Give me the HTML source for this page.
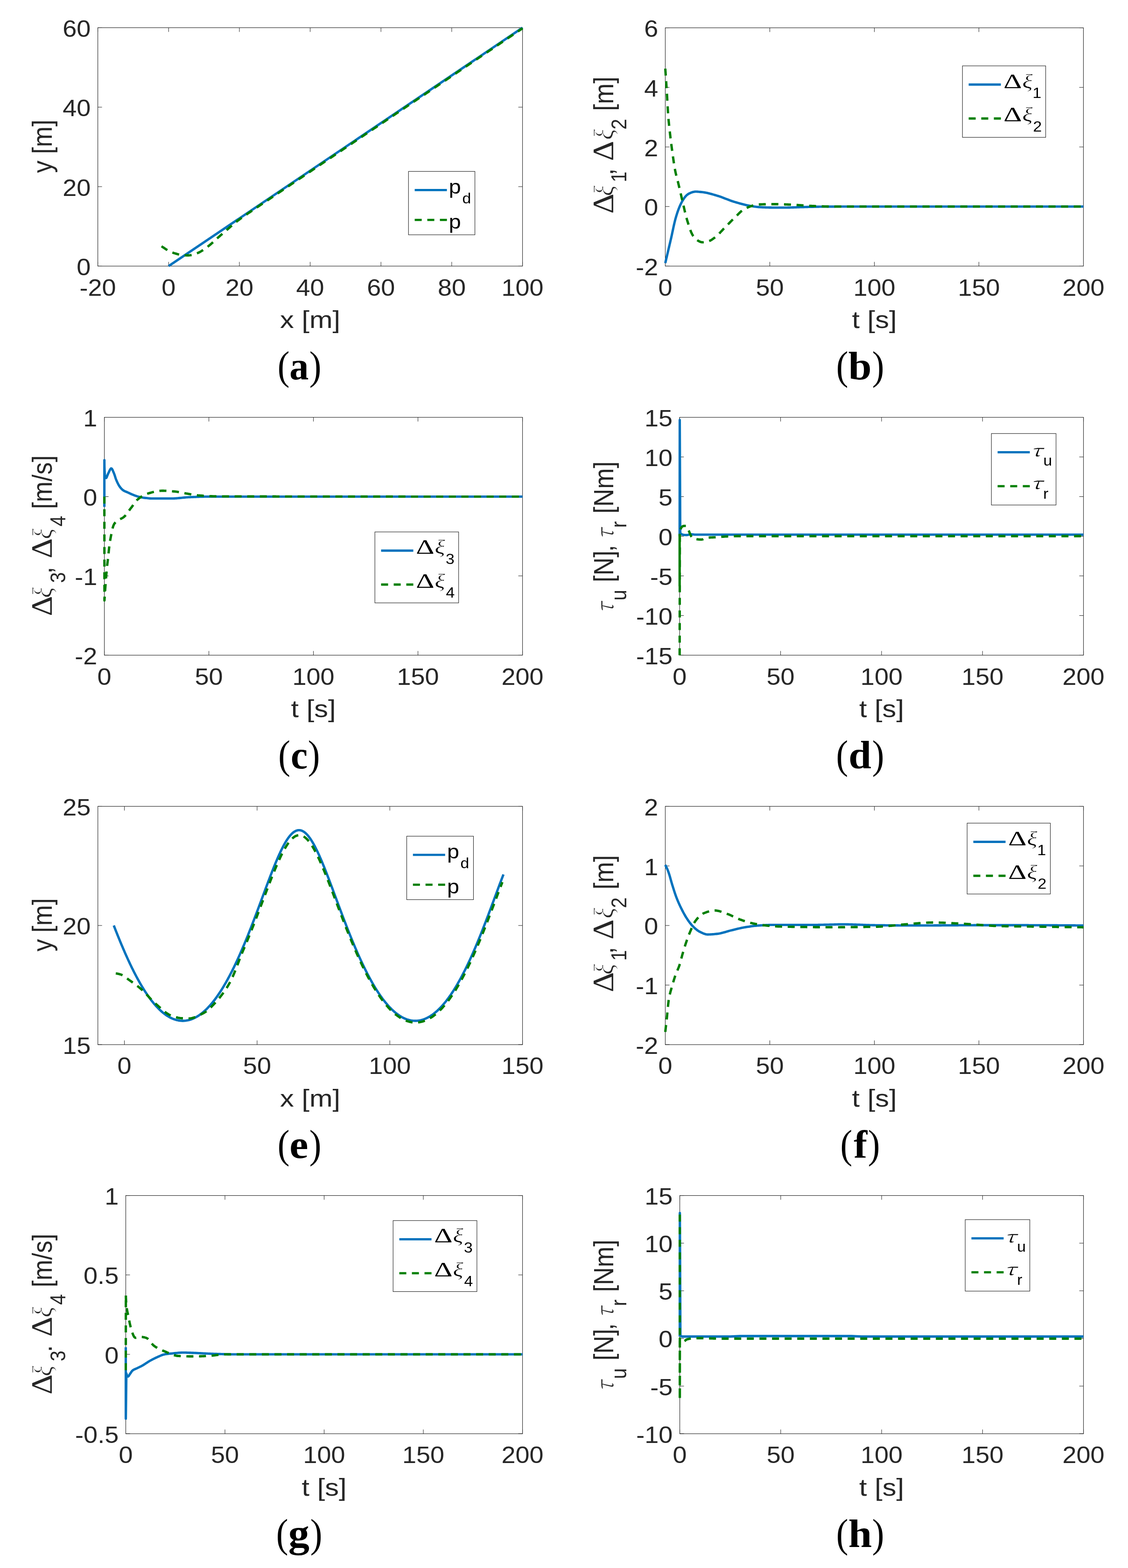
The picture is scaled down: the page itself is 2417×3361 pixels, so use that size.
<!DOCTYPE html>
<html><head><meta charset="utf-8"><title>Figure</title>
<style>html,body{margin:0;padding:0;background:#fff;} svg{display:block;} text{font-kerning:none;}</style></head>
<body><svg width="2417" height="3361" viewBox="0 0 2417 3361">
<rect width="2417" height="3361" fill="#fff"/>
<rect x="209.60" y="59.40" width="910.00" height="511.00" fill="none" stroke="#262626" stroke-width="1.1"/>
<line x1="209.60" y1="570.40" x2="209.60" y2="561.40" stroke="#262626" stroke-width="1.0"/>
<line x1="209.60" y1="59.40" x2="209.60" y2="68.40" stroke="#262626" stroke-width="1.0"/>
<text transform="translate(170.55,633.50) scale(1.0940,1)" style="font-family:'Liberation Sans', sans-serif;font-size:49.4px" fill="#262626">-20</text>
<line x1="361.27" y1="570.40" x2="361.27" y2="561.40" stroke="#262626" stroke-width="1.0"/>
<line x1="361.27" y1="59.40" x2="361.27" y2="68.40" stroke="#262626" stroke-width="1.0"/>
<text transform="translate(346.24,633.50) scale(1.0940,1)" style="font-family:'Liberation Sans', sans-serif;font-size:49.4px" fill="#262626">0</text>
<line x1="512.93" y1="570.40" x2="512.93" y2="561.40" stroke="#262626" stroke-width="1.0"/>
<line x1="512.93" y1="59.40" x2="512.93" y2="68.40" stroke="#262626" stroke-width="1.0"/>
<text transform="translate(482.88,633.50) scale(1.0940,1)" style="font-family:'Liberation Sans', sans-serif;font-size:49.4px" fill="#262626">20</text>
<line x1="664.60" y1="570.40" x2="664.60" y2="561.40" stroke="#262626" stroke-width="1.0"/>
<line x1="664.60" y1="59.40" x2="664.60" y2="68.40" stroke="#262626" stroke-width="1.0"/>
<text transform="translate(634.54,633.50) scale(1.0940,1)" style="font-family:'Liberation Sans', sans-serif;font-size:49.4px" fill="#262626">40</text>
<line x1="816.27" y1="570.40" x2="816.27" y2="561.40" stroke="#262626" stroke-width="1.0"/>
<line x1="816.27" y1="59.40" x2="816.27" y2="68.40" stroke="#262626" stroke-width="1.0"/>
<text transform="translate(786.21,633.50) scale(1.0940,1)" style="font-family:'Liberation Sans', sans-serif;font-size:49.4px" fill="#262626">60</text>
<line x1="967.93" y1="570.40" x2="967.93" y2="561.40" stroke="#262626" stroke-width="1.0"/>
<line x1="967.93" y1="59.40" x2="967.93" y2="68.40" stroke="#262626" stroke-width="1.0"/>
<text transform="translate(937.88,633.50) scale(1.0940,1)" style="font-family:'Liberation Sans', sans-serif;font-size:49.4px" fill="#262626">80</text>
<line x1="1119.60" y1="570.40" x2="1119.60" y2="561.40" stroke="#262626" stroke-width="1.0"/>
<line x1="1119.60" y1="59.40" x2="1119.60" y2="68.40" stroke="#262626" stroke-width="1.0"/>
<text transform="translate(1074.52,633.50) scale(1.0940,1)" style="font-family:'Liberation Sans', sans-serif;font-size:49.4px" fill="#262626">100</text>
<line x1="209.60" y1="570.40" x2="218.60" y2="570.40" stroke="#262626" stroke-width="1.0"/>
<line x1="1119.60" y1="570.40" x2="1110.60" y2="570.40" stroke="#262626" stroke-width="1.0"/>
<text transform="translate(164.24,589.90) scale(1.0940,1)" style="font-family:'Liberation Sans', sans-serif;font-size:49.4px" fill="#262626">0</text>
<line x1="209.60" y1="400.07" x2="218.60" y2="400.07" stroke="#262626" stroke-width="1.0"/>
<line x1="1119.60" y1="400.07" x2="1110.60" y2="400.07" stroke="#262626" stroke-width="1.0"/>
<text transform="translate(134.19,419.57) scale(1.0940,1)" style="font-family:'Liberation Sans', sans-serif;font-size:49.4px" fill="#262626">20</text>
<line x1="209.60" y1="229.73" x2="218.60" y2="229.73" stroke="#262626" stroke-width="1.0"/>
<line x1="1119.60" y1="229.73" x2="1110.60" y2="229.73" stroke="#262626" stroke-width="1.0"/>
<text transform="translate(134.19,249.23) scale(1.0940,1)" style="font-family:'Liberation Sans', sans-serif;font-size:49.4px" fill="#262626">40</text>
<line x1="209.60" y1="59.40" x2="218.60" y2="59.40" stroke="#262626" stroke-width="1.0"/>
<line x1="1119.60" y1="59.40" x2="1110.60" y2="59.40" stroke="#262626" stroke-width="1.0"/>
<text transform="translate(134.19,78.90) scale(1.0940,1)" style="font-family:'Liberation Sans', sans-serif;font-size:49.4px" fill="#262626">60</text>
<path d="M361.27,570.40 L1119.60,59.40" fill="none" stroke="#0072BD" stroke-width="5.1" stroke-linejoin="round"/>
<path d="M346.10,527.82 L347.75,528.97 L349.41,530.10 L351.07,531.22 L352.75,532.32 L354.43,533.42 L356.12,534.53 L357.81,535.63 L359.53,536.67 L361.28,537.62 L363.07,538.48 L364.90,539.32 L366.75,540.12 L368.62,540.89 L370.50,541.62 L372.40,542.30 L374.31,542.93 L376.22,543.51 L378.14,544.07 L380.08,544.63 L382.03,545.18 L383.99,545.70 L385.96,546.16 L387.93,546.54 L389.91,546.83 L391.90,547.00 L393.89,547.12 L395.90,547.22 L397.91,547.30 L399.93,547.37 L401.94,547.40 L403.94,547.39 L405.94,547.24 L407.94,546.98 L409.94,546.63 L411.92,546.23 L413.87,545.81 L415.80,545.35 L417.72,544.77 L419.62,544.09 L421.51,543.33 L423.36,542.52 L425.19,541.69 L426.98,540.83 L428.75,539.90 L430.49,538.89 L432.21,537.83 L433.91,536.74 L435.60,535.63 L437.27,534.52 L438.92,533.39 L440.56,532.23 L442.18,531.04 L443.78,529.82 L445.38,528.59 L446.95,527.34 L448.51,526.08 L450.05,524.81 L451.58,523.51 L453.09,522.19 L454.59,520.85 L456.08,519.51 L457.56,518.15 L459.03,516.78 L460.51,515.41 L461.98,514.04 L463.46,512.68 L464.94,511.32 L466.43,509.97 L467.93,508.64 L469.43,507.31 L470.94,505.98 L472.45,504.66 L473.96,503.33 L475.47,502.01 L476.98,500.68 L478.49,499.36 L480.00,498.05 L481.52,496.73 L483.04,495.41 L484.55,494.10 L486.07,492.78 L487.59,491.47 L489.11,490.15 L490.62,488.83 L492.14,487.51 L493.65,486.18 L495.16,484.86 L496.67,483.54 L498.19,482.22 L499.71,480.91 L501.24,479.61 L502.78,478.32 L504.33,477.04 L505.89,475.79 L507.46,474.55 L509.05,473.32 L510.65,472.11 L512.26,470.91 L513.87,469.72 L515.50,468.54 L517.13,467.37 L518.77,466.21 L520.41,465.05 L522.06,463.89 L523.71,462.74 L525.36,461.59 L527.01,460.45 L528.65,459.30 L530.30,458.16 L531.96,457.02 L533.62,455.89 L535.28,454.77 L536.95,453.64 L538.62,452.53 L540.28,451.41 L541.96,450.30 L543.63,449.18 L545.30,448.07 L546.97,446.96 L548.64,445.84 L550.31,444.72 L551.97,443.60 L553.64,442.48 L555.30,441.35 L556.97,440.23 L558.63,439.11 L560.30,437.99 L561.96,436.87 L563.63,435.74 L565.29,434.62 L566.96,433.50 L568.62,432.38 L570.29,431.26 L571.95,430.13 L573.62,429.01 L575.28,427.89 L576.95,426.77 L578.61,425.64 L580.28,424.52 L581.94,423.40 L583.61,422.28 L585.27,421.16 L586.94,420.03 L588.60,418.91 L590.27,417.79 L591.94,416.67 L593.60,415.55 L595.27,414.42 L596.93,413.30 L598.60,412.18 L600.26,411.06 L601.93,409.94 L603.59,408.81 L605.26,407.69 L606.92,406.57 L608.59,405.45 L610.25,404.33 L611.92,403.20 L613.58,402.08 L615.25,400.96 L616.91,399.84 L618.58,398.72 L620.24,397.59 L621.91,396.47 L623.58,395.35 L625.24,394.23 L626.91,393.11 L628.57,391.99 L630.24,390.86 L631.90,389.74 L633.57,388.62 L635.23,387.50 L636.90,386.38 L638.56,385.25 L640.23,384.13 L641.89,383.01 L643.56,381.89 L645.22,380.77 L646.89,379.64 L648.55,378.52 L650.22,377.40 L651.89,376.28 L653.55,375.16 L655.22,374.03 L656.88,372.91 L658.55,371.79 L660.21,370.67 L661.88,369.55 L663.54,368.43 L665.21,367.30 L666.87,366.18 L668.54,365.06 L670.20,363.94 L671.87,362.82 L673.53,361.69 L675.20,360.57 L676.86,359.45 L678.53,358.33 L680.19,357.21 L681.86,356.08 L683.53,354.96 L685.19,353.84 L686.86,352.72 L688.52,351.60 L690.19,350.47 L691.85,349.35 L693.52,348.23 L695.18,347.11 L696.85,345.98 L698.51,344.86 L700.18,343.74 L701.84,342.62 L703.51,341.50 L705.17,340.37 L706.84,339.25 L708.50,338.13 L710.17,337.01 L711.83,335.88 L713.50,334.76 L715.16,333.64 L716.83,332.52 L718.49,331.40 L720.16,330.27 L721.82,329.15 L723.49,328.03 L725.15,326.91 L726.82,325.78 L728.48,324.66 L730.15,323.54 L731.81,322.42 L733.48,321.29 L735.14,320.17 L736.81,319.05 L738.47,317.93 L740.14,316.80 L741.80,315.68 L743.47,314.56 L745.13,313.44 L746.80,312.31 L748.46,311.19 L750.13,310.07 L751.79,308.95 L753.45,307.82 L755.12,306.70 L756.78,305.58 L758.45,304.45 L760.11,303.33 L761.78,302.21 L763.44,301.09 L765.11,299.96 L766.77,298.84 L768.44,297.72 L770.10,296.60 L771.77,295.47 L773.43,294.35 L775.10,293.23 L776.76,292.10 L778.43,290.98 L780.09,289.86 L781.76,288.74 L783.42,287.61 L785.09,286.49 L786.75,285.37 L788.41,284.25 L790.08,283.12 L791.74,282.00 L793.41,280.88 L795.07,279.75 L796.74,278.63 L798.40,277.51 L800.07,276.39 L801.73,275.26 L803.40,274.14 L805.06,273.02 L806.73,271.89 L808.39,270.77 L810.06,269.65 L811.72,268.53 L813.38,267.40 L815.05,266.28 L816.71,265.16 L818.38,264.03 L820.04,262.91 L821.71,261.79 L823.37,260.67 L825.04,259.54 L826.70,258.42 L828.37,257.30 L830.03,256.17 L831.70,255.05 L833.36,253.93 L835.02,252.81 L836.69,251.68 L838.35,250.56 L840.02,249.44 L841.68,248.31 L843.35,247.19 L845.01,246.07 L846.68,244.94 L848.34,243.82 L850.01,242.70 L851.67,241.58 L853.34,240.45 L855.00,239.33 L856.66,238.21 L858.33,237.08 L859.99,235.96 L861.66,234.84 L863.32,233.71 L864.99,232.59 L866.65,231.47 L868.32,230.35 L869.98,229.22 L871.65,228.10 L873.31,226.98 L874.97,225.85 L876.64,224.73 L878.30,223.61 L879.97,222.48 L881.63,221.36 L883.30,220.24 L884.96,219.11 L886.63,217.99 L888.29,216.87 L889.95,215.75 L891.62,214.62 L893.28,213.50 L894.95,212.38 L896.61,211.25 L898.28,210.13 L899.94,209.01 L901.61,207.88 L903.27,206.76 L904.93,205.64 L906.60,204.51 L908.26,203.39 L909.93,202.27 L911.59,201.14 L913.26,200.02 L914.92,198.90 L916.59,197.77 L918.25,196.65 L919.91,195.53 L921.58,194.40 L923.24,193.28 L924.91,192.16 L926.57,191.03 L928.24,189.91 L929.90,188.79 L931.56,187.66 L933.23,186.54 L934.89,185.42 L936.56,184.29 L938.22,183.17 L939.89,182.05 L941.55,180.92 L943.21,179.80 L944.88,178.68 L946.54,177.55 L948.21,176.43 L949.87,175.31 L951.54,174.18 L953.20,173.06 L954.86,171.94 L956.53,170.81 L958.19,169.69 L959.86,168.57 L961.52,167.44 L963.19,166.32 L964.85,165.20 L966.51,164.07 L968.18,162.95 L969.84,161.83 L971.51,160.70 L973.17,159.58 L974.84,158.46 L976.50,157.33 L978.16,156.21 L979.83,155.08 L981.49,153.96 L983.16,152.84 L984.82,151.71 L986.48,150.59 L988.15,149.47 L989.81,148.34 L991.48,147.22 L993.14,146.10 L994.81,144.97 L996.47,143.85 L998.13,142.73 L999.80,141.60 L1001.46,140.48 L1003.13,139.35 L1004.79,138.23 L1006.45,137.11 L1008.12,135.98 L1009.78,134.86 L1011.45,133.74 L1013.11,132.61 L1014.77,131.49 L1016.44,130.37 L1018.10,129.24 L1019.77,128.12 L1021.43,126.99 L1023.10,125.87 L1024.76,124.75 L1026.42,123.62 L1028.09,122.50 L1029.75,121.38 L1031.42,120.25 L1033.08,119.13 L1034.74,118.00 L1036.41,116.88 L1038.07,115.76 L1039.74,114.63 L1041.40,113.51 L1043.06,112.38 L1044.73,111.26 L1046.39,110.14 L1048.06,109.01 L1049.72,107.89 L1051.38,106.77 L1053.05,105.64 L1054.71,104.52 L1056.38,103.39 L1058.04,102.27 L1059.70,101.15 L1061.37,100.02 L1063.03,98.90 L1064.69,97.77 L1066.36,96.65 L1068.02,95.53 L1069.69,94.40 L1071.35,93.28 L1073.01,92.15 L1074.68,91.03 L1076.34,89.91 L1078.01,88.78 L1079.67,87.66 L1081.33,86.53 L1083.00,85.41 L1084.66,84.29 L1086.32,83.16 L1087.99,82.04 L1089.65,80.91 L1091.32,79.79 L1092.98,78.66 L1094.64,77.54 L1096.31,76.42 L1097.97,75.29 L1099.64,74.17 L1101.30,73.04 L1102.96,71.92 L1104.63,70.80 L1106.29,69.67 L1107.95,68.55 L1109.62,67.42 L1111.28,66.30 L1112.95,65.17 L1114.61,64.05 L1116.27,62.93 L1117.94,61.80 L1119.60,60.68" fill="none" stroke="#007F00" stroke-width="5.1" stroke-linejoin="round" stroke-dasharray="15,12"/>
<text transform="translate(600.05,702.70) scale(1.1350,1)" style="font-family:'Liberation Sans', sans-serif;font-size:52.5px" fill="#262626">x [m]</text>
<text transform="translate(110.60,370.63) scale(1.1100,1) rotate(-90) scale(1.0000,1)" style="font-family:'Liberation Sans', sans-serif;font-size:53.0px" fill="#262626">y</text>
<text transform="translate(110.60,330.08) scale(1.1100,1) rotate(-90) scale(1.0000,1)" style="font-family:'Liberation Sans', sans-serif;font-size:53.0px" fill="#262626">[m]</text>
<text transform="translate(594.70,812.90) scale(0.9000,1)" style="font-family:'Liberation Serif', serif;font-size:86.0px" fill="#000">(</text>
<text transform="translate(662.73,812.90) scale(0.9000,1)" style="font-family:'Liberation Serif', serif;font-size:86.0px" fill="#000">)</text>
<text transform="translate(620.14,812.90) scale(0.9810,1)" style="font-family:'Liberation Serif', serif;font-size:84.0px;font-weight:bold" fill="#000">a</text>
<rect x="1425.50" y="59.60" width="896.00" height="510.80" fill="none" stroke="#262626" stroke-width="1.1"/>
<line x1="1425.50" y1="570.40" x2="1425.50" y2="561.40" stroke="#262626" stroke-width="1.0"/>
<line x1="1425.50" y1="59.60" x2="1425.50" y2="68.60" stroke="#262626" stroke-width="1.0"/>
<text transform="translate(1410.47,633.50) scale(1.0940,1)" style="font-family:'Liberation Sans', sans-serif;font-size:49.4px" fill="#262626">0</text>
<line x1="1649.50" y1="570.40" x2="1649.50" y2="561.40" stroke="#262626" stroke-width="1.0"/>
<line x1="1649.50" y1="59.60" x2="1649.50" y2="68.60" stroke="#262626" stroke-width="1.0"/>
<text transform="translate(1619.44,633.50) scale(1.0940,1)" style="font-family:'Liberation Sans', sans-serif;font-size:49.4px" fill="#262626">50</text>
<line x1="1873.50" y1="570.40" x2="1873.50" y2="561.40" stroke="#262626" stroke-width="1.0"/>
<line x1="1873.50" y1="59.60" x2="1873.50" y2="68.60" stroke="#262626" stroke-width="1.0"/>
<text transform="translate(1828.42,633.50) scale(1.0940,1)" style="font-family:'Liberation Sans', sans-serif;font-size:49.4px" fill="#262626">100</text>
<line x1="2097.50" y1="570.40" x2="2097.50" y2="561.40" stroke="#262626" stroke-width="1.0"/>
<line x1="2097.50" y1="59.60" x2="2097.50" y2="68.60" stroke="#262626" stroke-width="1.0"/>
<text transform="translate(2052.42,633.50) scale(1.0940,1)" style="font-family:'Liberation Sans', sans-serif;font-size:49.4px" fill="#262626">150</text>
<line x1="2321.50" y1="570.40" x2="2321.50" y2="561.40" stroke="#262626" stroke-width="1.0"/>
<line x1="2321.50" y1="59.60" x2="2321.50" y2="68.60" stroke="#262626" stroke-width="1.0"/>
<text transform="translate(2276.42,633.50) scale(1.0940,1)" style="font-family:'Liberation Sans', sans-serif;font-size:49.4px" fill="#262626">200</text>
<line x1="1425.50" y1="570.40" x2="1434.50" y2="570.40" stroke="#262626" stroke-width="1.0"/>
<line x1="2321.50" y1="570.40" x2="2312.50" y2="570.40" stroke="#262626" stroke-width="1.0"/>
<text transform="translate(1362.15,589.90) scale(1.0940,1)" style="font-family:'Liberation Sans', sans-serif;font-size:49.4px" fill="#262626">-2</text>
<line x1="1425.50" y1="442.70" x2="1434.50" y2="442.70" stroke="#262626" stroke-width="1.0"/>
<line x1="2321.50" y1="442.70" x2="2312.50" y2="442.70" stroke="#262626" stroke-width="1.0"/>
<text transform="translate(1380.14,462.20) scale(1.0940,1)" style="font-family:'Liberation Sans', sans-serif;font-size:49.4px" fill="#262626">0</text>
<line x1="1425.50" y1="315.00" x2="1434.50" y2="315.00" stroke="#262626" stroke-width="1.0"/>
<line x1="2321.50" y1="315.00" x2="2312.50" y2="315.00" stroke="#262626" stroke-width="1.0"/>
<text transform="translate(1380.14,334.50) scale(1.0940,1)" style="font-family:'Liberation Sans', sans-serif;font-size:49.4px" fill="#262626">2</text>
<line x1="1425.50" y1="187.30" x2="1434.50" y2="187.30" stroke="#262626" stroke-width="1.0"/>
<line x1="2321.50" y1="187.30" x2="2312.50" y2="187.30" stroke="#262626" stroke-width="1.0"/>
<text transform="translate(1380.14,206.80) scale(1.0940,1)" style="font-family:'Liberation Sans', sans-serif;font-size:49.4px" fill="#262626">4</text>
<line x1="1425.50" y1="59.60" x2="1434.50" y2="59.60" stroke="#262626" stroke-width="1.0"/>
<line x1="2321.50" y1="59.60" x2="2312.50" y2="59.60" stroke="#262626" stroke-width="1.0"/>
<text transform="translate(1380.14,79.10) scale(1.0940,1)" style="font-family:'Liberation Sans', sans-serif;font-size:49.4px" fill="#262626">6</text>
<path d="M1425.50,564.01 L1425.96,562.06 L1426.41,560.11 L1426.87,558.16 L1427.33,556.21 L1427.78,554.26 L1428.24,552.31 L1428.69,550.35 L1429.15,548.40 L1429.61,546.45 L1430.06,544.50 L1430.52,542.55 L1430.98,540.60 L1431.43,538.65 L1431.89,536.69 L1432.35,534.74 L1432.80,532.79 L1433.26,530.84 L1433.72,528.89 L1434.17,526.94 L1434.63,524.99 L1435.08,523.03 L1435.54,521.08 L1436.00,519.13 L1436.45,517.18 L1436.91,515.23 L1437.37,513.28 L1437.82,511.32 L1438.27,509.37 L1438.71,507.41 L1439.14,505.45 L1439.57,503.48 L1439.99,501.52 L1440.41,499.55 L1440.82,497.58 L1441.24,495.61 L1441.66,493.64 L1442.07,491.67 L1442.49,489.71 L1442.91,487.74 L1443.34,485.77 L1443.77,483.81 L1444.21,481.85 L1444.66,479.90 L1445.11,477.95 L1445.58,476.00 L1446.06,474.06 L1446.55,472.12 L1447.05,470.19 L1447.57,468.27 L1448.11,466.35 L1448.66,464.44 L1449.23,462.54 L1449.82,460.63 L1450.42,458.72 L1451.05,456.80 L1451.69,454.88 L1452.35,452.95 L1453.03,451.03 L1453.73,449.12 L1454.46,447.21 L1455.20,445.32 L1455.97,443.43 L1456.77,441.57 L1457.59,439.73 L1458.43,437.91 L1459.31,436.12 L1460.21,434.35 L1461.14,432.62 L1462.09,430.93 L1463.09,429.26 L1464.15,427.55 L1465.29,425.81 L1466.50,424.08 L1467.78,422.38 L1469.12,420.76 L1470.52,419.25 L1471.97,417.89 L1473.47,416.71 L1475.02,415.75 L1476.67,414.87 L1478.45,413.99 L1480.33,413.16 L1482.29,412.40 L1484.29,411.75 L1486.31,411.24 L1488.33,410.91 L1490.31,410.78 L1492.27,410.80 L1494.26,410.89 L1496.26,411.02 L1498.27,411.19 L1500.29,411.39 L1502.30,411.61 L1504.30,411.84 L1506.28,412.07 L1508.26,412.33 L1510.23,412.63 L1512.19,412.98 L1514.16,413.37 L1516.11,413.79 L1518.07,414.24 L1520.02,414.73 L1521.97,415.23 L1523.92,415.76 L1525.86,416.30 L1527.80,416.86 L1529.73,417.42 L1531.66,417.99 L1533.59,418.56 L1535.51,419.13 L1537.43,419.69 L1539.34,420.27 L1541.25,420.88 L1543.14,421.52 L1545.03,422.18 L1546.91,422.87 L1548.79,423.57 L1550.67,424.29 L1552.54,425.02 L1554.41,425.76 L1556.28,426.50 L1558.15,427.23 L1560.02,427.96 L1561.90,428.69 L1563.78,429.39 L1565.66,430.08 L1567.55,430.75 L1569.44,431.40 L1571.35,432.01 L1573.26,432.59 L1575.17,433.16 L1577.09,433.73 L1579.02,434.29 L1580.94,434.85 L1582.88,435.40 L1584.81,435.95 L1586.75,436.48 L1588.69,437.01 L1590.63,437.52 L1592.58,438.03 L1594.53,438.51 L1596.48,438.99 L1598.43,439.44 L1600.39,439.88 L1602.35,440.29 L1604.31,440.69 L1606.27,441.06 L1608.24,441.42 L1610.21,441.75 L1612.18,442.09 L1614.16,442.42 L1616.15,442.74 L1618.14,443.04 L1620.13,443.31 L1622.12,443.55 L1624.11,443.75 L1626.11,443.91 L1628.10,444.03 L1630.10,444.14 L1632.10,444.25 L1634.10,444.35 L1636.10,444.44 L1638.10,444.53 L1640.11,444.61 L1642.11,444.69 L1644.12,444.75 L1646.12,444.81 L1648.13,444.86 L1650.13,444.89 L1652.14,444.92 L1654.14,444.93 L1656.15,444.93 L1658.15,444.93 L1660.16,444.93 L1662.16,444.93 L1664.16,444.93 L1666.17,444.93 L1668.17,444.93 L1670.18,444.93 L1672.18,444.93 L1674.19,444.93 L1676.19,444.93 L1678.19,444.93 L1680.20,444.93 L1682.20,444.93 L1684.21,444.93 L1686.21,444.93 L1688.21,444.92 L1690.22,444.89 L1692.22,444.85 L1694.22,444.79 L1696.23,444.73 L1698.23,444.66 L1700.23,444.59 L1702.24,444.51 L1704.24,444.43 L1706.24,444.34 L1708.25,444.26 L1710.25,444.19 L1712.25,444.11 L1714.25,444.05 L1716.26,443.99 L1718.26,443.94 L1720.27,443.89 L1722.27,443.83 L1724.27,443.78 L1726.28,443.73 L1728.28,443.67 L1730.28,443.62 L1732.29,443.57 L1734.29,443.52 L1736.29,443.47 L1738.30,443.42 L1740.30,443.37 L1742.30,443.33 L1744.31,443.28 L1746.31,443.24 L1748.32,443.20 L1750.32,443.17 L1752.32,443.13 L1754.33,443.10 L1756.33,443.07 L1758.34,443.05 L1760.34,443.03 L1762.34,443.01 L1764.35,443.00 L1766.35,442.98 L1768.35,442.97 L1770.36,442.95 L1772.36,442.93 L1774.37,442.92 L1776.37,442.91 L1778.38,442.89 L1780.38,442.88 L1782.38,442.87 L1784.39,442.85 L1786.39,442.84 L1788.40,442.83 L1790.40,442.82 L1792.40,442.81 L1794.41,442.79 L1796.41,442.78 L1798.42,442.78 L1800.42,442.77 L1802.42,442.76 L1804.43,442.75 L1806.43,442.74 L1808.44,442.73 L1810.44,442.73 L1812.45,442.72 L1814.45,442.72 L1816.45,442.71 L1818.46,442.71 L1820.46,442.71 L1822.47,442.70 L1824.47,442.70 L1826.48,442.70 L1828.48,442.70 L1830.48,442.70 L1832.49,442.70 L1834.49,442.70 L1836.50,442.70 L1838.50,442.70 L1840.50,442.70 L1842.51,442.70 L1844.51,442.70 L1846.52,442.70 L1848.52,442.70 L1850.52,442.70 L1852.53,442.70 L1854.53,442.70 L1856.54,442.70 L1858.54,442.70 L1860.55,442.70 L1862.55,442.70 L1864.55,442.70 L1866.56,442.70 L1868.56,442.70 L1870.57,442.70 L1872.57,442.70 L1874.57,442.70 L1876.58,442.70 L1878.58,442.70 L1880.59,442.70 L1882.59,442.70 L1884.60,442.70 L1886.60,442.70 L1888.60,442.70 L1890.61,442.70 L1892.61,442.70 L1894.62,442.70 L1896.62,442.70 L1898.62,442.70 L1900.63,442.70 L1902.63,442.70 L1904.64,442.70 L1906.64,442.70 L1908.64,442.70 L1910.65,442.70 L1912.65,442.70 L1914.66,442.70 L1916.66,442.70 L1918.67,442.70 L1920.67,442.70 L1922.67,442.70 L1924.68,442.70 L1926.68,442.70 L1928.69,442.70 L1930.69,442.70 L1932.69,442.70 L1934.70,442.70 L1936.70,442.70 L1938.71,442.70 L1940.71,442.70 L1942.72,442.70 L1944.72,442.70 L1946.72,442.70 L1948.73,442.70 L1950.73,442.70 L1952.74,442.70 L1954.74,442.70 L1956.74,442.70 L1958.75,442.70 L1960.75,442.70 L1962.76,442.70 L1964.76,442.70 L1966.76,442.70 L1968.77,442.70 L1970.77,442.70 L1972.78,442.70 L1974.78,442.70 L1976.79,442.70 L1978.79,442.70 L1980.79,442.70 L1982.80,442.70 L1984.80,442.70 L1986.81,442.70 L1988.81,442.70 L1990.81,442.70 L1992.82,442.70 L1994.82,442.70 L1996.83,442.70 L1998.83,442.70 L2000.84,442.70 L2002.84,442.70 L2004.84,442.70 L2006.85,442.70 L2008.85,442.70 L2010.86,442.70 L2012.86,442.70 L2014.86,442.70 L2016.87,442.70 L2018.87,442.70 L2020.88,442.70 L2022.88,442.70 L2024.88,442.70 L2026.89,442.70 L2028.89,442.70 L2030.90,442.70 L2032.90,442.70 L2034.91,442.70 L2036.91,442.70 L2038.91,442.70 L2040.92,442.70 L2042.92,442.70 L2044.93,442.70 L2046.93,442.70 L2048.93,442.70 L2050.94,442.70 L2052.94,442.70 L2054.95,442.70 L2056.95,442.70 L2058.96,442.70 L2060.96,442.70 L2062.96,442.70 L2064.97,442.70 L2066.97,442.70 L2068.98,442.70 L2070.98,442.70 L2072.98,442.70 L2074.99,442.70 L2076.99,442.70 L2079.00,442.70 L2081.00,442.70 L2083.01,442.70 L2085.01,442.70 L2087.01,442.70 L2089.02,442.70 L2091.02,442.70 L2093.03,442.70 L2095.03,442.70 L2097.03,442.70 L2099.04,442.70 L2101.04,442.70 L2103.05,442.70 L2105.05,442.70 L2107.06,442.70 L2109.06,442.70 L2111.06,442.70 L2113.07,442.70 L2115.07,442.70 L2117.08,442.70 L2119.08,442.70 L2121.08,442.70 L2123.09,442.70 L2125.09,442.70 L2127.10,442.70 L2129.10,442.70 L2131.10,442.70 L2133.11,442.70 L2135.11,442.70 L2137.12,442.70 L2139.12,442.70 L2141.13,442.70 L2143.13,442.70 L2145.13,442.70 L2147.14,442.70 L2149.14,442.70 L2151.15,442.70 L2153.15,442.70 L2155.15,442.70 L2157.16,442.70 L2159.16,442.70 L2161.17,442.70 L2163.17,442.70 L2165.18,442.70 L2167.18,442.70 L2169.18,442.70 L2171.19,442.70 L2173.19,442.70 L2175.20,442.70 L2177.20,442.70 L2179.20,442.70 L2181.21,442.70 L2183.21,442.70 L2185.22,442.70 L2187.22,442.70 L2189.23,442.70 L2191.23,442.70 L2193.23,442.70 L2195.24,442.70 L2197.24,442.70 L2199.25,442.70 L2201.25,442.70 L2203.25,442.70 L2205.26,442.70 L2207.26,442.70 L2209.27,442.70 L2211.27,442.70 L2213.28,442.70 L2215.28,442.70 L2217.28,442.70 L2219.29,442.70 L2221.29,442.70 L2223.30,442.70 L2225.30,442.70 L2227.30,442.70 L2229.31,442.70 L2231.31,442.70 L2233.32,442.70 L2235.32,442.70 L2237.33,442.70 L2239.33,442.70 L2241.33,442.70 L2243.34,442.70 L2245.34,442.70 L2247.35,442.70 L2249.35,442.70 L2251.35,442.70 L2253.36,442.70 L2255.36,442.70 L2257.37,442.70 L2259.37,442.70 L2261.38,442.70 L2263.38,442.70 L2265.38,442.70 L2267.39,442.70 L2269.39,442.70 L2271.40,442.70 L2273.40,442.70 L2275.40,442.70 L2277.41,442.70 L2279.41,442.70 L2281.42,442.70 L2283.42,442.70 L2285.42,442.70 L2287.43,442.70 L2289.43,442.70 L2291.44,442.70 L2293.44,442.70 L2295.45,442.70 L2297.45,442.70 L2299.45,442.70 L2301.46,442.70 L2303.46,442.70 L2305.47,442.70 L2307.47,442.70 L2309.47,442.70 L2311.48,442.70 L2313.48,442.70 L2315.49,442.70 L2317.49,442.70 L2319.50,442.70 L2321.50,442.70" fill="none" stroke="#0072BD" stroke-width="5.1" stroke-linejoin="round"/>
<path d="M1425.50,147.07 L1425.64,149.07 L1425.78,151.07 L1425.92,153.07 L1426.06,155.07 L1426.20,157.07 L1426.34,159.07 L1426.47,161.07 L1426.61,163.07 L1426.74,165.07 L1426.88,167.07 L1427.01,169.07 L1427.15,171.07 L1427.28,173.07 L1427.41,175.07 L1427.55,177.07 L1427.68,179.07 L1427.81,181.06 L1427.94,183.06 L1428.07,185.06 L1428.19,187.06 L1428.32,189.06 L1428.45,191.06 L1428.58,193.06 L1428.70,195.06 L1428.83,197.06 L1428.95,199.06 L1429.07,201.07 L1429.18,203.07 L1429.30,205.07 L1429.41,207.07 L1429.52,209.07 L1429.63,211.07 L1429.74,213.07 L1429.84,215.08 L1429.95,217.08 L1430.05,219.08 L1430.16,221.08 L1430.27,223.08 L1430.38,225.08 L1430.49,227.08 L1430.60,229.09 L1430.71,231.09 L1430.83,233.09 L1430.95,235.09 L1431.07,237.09 L1431.20,239.09 L1431.33,241.09 L1431.47,243.08 L1431.61,245.08 L1431.75,247.08 L1431.91,249.08 L1432.07,251.07 L1432.23,253.07 L1432.40,255.07 L1432.58,257.06 L1432.77,259.06 L1432.96,261.05 L1433.15,263.05 L1433.35,265.04 L1433.56,267.03 L1433.76,269.03 L1433.98,271.02 L1434.19,273.02 L1434.41,275.01 L1434.63,277.00 L1434.85,278.99 L1435.07,280.99 L1435.30,282.98 L1435.52,284.97 L1435.75,286.96 L1435.98,288.95 L1436.20,290.94 L1436.43,292.93 L1436.66,294.92 L1436.90,296.91 L1437.13,298.90 L1437.38,300.89 L1437.62,302.88 L1437.87,304.87 L1438.12,306.86 L1438.37,308.85 L1438.63,310.84 L1438.89,312.82 L1439.15,314.81 L1439.41,316.80 L1439.68,318.78 L1439.95,320.77 L1440.22,322.76 L1440.49,324.74 L1440.76,326.73 L1441.04,328.71 L1441.31,330.70 L1441.58,332.68 L1441.86,334.67 L1442.13,336.66 L1442.41,338.65 L1442.68,340.63 L1442.97,342.62 L1443.25,344.61 L1443.54,346.59 L1443.84,348.57 L1444.14,350.56 L1444.44,352.54 L1444.76,354.52 L1445.08,356.49 L1445.42,358.47 L1445.76,360.44 L1446.11,362.41 L1446.47,364.37 L1446.86,366.33 L1447.26,368.29 L1447.69,370.25 L1448.14,372.20 L1448.61,374.15 L1449.09,376.09 L1449.58,378.03 L1450.08,379.98 L1450.59,381.92 L1451.10,383.86 L1451.61,385.80 L1452.11,387.74 L1452.61,389.69 L1453.10,391.63 L1453.58,393.58 L1454.05,395.53 L1454.51,397.48 L1454.97,399.43 L1455.43,401.38 L1455.88,403.33 L1456.34,405.28 L1456.79,407.24 L1457.24,409.19 L1457.69,411.14 L1458.14,413.09 L1458.59,415.05 L1459.04,417.00 L1459.50,418.95 L1459.95,420.90 L1460.40,422.86 L1460.86,424.81 L1461.32,426.76 L1461.78,428.71 L1462.25,430.66 L1462.71,432.61 L1463.18,434.56 L1463.64,436.51 L1464.09,438.47 L1464.54,440.43 L1464.98,442.39 L1465.43,444.35 L1465.87,446.31 L1466.32,448.27 L1466.76,450.23 L1467.21,452.19 L1467.67,454.15 L1468.13,456.10 L1468.61,458.06 L1469.09,460.00 L1469.58,461.94 L1470.08,463.88 L1470.60,465.81 L1471.13,467.74 L1471.68,469.65 L1472.24,471.56 L1472.82,473.46 L1473.42,475.37 L1474.03,477.32 L1474.63,479.30 L1475.25,481.32 L1475.88,483.35 L1476.53,485.39 L1477.19,487.43 L1477.88,489.46 L1478.58,491.47 L1479.31,493.46 L1480.07,495.41 L1480.86,497.32 L1481.68,499.18 L1482.54,500.98 L1483.43,502.70 L1484.37,504.35 L1485.35,505.91 L1486.38,507.37 L1487.45,508.73 L1488.62,510.03 L1489.98,511.38 L1491.50,512.76 L1493.17,514.11 L1494.95,515.40 L1496.81,516.58 L1498.73,517.60 L1500.67,518.42 L1502.61,519.00 L1504.52,519.29 L1506.40,519.29 L1508.37,519.14 L1510.39,518.87 L1512.43,518.51 L1514.44,518.09 L1516.40,517.64 L1518.27,517.14 L1520.10,516.47 L1521.91,515.63 L1523.69,514.65 L1525.43,513.56 L1527.15,512.40 L1528.82,511.20 L1530.45,510.00 L1532.04,508.83 L1533.59,507.63 L1535.10,506.36 L1536.58,505.04 L1538.03,503.67 L1539.46,502.27 L1540.87,500.83 L1542.26,499.37 L1543.64,497.88 L1545.01,496.39 L1546.38,494.90 L1547.76,493.40 L1549.14,491.92 L1550.53,490.46 L1551.93,489.02 L1553.35,487.60 L1554.76,486.18 L1556.17,484.75 L1557.58,483.32 L1558.98,481.89 L1560.38,480.46 L1561.78,479.02 L1563.19,477.59 L1564.60,476.16 L1566.01,474.74 L1567.43,473.32 L1568.85,471.92 L1570.28,470.52 L1571.73,469.13 L1573.18,467.75 L1574.63,466.36 L1576.08,464.93 L1577.52,463.47 L1578.97,461.98 L1580.41,460.49 L1581.86,459.00 L1583.31,457.52 L1584.78,456.07 L1586.26,454.66 L1587.77,453.30 L1589.29,452.00 L1590.84,450.77 L1592.42,449.63 L1594.03,448.59 L1595.68,447.65 L1597.36,446.82 L1599.10,446.02 L1600.88,445.21 L1602.71,444.41 L1604.57,443.63 L1606.47,442.88 L1608.40,442.15 L1610.35,441.47 L1612.32,440.83 L1614.30,440.24 L1616.29,439.71 L1618.29,439.25 L1620.29,438.87 L1622.28,438.56 L1624.26,438.35 L1626.23,438.23 L1628.19,438.16 L1630.17,438.10 L1632.15,438.04 L1634.14,437.98 L1636.14,437.92 L1638.14,437.87 L1640.15,437.83 L1642.16,437.79 L1644.17,437.75 L1646.19,437.71 L1648.21,437.68 L1650.22,437.66 L1652.24,437.64 L1654.26,437.62 L1656.27,437.61 L1658.29,437.60 L1660.29,437.59 L1662.30,437.59 L1664.30,437.61 L1666.30,437.63 L1668.31,437.66 L1670.31,437.71 L1672.31,437.76 L1674.32,437.82 L1676.32,437.89 L1678.32,437.96 L1680.33,438.04 L1682.33,438.12 L1684.33,438.21 L1686.34,438.30 L1688.34,438.39 L1690.34,438.48 L1692.34,438.57 L1694.35,438.67 L1696.35,438.76 L1698.35,438.85 L1700.35,438.94 L1702.35,439.04 L1704.35,439.16 L1706.35,439.28 L1708.35,439.41 L1710.35,439.54 L1712.35,439.69 L1714.35,439.83 L1716.35,439.98 L1718.35,440.12 L1720.35,440.27 L1722.35,440.42 L1724.35,440.56 L1726.35,440.70 L1728.35,440.84 L1730.35,440.97 L1732.35,441.09 L1734.35,441.20 L1736.35,441.30 L1738.35,441.39 L1740.35,441.47 L1742.35,441.55 L1744.35,441.63 L1746.36,441.71 L1748.36,441.79 L1750.36,441.87 L1752.36,441.95 L1754.37,442.03 L1756.37,442.10 L1758.37,442.18 L1760.38,442.25 L1762.38,442.31 L1764.38,442.37 L1766.39,442.43 L1768.39,442.49 L1770.40,442.53 L1772.40,442.58 L1774.40,442.61 L1776.41,442.65 L1778.41,442.67 L1780.41,442.69 L1782.42,442.70 L1784.42,442.70 L1786.43,442.70 L1788.43,442.70 L1790.43,442.70 L1792.44,442.70 L1794.44,442.70 L1796.44,442.70 L1798.45,442.70 L1800.45,442.70 L1802.45,442.70 L1804.46,442.70 L1806.46,442.70 L1808.46,442.70 L1810.47,442.70 L1812.47,442.70 L1814.47,442.70 L1816.48,442.70 L1818.48,442.70 L1820.49,442.70 L1822.49,442.70 L1824.49,442.70 L1826.50,442.70 L1828.50,442.70 L1830.50,442.70 L1832.51,442.70 L1834.51,442.70 L1836.51,442.70 L1838.52,442.70 L1840.52,442.70 L1842.52,442.70 L1844.53,442.70 L1846.53,442.70 L1848.54,442.70 L1850.54,442.70 L1852.54,442.70 L1854.55,442.70 L1856.55,442.70 L1858.55,442.70 L1860.56,442.70 L1862.56,442.70 L1864.56,442.70 L1866.57,442.70 L1868.57,442.70 L1870.57,442.70 L1872.58,442.70 L1874.58,442.70 L1876.59,442.70 L1878.59,442.70 L1880.59,442.70 L1882.60,442.70 L1884.60,442.70 L1886.60,442.70 L1888.61,442.70 L1890.61,442.70 L1892.61,442.70 L1894.62,442.70 L1896.62,442.70 L1898.63,442.70 L1900.63,442.70 L1902.63,442.70 L1904.64,442.70 L1906.64,442.70 L1908.64,442.70 L1910.65,442.70 L1912.65,442.70 L1914.65,442.70 L1916.66,442.70 L1918.66,442.70 L1920.67,442.70 L1922.67,442.70 L1924.67,442.70 L1926.68,442.70 L1928.68,442.70 L1930.68,442.70 L1932.69,442.70 L1934.69,442.70 L1936.70,442.70 L1938.70,442.70 L1940.70,442.70 L1942.71,442.70 L1944.71,442.70 L1946.71,442.70 L1948.72,442.70 L1950.72,442.70 L1952.73,442.70 L1954.73,442.70 L1956.73,442.70 L1958.74,442.70 L1960.74,442.70 L1962.74,442.70 L1964.75,442.70 L1966.75,442.70 L1968.76,442.70 L1970.76,442.70 L1972.76,442.70 L1974.77,442.70 L1976.77,442.70 L1978.77,442.70 L1980.78,442.70 L1982.78,442.70 L1984.79,442.70 L1986.79,442.70 L1988.79,442.70 L1990.80,442.70 L1992.80,442.70 L1994.81,442.70 L1996.81,442.70 L1998.81,442.70 L2000.82,442.70 L2002.82,442.70 L2004.82,442.70 L2006.83,442.70 L2008.83,442.70 L2010.84,442.70 L2012.84,442.70 L2014.84,442.70 L2016.85,442.70 L2018.85,442.70 L2020.86,442.70 L2022.86,442.70 L2024.86,442.70 L2026.87,442.70 L2028.87,442.70 L2030.88,442.70 L2032.88,442.70 L2034.88,442.70 L2036.89,442.70 L2038.89,442.70 L2040.89,442.70 L2042.90,442.70 L2044.90,442.70 L2046.91,442.70 L2048.91,442.70 L2050.91,442.70 L2052.92,442.70 L2054.92,442.70 L2056.93,442.70 L2058.93,442.70 L2060.93,442.70 L2062.94,442.70 L2064.94,442.70 L2066.95,442.70 L2068.95,442.70 L2070.95,442.70 L2072.96,442.70 L2074.96,442.70 L2076.97,442.70 L2078.97,442.70 L2080.97,442.70 L2082.98,442.70 L2084.98,442.70 L2086.99,442.70 L2088.99,442.70 L2090.99,442.70 L2093.00,442.70 L2095.00,442.70 L2097.01,442.70 L2099.01,442.70 L2101.01,442.70 L2103.02,442.70 L2105.02,442.70 L2107.03,442.70 L2109.03,442.70 L2111.04,442.70 L2113.04,442.70 L2115.04,442.70 L2117.05,442.70 L2119.05,442.70 L2121.06,442.70 L2123.06,442.70 L2125.06,442.70 L2127.07,442.70 L2129.07,442.70 L2131.08,442.70 L2133.08,442.70 L2135.09,442.70 L2137.09,442.70 L2139.09,442.70 L2141.10,442.70 L2143.10,442.70 L2145.11,442.70 L2147.11,442.70 L2149.11,442.70 L2151.12,442.70 L2153.12,442.70 L2155.13,442.70 L2157.13,442.70 L2159.14,442.70 L2161.14,442.70 L2163.14,442.70 L2165.15,442.70 L2167.15,442.70 L2169.16,442.70 L2171.16,442.70 L2173.17,442.70 L2175.17,442.70 L2177.17,442.70 L2179.18,442.70 L2181.18,442.70 L2183.19,442.70 L2185.19,442.70 L2187.20,442.70 L2189.20,442.70 L2191.20,442.70 L2193.21,442.70 L2195.21,442.70 L2197.22,442.70 L2199.22,442.70 L2201.23,442.70 L2203.23,442.70 L2205.23,442.70 L2207.24,442.70 L2209.24,442.70 L2211.25,442.70 L2213.25,442.70 L2215.26,442.70 L2217.26,442.70 L2219.27,442.70 L2221.27,442.70 L2223.27,442.70 L2225.28,442.70 L2227.28,442.70 L2229.29,442.70 L2231.29,442.70 L2233.30,442.70 L2235.30,442.70 L2237.31,442.70 L2239.31,442.70 L2241.31,442.70 L2243.32,442.70 L2245.32,442.70 L2247.33,442.70 L2249.33,442.70 L2251.34,442.70 L2253.34,442.70 L2255.35,442.70 L2257.35,442.70 L2259.36,442.70 L2261.36,442.70 L2263.36,442.70 L2265.37,442.70 L2267.37,442.70 L2269.38,442.70 L2271.38,442.70 L2273.39,442.70 L2275.39,442.70 L2277.40,442.70 L2279.40,442.70 L2281.41,442.70 L2283.41,442.70 L2285.42,442.70 L2287.42,442.70 L2289.42,442.70 L2291.43,442.70 L2293.43,442.70 L2295.44,442.70 L2297.44,442.70 L2299.45,442.70 L2301.45,442.70 L2303.46,442.70 L2305.46,442.70 L2307.47,442.70 L2309.47,442.70 L2311.48,442.70 L2313.48,442.70 L2315.49,442.70 L2317.49,442.70 L2319.50,442.70 L2321.50,442.70" fill="none" stroke="#007F00" stroke-width="5.1" stroke-linejoin="round" stroke-dasharray="15,12"/>
<text transform="translate(1825.49,702.70) scale(1.1350,1)" style="font-family:'Liberation Sans', sans-serif;font-size:52.5px" fill="#262626">t [s]</text>
<text transform="translate(1313.50,458.05) scale(1.1100,1) rotate(-90) scale(1.1600,1)" style="font-family:'Liberation Serif', serif;font-size:57.7px" fill="#262626">Δ</text>
<text transform="translate(1313.50,420.45) scale(1.1100,1) rotate(-90) scale(1.0000,1)" style="font-family:'Liberation Serif', serif;font-size:54px;font-style:italic" fill="#262626" stroke="#fff" stroke-width="1.10">ξ</text>
<text transform="translate(1342.36,390.76) scale(1.1100,1) rotate(-90) scale(1.0000,1)" style="font-family:'Liberation Sans', sans-serif;font-size:41.5px" fill="#262626">1</text>
<text transform="translate(1313.50,375.76) scale(1.1100,1) rotate(-90) scale(1.0000,1)" style="font-family:'Liberation Sans', sans-serif;font-size:53.0px" fill="#262626">,</text>
<text transform="translate(1313.50,344.95) scale(1.1100,1) rotate(-90) scale(1.1600,1)" style="font-family:'Liberation Serif', serif;font-size:57.7px" fill="#262626">Δ</text>
<text transform="translate(1313.50,299.85) scale(1.1100,1) rotate(-90) scale(1.0000,1)" style="font-family:'Liberation Serif', serif;font-size:54px;font-style:italic" fill="#262626" stroke="#fff" stroke-width="1.10">ξ</text>
<text transform="translate(1342.36,277.79) scale(1.1100,1) rotate(-90) scale(1.0000,1)" style="font-family:'Liberation Sans', sans-serif;font-size:41.5px" fill="#262626">2</text>
<text transform="translate(1313.50,237.78) scale(1.1100,1) rotate(-90) scale(1.0000,1)" style="font-family:'Liberation Sans', sans-serif;font-size:53.0px" fill="#262626">[m]</text>
<text transform="translate(1791.70,812.90) scale(0.9000,1)" style="font-family:'Liberation Serif', serif;font-size:86.0px" fill="#000">(</text>
<text transform="translate(1868.63,812.90) scale(0.9000,1)" style="font-family:'Liberation Serif', serif;font-size:86.0px" fill="#000">)</text>
<text transform="translate(1817.76,812.90) scale(1.0676,1)" style="font-family:'Liberation Serif', serif;font-size:84.0px;font-weight:bold" fill="#000">b</text>
<rect x="223.60" y="894.50" width="896.00" height="509.90" fill="none" stroke="#262626" stroke-width="1.1"/>
<line x1="223.60" y1="1404.40" x2="223.60" y2="1395.40" stroke="#262626" stroke-width="1.0"/>
<line x1="223.60" y1="894.50" x2="223.60" y2="903.50" stroke="#262626" stroke-width="1.0"/>
<text transform="translate(208.57,1467.50) scale(1.0940,1)" style="font-family:'Liberation Sans', sans-serif;font-size:49.4px" fill="#262626">0</text>
<line x1="447.60" y1="1404.40" x2="447.60" y2="1395.40" stroke="#262626" stroke-width="1.0"/>
<line x1="447.60" y1="894.50" x2="447.60" y2="903.50" stroke="#262626" stroke-width="1.0"/>
<text transform="translate(417.54,1467.50) scale(1.0940,1)" style="font-family:'Liberation Sans', sans-serif;font-size:49.4px" fill="#262626">50</text>
<line x1="671.60" y1="1404.40" x2="671.60" y2="1395.40" stroke="#262626" stroke-width="1.0"/>
<line x1="671.60" y1="894.50" x2="671.60" y2="903.50" stroke="#262626" stroke-width="1.0"/>
<text transform="translate(626.52,1467.50) scale(1.0940,1)" style="font-family:'Liberation Sans', sans-serif;font-size:49.4px" fill="#262626">100</text>
<line x1="895.60" y1="1404.40" x2="895.60" y2="1395.40" stroke="#262626" stroke-width="1.0"/>
<line x1="895.60" y1="894.50" x2="895.60" y2="903.50" stroke="#262626" stroke-width="1.0"/>
<text transform="translate(850.52,1467.50) scale(1.0940,1)" style="font-family:'Liberation Sans', sans-serif;font-size:49.4px" fill="#262626">150</text>
<line x1="1119.60" y1="1404.40" x2="1119.60" y2="1395.40" stroke="#262626" stroke-width="1.0"/>
<line x1="1119.60" y1="894.50" x2="1119.60" y2="903.50" stroke="#262626" stroke-width="1.0"/>
<text transform="translate(1074.52,1467.50) scale(1.0940,1)" style="font-family:'Liberation Sans', sans-serif;font-size:49.4px" fill="#262626">200</text>
<line x1="223.60" y1="1404.40" x2="232.60" y2="1404.40" stroke="#262626" stroke-width="1.0"/>
<line x1="1119.60" y1="1404.40" x2="1110.60" y2="1404.40" stroke="#262626" stroke-width="1.0"/>
<text transform="translate(160.25,1423.90) scale(1.0940,1)" style="font-family:'Liberation Sans', sans-serif;font-size:49.4px" fill="#262626">-2</text>
<line x1="223.60" y1="1234.43" x2="232.60" y2="1234.43" stroke="#262626" stroke-width="1.0"/>
<line x1="1119.60" y1="1234.43" x2="1110.60" y2="1234.43" stroke="#262626" stroke-width="1.0"/>
<text transform="translate(160.25,1253.93) scale(1.0940,1)" style="font-family:'Liberation Sans', sans-serif;font-size:49.4px" fill="#262626">-1</text>
<line x1="223.60" y1="1064.47" x2="232.60" y2="1064.47" stroke="#262626" stroke-width="1.0"/>
<line x1="1119.60" y1="1064.47" x2="1110.60" y2="1064.47" stroke="#262626" stroke-width="1.0"/>
<text transform="translate(178.24,1083.97) scale(1.0940,1)" style="font-family:'Liberation Sans', sans-serif;font-size:49.4px" fill="#262626">0</text>
<line x1="223.60" y1="894.50" x2="232.60" y2="894.50" stroke="#262626" stroke-width="1.0"/>
<line x1="1119.60" y1="894.50" x2="1110.60" y2="894.50" stroke="#262626" stroke-width="1.0"/>
<text transform="translate(178.24,914.00) scale(1.0940,1)" style="font-family:'Liberation Sans', sans-serif;font-size:49.4px" fill="#262626">1</text>
<path d="M223.60,1086.56 L223.69,986.28 L223.70,990.99 L223.74,995.31 L223.80,999.27 L223.89,1002.87 L224.00,1006.13 L224.13,1009.07 L224.29,1011.69 L224.46,1014.03 L224.66,1016.08 L224.87,1017.87 L225.11,1019.41 L225.36,1020.71 L225.63,1021.80 L225.92,1022.67 L226.22,1023.36 L226.53,1023.88 L226.87,1024.23 L227.21,1024.44 L227.57,1024.52 L228.02,1024.13 L228.69,1022.78 L229.51,1020.76 L230.44,1018.39 L231.41,1015.98 L232.37,1013.85 L233.32,1011.91 L234.35,1009.68 L235.42,1007.46 L236.51,1005.55 L237.59,1004.29 L238.62,1003.99 L239.66,1004.81 L240.71,1006.46 L241.73,1008.62 L242.70,1010.93 L243.58,1013.07 L244.36,1014.91 L245.06,1016.78 L245.71,1018.68 L246.32,1020.60 L246.92,1022.53 L247.54,1024.45 L248.19,1026.35 L248.90,1028.21 L249.68,1030.05 L250.49,1031.90 L251.33,1033.75 L252.21,1035.59 L253.13,1037.40 L254.09,1039.18 L255.10,1040.91 L256.16,1042.58 L257.28,1044.18 L258.51,1045.75 L259.86,1047.29 L261.31,1048.75 L262.83,1050.07 L264.41,1051.19 L266.10,1052.17 L267.89,1053.05 L269.75,1053.87 L271.64,1054.66 L273.52,1055.45 L275.35,1056.28 L277.17,1057.14 L278.98,1057.99 L280.81,1058.82 L282.64,1059.63 L284.50,1060.38 L286.36,1061.12 L288.24,1061.85 L290.12,1062.55 L292.02,1063.22 L293.93,1063.83 L295.85,1064.38 L297.78,1064.88 L299.73,1065.35 L301.70,1065.80 L303.67,1066.21 L305.64,1066.57 L307.63,1066.87 L309.61,1067.12 L311.59,1067.36 L313.59,1067.59 L315.58,1067.81 L317.58,1068.01 L319.59,1068.19 L321.59,1068.34 L323.60,1068.45 L325.60,1068.52 L327.60,1068.55 L329.61,1068.55 L331.61,1068.55 L333.61,1068.55 L335.62,1068.55 L337.62,1068.55 L339.63,1068.55 L341.64,1068.55 L343.64,1068.55 L345.65,1068.55 L347.66,1068.55 L349.66,1068.55 L351.67,1068.55 L353.68,1068.55 L355.68,1068.55 L357.69,1068.55 L359.69,1068.55 L361.70,1068.55 L363.70,1068.55 L365.71,1068.55 L367.71,1068.54 L369.71,1068.51 L371.71,1068.45 L373.71,1068.36 L375.71,1068.24 L377.71,1068.11 L379.71,1067.95 L381.71,1067.78 L383.71,1067.59 L385.71,1067.40 L387.71,1067.20 L389.71,1067.00 L391.71,1066.80 L393.71,1066.60 L395.71,1066.41 L397.71,1066.23 L399.71,1066.07 L401.71,1065.92 L403.71,1065.79 L405.71,1065.69 L407.71,1065.60 L409.71,1065.52 L411.72,1065.43 L413.72,1065.35 L415.72,1065.27 L417.73,1065.19 L419.73,1065.11 L421.74,1065.03 L423.74,1064.96 L425.75,1064.89 L427.75,1064.82 L429.76,1064.76 L431.76,1064.70 L433.77,1064.65 L435.77,1064.60 L437.78,1064.56 L439.78,1064.53 L441.79,1064.50 L443.79,1064.48 L445.80,1064.47 L447.80,1064.47 L449.81,1064.47 L451.81,1064.47 L453.82,1064.47 L455.82,1064.47 L457.83,1064.47 L459.83,1064.47 L461.84,1064.47 L463.84,1064.47 L465.85,1064.47 L467.85,1064.47 L469.86,1064.47 L471.86,1064.47 L473.87,1064.47 L475.87,1064.47 L477.88,1064.47 L479.88,1064.47 L481.89,1064.47 L483.89,1064.47 L485.89,1064.47 L487.90,1064.47 L489.90,1064.47 L491.91,1064.47 L493.91,1064.47 L495.92,1064.47 L497.92,1064.47 L499.93,1064.47 L501.93,1064.47 L503.94,1064.47 L505.94,1064.47 L507.95,1064.47 L509.95,1064.47 L511.96,1064.47 L513.96,1064.47 L515.97,1064.47 L517.97,1064.47 L519.98,1064.47 L521.98,1064.47 L523.99,1064.47 L525.99,1064.47 L528.00,1064.47 L530.00,1064.47 L532.01,1064.47 L534.01,1064.47 L536.02,1064.47 L538.02,1064.47 L540.03,1064.47 L542.03,1064.47 L544.04,1064.47 L546.04,1064.47 L548.05,1064.47 L550.05,1064.47 L552.06,1064.47 L554.06,1064.47 L556.07,1064.47 L558.07,1064.47 L560.08,1064.47 L562.08,1064.47 L564.09,1064.47 L566.09,1064.47 L568.10,1064.47 L570.10,1064.47 L572.11,1064.47 L574.11,1064.47 L576.12,1064.47 L578.12,1064.47 L580.13,1064.47 L582.13,1064.47 L584.14,1064.47 L586.14,1064.47 L588.15,1064.47 L590.15,1064.47 L592.16,1064.47 L594.16,1064.47 L596.17,1064.47 L598.17,1064.47 L600.18,1064.47 L602.18,1064.47 L604.19,1064.47 L606.19,1064.47 L608.20,1064.47 L610.20,1064.47 L612.21,1064.47 L614.21,1064.47 L616.22,1064.47 L618.22,1064.47 L620.23,1064.47 L622.23,1064.47 L624.24,1064.47 L626.24,1064.47 L628.25,1064.47 L630.25,1064.47 L632.26,1064.47 L634.26,1064.47 L636.27,1064.47 L638.27,1064.47 L640.28,1064.47 L642.28,1064.47 L644.29,1064.47 L646.29,1064.47 L648.30,1064.47 L650.30,1064.47 L652.31,1064.47 L654.31,1064.47 L656.32,1064.47 L658.32,1064.47 L660.33,1064.47 L662.33,1064.47 L664.34,1064.47 L666.34,1064.47 L668.35,1064.47 L670.35,1064.47 L672.36,1064.47 L674.36,1064.47 L676.37,1064.47 L678.37,1064.47 L680.38,1064.47 L682.38,1064.47 L684.39,1064.47 L686.39,1064.47 L688.40,1064.47 L690.40,1064.47 L692.41,1064.47 L694.41,1064.47 L696.42,1064.47 L698.42,1064.47 L700.43,1064.47 L702.43,1064.47 L704.44,1064.47 L706.44,1064.47 L708.45,1064.47 L710.45,1064.47 L712.46,1064.47 L714.47,1064.47 L716.47,1064.47 L718.48,1064.47 L720.48,1064.47 L722.49,1064.47 L724.49,1064.47 L726.50,1064.47 L728.50,1064.47 L730.51,1064.47 L732.51,1064.47 L734.52,1064.47 L736.52,1064.47 L738.53,1064.47 L740.53,1064.47 L742.54,1064.47 L744.54,1064.47 L746.55,1064.47 L748.55,1064.47 L750.56,1064.47 L752.56,1064.47 L754.57,1064.47 L756.57,1064.47 L758.58,1064.47 L760.59,1064.47 L762.59,1064.47 L764.60,1064.47 L766.60,1064.47 L768.61,1064.47 L770.61,1064.47 L772.62,1064.47 L774.62,1064.47 L776.63,1064.47 L778.63,1064.47 L780.64,1064.47 L782.64,1064.47 L784.65,1064.47 L786.65,1064.47 L788.66,1064.47 L790.66,1064.47 L792.67,1064.47 L794.68,1064.47 L796.68,1064.47 L798.69,1064.47 L800.69,1064.47 L802.70,1064.47 L804.70,1064.47 L806.71,1064.47 L808.71,1064.47 L810.72,1064.47 L812.72,1064.47 L814.73,1064.47 L816.73,1064.47 L818.74,1064.47 L820.74,1064.47 L822.75,1064.47 L824.76,1064.47 L826.76,1064.47 L828.77,1064.47 L830.77,1064.47 L832.78,1064.47 L834.78,1064.47 L836.79,1064.47 L838.79,1064.47 L840.80,1064.47 L842.80,1064.47 L844.81,1064.47 L846.81,1064.47 L848.82,1064.47 L850.83,1064.47 L852.83,1064.47 L854.84,1064.47 L856.84,1064.47 L858.85,1064.47 L860.85,1064.47 L862.86,1064.47 L864.86,1064.47 L866.87,1064.47 L868.87,1064.47 L870.88,1064.47 L872.89,1064.47 L874.89,1064.47 L876.90,1064.47 L878.90,1064.47 L880.91,1064.47 L882.91,1064.47 L884.92,1064.47 L886.92,1064.47 L888.93,1064.47 L890.94,1064.47 L892.94,1064.47 L894.95,1064.47 L896.95,1064.47 L898.96,1064.47 L900.96,1064.47 L902.97,1064.47 L904.97,1064.47 L906.98,1064.47 L908.99,1064.47 L910.99,1064.47 L913.00,1064.47 L915.00,1064.47 L917.01,1064.47 L919.01,1064.47 L921.02,1064.47 L923.02,1064.47 L925.03,1064.47 L927.04,1064.47 L929.04,1064.47 L931.05,1064.47 L933.05,1064.47 L935.06,1064.47 L937.06,1064.47 L939.07,1064.47 L941.08,1064.47 L943.08,1064.47 L945.09,1064.47 L947.09,1064.47 L949.10,1064.47 L951.10,1064.47 L953.11,1064.47 L955.12,1064.47 L957.12,1064.47 L959.13,1064.47 L961.13,1064.47 L963.14,1064.47 L965.14,1064.47 L967.15,1064.47 L969.16,1064.47 L971.16,1064.47 L973.17,1064.47 L975.17,1064.47 L977.18,1064.47 L979.18,1064.47 L981.19,1064.47 L983.20,1064.47 L985.20,1064.47 L987.21,1064.47 L989.21,1064.47 L991.22,1064.47 L993.22,1064.47 L995.23,1064.47 L997.24,1064.47 L999.24,1064.47 L1001.25,1064.47 L1003.25,1064.47 L1005.26,1064.47 L1007.26,1064.47 L1009.27,1064.47 L1011.28,1064.47 L1013.28,1064.47 L1015.29,1064.47 L1017.29,1064.47 L1019.30,1064.47 L1021.31,1064.47 L1023.31,1064.47 L1025.32,1064.47 L1027.32,1064.47 L1029.33,1064.47 L1031.34,1064.47 L1033.34,1064.47 L1035.35,1064.47 L1037.35,1064.47 L1039.36,1064.47 L1041.36,1064.47 L1043.37,1064.47 L1045.38,1064.47 L1047.38,1064.47 L1049.39,1064.47 L1051.39,1064.47 L1053.40,1064.47 L1055.41,1064.47 L1057.41,1064.47 L1059.42,1064.47 L1061.42,1064.47 L1063.43,1064.47 L1065.44,1064.47 L1067.44,1064.47 L1069.45,1064.47 L1071.45,1064.47 L1073.46,1064.47 L1075.47,1064.47 L1077.47,1064.47 L1079.48,1064.47 L1081.48,1064.47 L1083.49,1064.47 L1085.50,1064.47 L1087.50,1064.47 L1089.51,1064.47 L1091.51,1064.47 L1093.52,1064.47 L1095.53,1064.47 L1097.53,1064.47 L1099.54,1064.47 L1101.54,1064.47 L1103.55,1064.47 L1105.56,1064.47 L1107.56,1064.47 L1109.57,1064.47 L1111.58,1064.47 L1113.58,1064.47 L1115.59,1064.47 L1117.59,1064.47 L1119.60,1064.47" fill="none" stroke="#0072BD" stroke-width="5.1" stroke-linejoin="round"/>
<path d="M223.60,1064.47 L223.82,1287.12 L223.95,1285.12 L224.07,1283.12 L224.20,1281.12 L224.33,1279.12 L224.46,1277.12 L224.60,1275.12 L224.73,1273.12 L224.87,1271.12 L225.01,1269.12 L225.14,1267.12 L225.29,1265.12 L225.43,1263.12 L225.57,1261.12 L225.72,1259.12 L225.86,1257.12 L226.01,1255.12 L226.16,1253.12 L226.31,1251.12 L226.46,1249.12 L226.61,1247.12 L226.77,1245.12 L226.92,1243.12 L227.07,1241.12 L227.23,1239.12 L227.39,1237.13 L227.55,1235.13 L227.71,1233.13 L227.87,1231.13 L228.04,1229.13 L228.21,1227.13 L228.38,1225.14 L228.56,1223.14 L228.74,1221.14 L228.93,1219.15 L229.12,1217.15 L229.31,1215.16 L229.51,1213.16 L229.73,1211.17 L229.96,1209.18 L230.20,1207.19 L230.45,1205.20 L230.70,1203.21 L230.96,1201.22 L231.20,1199.23 L231.44,1197.24 L231.67,1195.25 L231.89,1193.26 L232.10,1191.26 L232.30,1189.26 L232.50,1187.27 L232.69,1185.27 L232.89,1183.27 L233.08,1181.28 L233.28,1179.28 L233.49,1177.29 L233.70,1175.30 L233.93,1173.30 L234.16,1171.32 L234.42,1169.33 L234.69,1167.34 L234.97,1165.36 L235.27,1163.38 L235.57,1161.39 L235.90,1159.41 L236.23,1157.43 L236.57,1155.45 L236.93,1153.48 L237.30,1151.51 L237.68,1149.54 L238.07,1147.57 L238.47,1145.61 L238.87,1143.63 L239.27,1141.60 L239.67,1139.56 L240.09,1137.51 L240.53,1135.47 L241.00,1133.46 L241.50,1131.48 L242.06,1129.56 L242.66,1127.70 L243.33,1125.92 L244.07,1124.24 L244.98,1122.64 L246.19,1121.10 L247.62,1119.62 L249.19,1118.22 L250.83,1116.89 L252.45,1115.66 L254.07,1114.55 L255.82,1113.55 L257.65,1112.64 L259.51,1111.75 L261.34,1110.84 L263.08,1109.86 L264.67,1108.77 L266.13,1107.54 L267.52,1106.20 L268.85,1104.77 L270.14,1103.26 L271.38,1101.68 L272.60,1100.05 L273.80,1098.39 L274.98,1096.71 L276.16,1095.01 L277.34,1093.33 L278.54,1091.67 L279.76,1090.05 L281.00,1088.47 L282.23,1086.86 L283.44,1085.21 L284.63,1083.54 L285.81,1081.85 L287.00,1080.17 L288.20,1078.51 L289.41,1076.87 L290.65,1075.29 L291.93,1073.76 L293.25,1072.31 L294.62,1070.94 L296.04,1069.68 L297.54,1068.48 L299.10,1067.30 L300.73,1066.14 L302.42,1065.01 L304.16,1063.92 L305.94,1062.87 L307.75,1061.86 L309.58,1060.92 L311.44,1060.04 L313.30,1059.23 L315.17,1058.51 L317.03,1057.87 L318.89,1057.30 L320.77,1056.74 L322.68,1056.19 L324.61,1055.64 L326.55,1055.11 L328.52,1054.60 L330.50,1054.12 L332.48,1053.67 L334.48,1053.26 L336.49,1052.89 L338.49,1052.57 L340.50,1052.30 L342.50,1052.10 L344.51,1051.96 L346.50,1051.89 L348.49,1051.89 L350.48,1051.92 L352.47,1051.98 L354.48,1052.05 L356.48,1052.15 L358.49,1052.26 L360.50,1052.39 L362.51,1052.53 L364.51,1052.68 L366.52,1052.84 L368.52,1053.01 L370.52,1053.18 L372.52,1053.36 L374.50,1053.54 L376.49,1053.77 L378.47,1054.04 L380.45,1054.35 L382.42,1054.69 L384.40,1055.04 L386.37,1055.42 L388.35,1055.80 L390.32,1056.19 L392.29,1056.58 L394.27,1056.95 L396.24,1057.31 L398.22,1057.65 L400.20,1057.98 L402.17,1058.33 L404.15,1058.69 L406.13,1059.06 L408.10,1059.43 L410.08,1059.79 L412.06,1060.15 L414.04,1060.49 L416.02,1060.81 L418.00,1061.11 L419.98,1061.38 L421.97,1061.62 L423.96,1061.82 L425.95,1061.97 L427.94,1062.12 L429.93,1062.26 L431.93,1062.40 L433.93,1062.54 L435.93,1062.67 L437.93,1062.80 L439.93,1062.92 L441.93,1063.04 L443.94,1063.15 L445.94,1063.26 L447.95,1063.36 L449.95,1063.45 L451.96,1063.54 L453.97,1063.62 L455.97,1063.69 L457.98,1063.76 L459.99,1063.81 L461.99,1063.86 L464.00,1063.90 L466.00,1063.93 L468.01,1063.95 L470.01,1063.96 L472.02,1063.96 L474.02,1063.97 L476.02,1063.97 L478.03,1063.97 L480.03,1063.98 L482.03,1063.98 L484.04,1063.99 L486.04,1063.99 L488.05,1063.99 L490.05,1064.00 L492.05,1064.00 L494.06,1064.01 L496.06,1064.01 L498.06,1064.01 L500.07,1064.02 L502.07,1064.02 L504.07,1064.03 L506.08,1064.03 L508.08,1064.03 L510.08,1064.04 L512.09,1064.04 L514.09,1064.05 L516.10,1064.05 L518.10,1064.05 L520.10,1064.06 L522.11,1064.06 L524.11,1064.06 L526.11,1064.07 L528.12,1064.07 L530.12,1064.08 L532.13,1064.08 L534.13,1064.08 L536.13,1064.09 L538.14,1064.09 L540.14,1064.09 L542.14,1064.10 L544.15,1064.10 L546.15,1064.10 L548.16,1064.11 L550.16,1064.11 L552.16,1064.11 L554.17,1064.12 L556.17,1064.12 L558.17,1064.12 L560.18,1064.13 L562.18,1064.13 L564.19,1064.13 L566.19,1064.14 L568.19,1064.14 L570.20,1064.14 L572.20,1064.15 L574.20,1064.15 L576.21,1064.15 L578.21,1064.16 L580.22,1064.16 L582.22,1064.16 L584.22,1064.17 L586.23,1064.17 L588.23,1064.17 L590.24,1064.17 L592.24,1064.18 L594.24,1064.18 L596.25,1064.18 L598.25,1064.19 L600.26,1064.19 L602.26,1064.19 L604.26,1064.19 L606.27,1064.20 L608.27,1064.20 L610.28,1064.20 L612.28,1064.21 L614.28,1064.21 L616.29,1064.21 L618.29,1064.21 L620.30,1064.22 L622.30,1064.22 L624.30,1064.22 L626.31,1064.22 L628.31,1064.23 L630.32,1064.23 L632.32,1064.23 L634.32,1064.23 L636.33,1064.24 L638.33,1064.24 L640.34,1064.24 L642.34,1064.25 L644.34,1064.25 L646.35,1064.25 L648.35,1064.25 L650.36,1064.25 L652.36,1064.26 L654.36,1064.26 L656.37,1064.26 L658.37,1064.26 L660.38,1064.27 L662.38,1064.27 L664.38,1064.27 L666.39,1064.27 L668.39,1064.28 L670.40,1064.28 L672.40,1064.28 L674.41,1064.28 L676.41,1064.28 L678.41,1064.29 L680.42,1064.29 L682.42,1064.29 L684.43,1064.29 L686.43,1064.30 L688.44,1064.30 L690.44,1064.30 L692.44,1064.30 L694.45,1064.30 L696.45,1064.31 L698.46,1064.31 L700.46,1064.31 L702.47,1064.31 L704.47,1064.31 L706.47,1064.32 L708.48,1064.32 L710.48,1064.32 L712.49,1064.32 L714.49,1064.32 L716.50,1064.32 L718.50,1064.33 L720.50,1064.33 L722.51,1064.33 L724.51,1064.33 L726.52,1064.33 L728.52,1064.34 L730.53,1064.34 L732.53,1064.34 L734.54,1064.34 L736.54,1064.34 L738.54,1064.34 L740.55,1064.35 L742.55,1064.35 L744.56,1064.35 L746.56,1064.35 L748.57,1064.35 L750.57,1064.35 L752.58,1064.36 L754.58,1064.36 L756.59,1064.36 L758.59,1064.36 L760.59,1064.36 L762.60,1064.36 L764.60,1064.37 L766.61,1064.37 L768.61,1064.37 L770.62,1064.37 L772.62,1064.37 L774.63,1064.37 L776.63,1064.37 L778.64,1064.38 L780.64,1064.38 L782.65,1064.38 L784.65,1064.38 L786.65,1064.38 L788.66,1064.38 L790.66,1064.38 L792.67,1064.38 L794.67,1064.39 L796.68,1064.39 L798.68,1064.39 L800.69,1064.39 L802.69,1064.39 L804.70,1064.39 L806.70,1064.39 L808.71,1064.39 L810.71,1064.40 L812.72,1064.40 L814.72,1064.40 L816.73,1064.40 L818.73,1064.40 L820.74,1064.40 L822.74,1064.40 L824.75,1064.40 L826.75,1064.40 L828.76,1064.41 L830.76,1064.41 L832.77,1064.41 L834.77,1064.41 L836.78,1064.41 L838.78,1064.41 L840.79,1064.41 L842.79,1064.41 L844.80,1064.41 L846.80,1064.42 L848.81,1064.42 L850.81,1064.42 L852.82,1064.42 L854.82,1064.42 L856.83,1064.42 L858.83,1064.42 L860.84,1064.42 L862.84,1064.42 L864.85,1064.42 L866.85,1064.42 L868.86,1064.42 L870.86,1064.43 L872.87,1064.43 L874.87,1064.43 L876.88,1064.43 L878.88,1064.43 L880.89,1064.43 L882.89,1064.43 L884.90,1064.43 L886.90,1064.43 L888.91,1064.43 L890.91,1064.43 L892.92,1064.43 L894.92,1064.43 L896.93,1064.44 L898.94,1064.44 L900.94,1064.44 L902.95,1064.44 L904.95,1064.44 L906.96,1064.44 L908.96,1064.44 L910.97,1064.44 L912.97,1064.44 L914.98,1064.44 L916.98,1064.44 L918.99,1064.44 L920.99,1064.44 L923.00,1064.44 L925.01,1064.44 L927.01,1064.44 L929.02,1064.45 L931.02,1064.45 L933.03,1064.45 L935.03,1064.45 L937.04,1064.45 L939.04,1064.45 L941.05,1064.45 L943.06,1064.45 L945.06,1064.45 L947.07,1064.45 L949.07,1064.45 L951.08,1064.45 L953.08,1064.45 L955.09,1064.45 L957.09,1064.45 L959.10,1064.45 L961.11,1064.45 L963.11,1064.45 L965.12,1064.45 L967.12,1064.45 L969.13,1064.45 L971.13,1064.46 L973.14,1064.46 L975.15,1064.46 L977.15,1064.46 L979.16,1064.46 L981.16,1064.46 L983.17,1064.46 L985.18,1064.46 L987.18,1064.46 L989.19,1064.46 L991.19,1064.46 L993.20,1064.46 L995.20,1064.46 L997.21,1064.46 L999.22,1064.46 L1001.22,1064.46 L1003.23,1064.46 L1005.23,1064.46 L1007.24,1064.46 L1009.25,1064.46 L1011.25,1064.46 L1013.26,1064.46 L1015.26,1064.46 L1017.27,1064.46 L1019.28,1064.46 L1021.28,1064.46 L1023.29,1064.46 L1025.30,1064.46 L1027.30,1064.46 L1029.31,1064.46 L1031.31,1064.46 L1033.32,1064.46 L1035.33,1064.46 L1037.33,1064.46 L1039.34,1064.46 L1041.34,1064.46 L1043.35,1064.46 L1045.36,1064.46 L1047.36,1064.46 L1049.37,1064.46 L1051.38,1064.46 L1053.38,1064.46 L1055.39,1064.46 L1057.40,1064.47 L1059.40,1064.47 L1061.41,1064.47 L1063.41,1064.47 L1065.42,1064.47 L1067.43,1064.47 L1069.43,1064.47 L1071.44,1064.47 L1073.45,1064.47 L1075.45,1064.47 L1077.46,1064.47 L1079.47,1064.47 L1081.47,1064.47 L1083.48,1064.47 L1085.49,1064.47 L1087.49,1064.47 L1089.50,1064.47 L1091.51,1064.47 L1093.51,1064.47 L1095.52,1064.47 L1097.53,1064.47 L1099.53,1064.47 L1101.54,1064.47 L1103.55,1064.47 L1105.55,1064.47 L1107.56,1064.47 L1109.57,1064.47 L1111.57,1064.47 L1113.58,1064.47 L1115.59,1064.47 L1117.59,1064.47 L1119.60,1064.47" fill="none" stroke="#007F00" stroke-width="5.1" stroke-linejoin="round" stroke-dasharray="15,12"/>
<text transform="translate(623.59,1536.70) scale(1.1350,1)" style="font-family:'Liberation Sans', sans-serif;font-size:52.5px" fill="#262626">t [s]</text>
<text transform="translate(110.70,1320.55) scale(1.1100,1) rotate(-90) scale(1.1600,1)" style="font-family:'Liberation Serif', serif;font-size:57.7px" fill="#262626">Δ</text>
<text transform="translate(110.70,1281.85) scale(1.1100,1) rotate(-90) scale(1.0000,1)" style="font-family:'Liberation Serif', serif;font-size:54px;font-style:italic" fill="#262626" stroke="#fff" stroke-width="1.10">ξ</text>
<text transform="translate(139.56,1249.58) scale(1.1100,1) rotate(-90) scale(1.0000,1)" style="font-family:'Liberation Sans', sans-serif;font-size:41.5px" fill="#262626">3</text>
<text transform="translate(110.70,1229.76) scale(1.1100,1) rotate(-90) scale(1.0000,1)" style="font-family:'Liberation Sans', sans-serif;font-size:53.0px" fill="#262626">,</text>
<text transform="translate(110.70,1196.85) scale(1.1100,1) rotate(-90) scale(1.1600,1)" style="font-family:'Liberation Serif', serif;font-size:57.7px" fill="#262626">Δ</text>
<text transform="translate(110.70,1155.65) scale(1.1100,1) rotate(-90) scale(1.0000,1)" style="font-family:'Liberation Serif', serif;font-size:54px;font-style:italic" fill="#262626" stroke="#fff" stroke-width="1.10">ξ</text>
<text transform="translate(139.56,1128.55) scale(1.1100,1) rotate(-90) scale(1.0000,1)" style="font-family:'Liberation Sans', sans-serif;font-size:41.5px" fill="#262626">4</text>
<text transform="translate(110.70,1090.88) scale(1.1100,1) rotate(-90) scale(1.0000,1)" style="font-family:'Liberation Sans', sans-serif;font-size:53.0px" fill="#262626">[m/s]</text>
<text transform="translate(596.30,1646.90) scale(0.9000,1)" style="font-family:'Liberation Serif', serif;font-size:86.0px" fill="#000">(</text>
<text transform="translate(659.83,1646.90) scale(0.9000,1)" style="font-family:'Liberation Serif', serif;font-size:86.0px" fill="#000">)</text>
<text transform="translate(623.01,1646.90) scale(0.9715,1)" style="font-family:'Liberation Serif', serif;font-size:84.0px;font-weight:bold" fill="#000">c</text>
<rect x="1456.30" y="894.50" width="865.30" height="509.90" fill="none" stroke="#262626" stroke-width="1.1"/>
<line x1="1456.30" y1="1404.40" x2="1456.30" y2="1395.40" stroke="#262626" stroke-width="1.0"/>
<line x1="1456.30" y1="894.50" x2="1456.30" y2="903.50" stroke="#262626" stroke-width="1.0"/>
<text transform="translate(1441.27,1467.50) scale(1.0940,1)" style="font-family:'Liberation Sans', sans-serif;font-size:49.4px" fill="#262626">0</text>
<line x1="1672.62" y1="1404.40" x2="1672.62" y2="1395.40" stroke="#262626" stroke-width="1.0"/>
<line x1="1672.62" y1="894.50" x2="1672.62" y2="903.50" stroke="#262626" stroke-width="1.0"/>
<text transform="translate(1642.57,1467.50) scale(1.0940,1)" style="font-family:'Liberation Sans', sans-serif;font-size:49.4px" fill="#262626">50</text>
<line x1="1888.95" y1="1404.40" x2="1888.95" y2="1395.40" stroke="#262626" stroke-width="1.0"/>
<line x1="1888.95" y1="894.50" x2="1888.95" y2="903.50" stroke="#262626" stroke-width="1.0"/>
<text transform="translate(1843.87,1467.50) scale(1.0940,1)" style="font-family:'Liberation Sans', sans-serif;font-size:49.4px" fill="#262626">100</text>
<line x1="2105.27" y1="1404.40" x2="2105.27" y2="1395.40" stroke="#262626" stroke-width="1.0"/>
<line x1="2105.27" y1="894.50" x2="2105.27" y2="903.50" stroke="#262626" stroke-width="1.0"/>
<text transform="translate(2060.19,1467.50) scale(1.0940,1)" style="font-family:'Liberation Sans', sans-serif;font-size:49.4px" fill="#262626">150</text>
<line x1="2321.60" y1="1404.40" x2="2321.60" y2="1395.40" stroke="#262626" stroke-width="1.0"/>
<line x1="2321.60" y1="894.50" x2="2321.60" y2="903.50" stroke="#262626" stroke-width="1.0"/>
<text transform="translate(2276.52,1467.50) scale(1.0940,1)" style="font-family:'Liberation Sans', sans-serif;font-size:49.4px" fill="#262626">200</text>
<line x1="1456.30" y1="1404.40" x2="1465.30" y2="1404.40" stroke="#262626" stroke-width="1.0"/>
<line x1="2321.60" y1="1404.40" x2="2312.60" y2="1404.40" stroke="#262626" stroke-width="1.0"/>
<text transform="translate(1362.89,1423.90) scale(1.0940,1)" style="font-family:'Liberation Sans', sans-serif;font-size:49.4px" fill="#262626">-15</text>
<line x1="1456.30" y1="1319.42" x2="1465.30" y2="1319.42" stroke="#262626" stroke-width="1.0"/>
<line x1="2321.60" y1="1319.42" x2="2312.60" y2="1319.42" stroke="#262626" stroke-width="1.0"/>
<text transform="translate(1362.89,1338.92) scale(1.0940,1)" style="font-family:'Liberation Sans', sans-serif;font-size:49.4px" fill="#262626">-10</text>
<line x1="1456.30" y1="1234.43" x2="1465.30" y2="1234.43" stroke="#262626" stroke-width="1.0"/>
<line x1="2321.60" y1="1234.43" x2="2312.60" y2="1234.43" stroke="#262626" stroke-width="1.0"/>
<text transform="translate(1392.95,1253.93) scale(1.0940,1)" style="font-family:'Liberation Sans', sans-serif;font-size:49.4px" fill="#262626">-5</text>
<line x1="1456.30" y1="1149.45" x2="1465.30" y2="1149.45" stroke="#262626" stroke-width="1.0"/>
<line x1="2321.60" y1="1149.45" x2="2312.60" y2="1149.45" stroke="#262626" stroke-width="1.0"/>
<text transform="translate(1410.94,1168.95) scale(1.0940,1)" style="font-family:'Liberation Sans', sans-serif;font-size:49.4px" fill="#262626">0</text>
<line x1="1456.30" y1="1064.47" x2="1465.30" y2="1064.47" stroke="#262626" stroke-width="1.0"/>
<line x1="2321.60" y1="1064.47" x2="2312.60" y2="1064.47" stroke="#262626" stroke-width="1.0"/>
<text transform="translate(1410.94,1083.97) scale(1.0940,1)" style="font-family:'Liberation Sans', sans-serif;font-size:49.4px" fill="#262626">5</text>
<line x1="1456.30" y1="979.48" x2="1465.30" y2="979.48" stroke="#262626" stroke-width="1.0"/>
<line x1="2321.60" y1="979.48" x2="2312.60" y2="979.48" stroke="#262626" stroke-width="1.0"/>
<text transform="translate(1380.89,998.98) scale(1.0940,1)" style="font-family:'Liberation Sans', sans-serif;font-size:49.4px" fill="#262626">10</text>
<line x1="1456.30" y1="894.50" x2="1465.30" y2="894.50" stroke="#262626" stroke-width="1.0"/>
<line x1="2321.60" y1="894.50" x2="2312.60" y2="894.50" stroke="#262626" stroke-width="1.0"/>
<text transform="translate(1380.89,914.00) scale(1.0940,1)" style="font-family:'Liberation Sans', sans-serif;font-size:49.4px" fill="#262626">15</text>
<path d="M1456.30,1149.45 L1456.52,900.28 L1457.60,1142.65 L1459.19,1144.09 L1460.86,1145.29 L1462.62,1146.02 L1464.50,1146.34 L1466.50,1146.61 L1468.55,1146.79 L1470.60,1146.89 L1472.59,1146.82 L1474.55,1146.40 L1476.52,1145.83 L1478.48,1145.35 L1480.46,1145.20 L1482.46,1145.31 L1484.46,1145.51 L1486.46,1145.74 L1488.47,1145.94 L1490.47,1146.05 L1492.48,1146.05 L1494.48,1146.05 L1496.48,1146.05 L1498.49,1146.05 L1500.49,1146.05 L1502.49,1146.05 L1504.50,1146.05 L1506.50,1146.05 L1508.50,1146.05 L1510.51,1146.05 L1512.51,1146.05 L1514.52,1146.05 L1516.52,1146.05 L1518.52,1146.05 L1520.53,1146.05 L1522.53,1146.05 L1524.53,1146.05 L1526.54,1146.05 L1528.54,1146.05 L1530.54,1146.05 L1532.55,1146.05 L1534.55,1146.05 L1536.56,1146.05 L1538.56,1146.05 L1540.56,1146.05 L1542.57,1146.05 L1544.57,1146.05 L1546.57,1146.05 L1548.58,1146.05 L1550.58,1146.05 L1552.59,1146.05 L1554.59,1146.05 L1556.59,1146.05 L1558.60,1146.05 L1560.60,1146.05 L1562.60,1146.05 L1564.61,1146.05 L1566.61,1146.05 L1568.62,1146.05 L1570.62,1146.05 L1572.62,1146.05 L1574.63,1146.05 L1576.63,1146.05 L1578.64,1146.05 L1580.64,1146.05 L1582.64,1146.05 L1584.65,1146.05 L1586.65,1146.05 L1588.66,1146.05 L1590.66,1146.05 L1592.66,1146.05 L1594.67,1146.05 L1596.67,1146.05 L1598.68,1146.05 L1600.68,1146.05 L1602.68,1146.05 L1604.69,1146.05 L1606.69,1146.05 L1608.70,1146.05 L1610.70,1146.05 L1612.71,1146.05 L1614.71,1146.05 L1616.71,1146.05 L1618.72,1146.05 L1620.72,1146.05 L1622.73,1146.05 L1624.73,1146.05 L1626.74,1146.05 L1628.74,1146.05 L1630.74,1146.05 L1632.75,1146.05 L1634.75,1146.05 L1636.76,1146.05 L1638.76,1146.05 L1640.77,1146.05 L1642.77,1146.05 L1644.78,1146.05 L1646.78,1146.05 L1648.78,1146.05 L1650.79,1146.05 L1652.79,1146.05 L1654.80,1146.05 L1656.80,1146.05 L1658.81,1146.05 L1660.81,1146.05 L1662.82,1146.05 L1664.82,1146.05 L1666.82,1146.05 L1668.83,1146.05 L1670.83,1146.05 L1672.84,1146.05 L1674.84,1146.05 L1676.85,1146.05 L1678.85,1146.05 L1680.86,1146.05 L1682.86,1146.05 L1684.87,1146.05 L1686.87,1146.05 L1688.88,1146.05 L1690.88,1146.05 L1692.89,1146.05 L1694.89,1146.05 L1696.90,1146.05 L1698.90,1146.05 L1700.91,1146.05 L1702.91,1146.05 L1704.92,1146.05 L1706.92,1146.05 L1708.93,1146.05 L1710.93,1146.05 L1712.94,1146.05 L1714.94,1146.05 L1716.95,1146.05 L1718.95,1146.05 L1720.96,1146.05 L1722.96,1146.05 L1724.97,1146.05 L1726.97,1146.05 L1728.98,1146.05 L1730.98,1146.05 L1732.99,1146.05 L1734.99,1146.05 L1737.00,1146.05 L1739.00,1146.05 L1741.01,1146.05 L1743.01,1146.05 L1745.02,1146.05 L1747.02,1146.05 L1749.03,1146.05 L1751.03,1146.05 L1753.04,1146.05 L1755.04,1146.05 L1757.05,1146.05 L1759.06,1146.05 L1761.06,1146.05 L1763.07,1146.05 L1765.07,1146.05 L1767.08,1146.05 L1769.08,1146.05 L1771.09,1146.05 L1773.09,1146.05 L1775.10,1146.05 L1777.11,1146.05 L1779.11,1146.05 L1781.12,1146.05 L1783.12,1146.05 L1785.13,1146.05 L1787.13,1146.05 L1789.14,1146.05 L1791.15,1146.05 L1793.15,1146.05 L1795.16,1146.05 L1797.16,1146.05 L1799.17,1146.05 L1801.17,1146.05 L1803.18,1146.05 L1805.19,1146.05 L1807.19,1146.05 L1809.20,1146.05 L1811.20,1146.05 L1813.21,1146.05 L1815.22,1146.05 L1817.22,1146.05 L1819.23,1146.05 L1821.23,1146.05 L1823.24,1146.05 L1825.25,1146.05 L1827.25,1146.05 L1829.26,1146.05 L1831.27,1146.05 L1833.27,1146.05 L1835.28,1146.05 L1837.28,1146.05 L1839.29,1146.05 L1841.30,1146.05 L1843.30,1146.05 L1845.31,1146.05 L1847.32,1146.05 L1849.32,1146.05 L1851.33,1146.05 L1853.33,1146.05 L1855.34,1146.05 L1857.35,1146.05 L1859.35,1146.05 L1861.36,1146.05 L1863.37,1146.05 L1865.37,1146.05 L1867.38,1146.05 L1869.39,1146.05 L1871.39,1146.05 L1873.40,1146.05 L1875.41,1146.05 L1877.41,1146.05 L1879.42,1146.05 L1881.43,1146.05 L1883.43,1146.05 L1885.44,1146.05 L1887.45,1146.05 L1889.45,1146.05 L1891.46,1146.05 L1893.47,1146.05 L1895.47,1146.05 L1897.48,1146.05 L1899.49,1146.05 L1901.50,1146.05 L1903.50,1146.05 L1905.51,1146.05 L1907.52,1146.05 L1909.52,1146.05 L1911.53,1146.05 L1913.54,1146.05 L1915.55,1146.05 L1917.55,1146.05 L1919.56,1146.05 L1921.57,1146.05 L1923.57,1146.05 L1925.58,1146.05 L1927.59,1146.05 L1929.60,1146.05 L1931.60,1146.05 L1933.61,1146.05 L1935.62,1146.05 L1937.63,1146.05 L1939.63,1146.05 L1941.64,1146.05 L1943.65,1146.05 L1945.66,1146.05 L1947.66,1146.05 L1949.67,1146.05 L1951.68,1146.05 L1953.69,1146.05 L1955.69,1146.05 L1957.70,1146.05 L1959.71,1146.05 L1961.72,1146.05 L1963.72,1146.05 L1965.73,1146.05 L1967.74,1146.05 L1969.75,1146.05 L1971.76,1146.05 L1973.76,1146.05 L1975.77,1146.05 L1977.78,1146.05 L1979.79,1146.05 L1981.80,1146.05 L1983.80,1146.05 L1985.81,1146.05 L1987.82,1146.05 L1989.83,1146.05 L1991.84,1146.05 L1993.84,1146.05 L1995.85,1146.05 L1997.86,1146.05 L1999.87,1146.05 L2001.88,1146.05 L2003.89,1146.05 L2005.89,1146.05 L2007.90,1146.05 L2009.91,1146.05 L2011.92,1146.05 L2013.93,1146.05 L2015.94,1146.05 L2017.95,1146.05 L2019.95,1146.05 L2021.96,1146.05 L2023.97,1146.05 L2025.98,1146.05 L2027.99,1146.05 L2030.00,1146.05 L2032.01,1146.05 L2034.01,1146.05 L2036.02,1146.05 L2038.03,1146.05 L2040.04,1146.05 L2042.05,1146.05 L2044.06,1146.05 L2046.07,1146.05 L2048.08,1146.05 L2050.09,1146.05 L2052.09,1146.05 L2054.10,1146.05 L2056.11,1146.05 L2058.12,1146.05 L2060.13,1146.05 L2062.14,1146.05 L2064.15,1146.05 L2066.16,1146.05 L2068.17,1146.05 L2070.18,1146.05 L2072.19,1146.05 L2074.20,1146.05 L2076.21,1146.05 L2078.21,1146.05 L2080.22,1146.05 L2082.23,1146.05 L2084.24,1146.05 L2086.25,1146.05 L2088.26,1146.05 L2090.27,1146.05 L2092.28,1146.05 L2094.29,1146.05 L2096.30,1146.05 L2098.31,1146.05 L2100.32,1146.05 L2102.33,1146.05 L2104.34,1146.05 L2106.35,1146.05 L2108.36,1146.05 L2110.37,1146.05 L2112.38,1146.05 L2114.39,1146.05 L2116.40,1146.05 L2118.41,1146.05 L2120.42,1146.05 L2122.43,1146.05 L2124.44,1146.05 L2126.45,1146.05 L2128.46,1146.05 L2130.47,1146.05 L2132.48,1146.05 L2134.49,1146.05 L2136.50,1146.05 L2138.51,1146.05 L2140.52,1146.05 L2142.53,1146.05 L2144.54,1146.05 L2146.55,1146.05 L2148.56,1146.05 L2150.57,1146.05 L2152.58,1146.05 L2154.60,1146.05 L2156.61,1146.05 L2158.62,1146.05 L2160.63,1146.05 L2162.64,1146.05 L2164.65,1146.05 L2166.66,1146.05 L2168.67,1146.05 L2170.68,1146.05 L2172.69,1146.05 L2174.70,1146.05 L2176.71,1146.05 L2178.73,1146.05 L2180.74,1146.05 L2182.75,1146.05 L2184.76,1146.05 L2186.77,1146.05 L2188.78,1146.05 L2190.79,1146.05 L2192.80,1146.05 L2194.82,1146.05 L2196.83,1146.05 L2198.84,1146.05 L2200.85,1146.05 L2202.86,1146.05 L2204.87,1146.05 L2206.88,1146.05 L2208.90,1146.05 L2210.91,1146.05 L2212.92,1146.05 L2214.93,1146.05 L2216.94,1146.05 L2218.95,1146.05 L2220.97,1146.05 L2222.98,1146.05 L2224.99,1146.05 L2227.00,1146.05 L2229.01,1146.05 L2231.02,1146.05 L2233.04,1146.05 L2235.05,1146.05 L2237.06,1146.05 L2239.07,1146.05 L2241.08,1146.05 L2243.10,1146.05 L2245.11,1146.05 L2247.12,1146.05 L2249.13,1146.05 L2251.15,1146.05 L2253.16,1146.05 L2255.17,1146.05 L2257.18,1146.05 L2259.20,1146.05 L2261.21,1146.05 L2263.22,1146.05 L2265.23,1146.05 L2267.25,1146.05 L2269.26,1146.05 L2271.27,1146.05 L2273.28,1146.05 L2275.30,1146.05 L2277.31,1146.05 L2279.32,1146.05 L2281.33,1146.05 L2283.35,1146.05 L2285.36,1146.05 L2287.37,1146.05 L2289.39,1146.05 L2291.40,1146.05 L2293.41,1146.05 L2295.43,1146.05 L2297.44,1146.05 L2299.45,1146.05 L2301.47,1146.05 L2303.48,1146.05 L2305.49,1146.05 L2307.51,1146.05 L2309.52,1146.05 L2311.53,1146.05 L2313.55,1146.05 L2315.56,1146.05 L2317.57,1146.05 L2319.59,1146.05 L2321.60,1146.05" fill="none" stroke="#0072BD" stroke-width="5.1" stroke-linejoin="round"/>
<path d="M1456.30,1404.40 L1456.73,1149.45 L1456.77,1146.91 L1456.88,1144.51 L1457.07,1142.25 L1457.32,1140.12 L1457.64,1138.13 L1458.03,1136.27 L1458.48,1134.53 L1458.98,1132.92 L1459.54,1131.43 L1460.37,1130.00 L1462.00,1128.56 L1463.99,1127.55 L1465.93,1127.30 L1468.12,1127.21 L1469.88,1127.19 L1471.11,1127.94 L1472.15,1129.59 L1473.07,1131.75 L1473.96,1134.03 L1474.91,1136.03 L1475.89,1137.88 L1476.82,1139.89 L1477.71,1142.01 L1478.60,1144.16 L1479.50,1146.28 L1480.43,1148.29 L1481.40,1150.12 L1482.44,1151.70 L1483.57,1152.96 L1484.80,1153.83 L1486.19,1154.34 L1487.84,1154.79 L1489.70,1155.20 L1491.72,1155.58 L1493.85,1155.90 L1496.04,1156.17 L1498.23,1156.38 L1500.38,1156.52 L1502.43,1156.58 L1504.35,1156.44 L1506.24,1155.83 L1508.10,1154.93 L1509.97,1153.98 L1511.85,1153.20 L1513.78,1152.81 L1515.73,1152.60 L1517.70,1152.43 L1519.69,1152.29 L1521.69,1152.17 L1523.70,1152.06 L1525.72,1151.97 L1527.74,1151.87 L1529.76,1151.78 L1531.78,1151.68 L1533.79,1151.57 L1535.80,1151.44 L1537.80,1151.29 L1539.80,1151.14 L1541.79,1150.98 L1543.79,1150.82 L1545.79,1150.65 L1547.79,1150.49 L1549.79,1150.34 L1551.79,1150.19 L1553.79,1150.06 L1555.79,1149.94 L1557.79,1149.84 L1559.79,1149.75 L1561.80,1149.67 L1563.80,1149.59 L1565.80,1149.51 L1567.81,1149.44 L1569.81,1149.37 L1571.81,1149.30 L1573.82,1149.24 L1575.82,1149.19 L1577.83,1149.16 L1579.83,1149.13 L1581.84,1149.11 L1583.84,1149.11 L1585.85,1149.11 L1587.85,1149.11 L1589.86,1149.11 L1591.86,1149.11 L1593.86,1149.11 L1595.87,1149.11 L1597.87,1149.11 L1599.88,1149.11 L1601.88,1149.11 L1603.89,1149.11 L1605.89,1149.11 L1607.90,1149.11 L1609.90,1149.11 L1611.91,1149.11 L1613.91,1149.11 L1615.92,1149.11 L1617.92,1149.11 L1619.93,1149.11 L1621.93,1149.11 L1623.94,1149.11 L1625.94,1149.11 L1627.95,1149.11 L1629.95,1149.11 L1631.96,1149.11 L1633.96,1149.11 L1635.97,1149.11 L1637.97,1149.11 L1639.98,1149.11 L1641.98,1149.11 L1643.99,1149.11 L1645.99,1149.11 L1647.99,1149.11 L1650.00,1149.11 L1652.00,1149.11 L1654.01,1149.11 L1656.01,1149.11 L1658.02,1149.11 L1660.02,1149.11 L1662.03,1149.11 L1664.03,1149.11 L1666.04,1149.11 L1668.04,1149.11 L1670.05,1149.11 L1672.05,1149.11 L1674.06,1149.11 L1676.06,1149.11 L1678.07,1149.11 L1680.07,1149.11 L1682.08,1149.11 L1684.08,1149.11 L1686.09,1149.11 L1688.09,1149.11 L1690.10,1149.11 L1692.10,1149.11 L1694.10,1149.11 L1696.11,1149.11 L1698.11,1149.11 L1700.12,1149.11 L1702.12,1149.11 L1704.13,1149.11 L1706.13,1149.11 L1708.14,1149.11 L1710.14,1149.11 L1712.15,1149.11 L1714.15,1149.11 L1716.16,1149.11 L1718.16,1149.11 L1720.17,1149.11 L1722.17,1149.11 L1724.18,1149.11 L1726.18,1149.11 L1728.19,1149.11 L1730.19,1149.11 L1732.20,1149.11 L1734.20,1149.11 L1736.21,1149.11 L1738.21,1149.11 L1740.21,1149.11 L1742.22,1149.11 L1744.22,1149.11 L1746.23,1149.11 L1748.23,1149.11 L1750.24,1149.11 L1752.24,1149.11 L1754.25,1149.11 L1756.25,1149.11 L1758.26,1149.11 L1760.26,1149.11 L1762.27,1149.11 L1764.27,1149.11 L1766.28,1149.11 L1768.28,1149.11 L1770.29,1149.11 L1772.29,1149.11 L1774.30,1149.11 L1776.30,1149.11 L1778.31,1149.11 L1780.31,1149.11 L1782.32,1149.11 L1784.32,1149.11 L1786.32,1149.11 L1788.33,1149.11 L1790.33,1149.11 L1792.34,1149.11 L1794.34,1149.11 L1796.35,1149.11 L1798.35,1149.11 L1800.36,1149.11 L1802.36,1149.11 L1804.37,1149.11 L1806.37,1149.11 L1808.38,1149.11 L1810.38,1149.11 L1812.39,1149.11 L1814.39,1149.11 L1816.40,1149.11 L1818.40,1149.11 L1820.41,1149.11 L1822.41,1149.11 L1824.42,1149.11 L1826.42,1149.11 L1828.42,1149.11 L1830.43,1149.11 L1832.43,1149.11 L1834.44,1149.11 L1836.44,1149.11 L1838.45,1149.11 L1840.45,1149.11 L1842.46,1149.11 L1844.46,1149.11 L1846.47,1149.11 L1848.47,1149.11 L1850.48,1149.11 L1852.48,1149.11 L1854.49,1149.11 L1856.49,1149.11 L1858.50,1149.11 L1860.50,1149.11 L1862.51,1149.11 L1864.51,1149.11 L1866.52,1149.11 L1868.52,1149.11 L1870.53,1149.11 L1872.53,1149.11 L1874.53,1149.11 L1876.54,1149.11 L1878.54,1149.11 L1880.55,1149.11 L1882.55,1149.11 L1884.56,1149.11 L1886.56,1149.11 L1888.57,1149.11 L1890.57,1149.11 L1892.58,1149.11 L1894.58,1149.11 L1896.59,1149.11 L1898.59,1149.11 L1900.60,1149.11 L1902.60,1149.11 L1904.61,1149.11 L1906.61,1149.11 L1908.62,1149.11 L1910.62,1149.11 L1912.63,1149.11 L1914.63,1149.11 L1916.64,1149.11 L1918.64,1149.11 L1920.64,1149.11 L1922.65,1149.11 L1924.65,1149.11 L1926.66,1149.11 L1928.66,1149.11 L1930.67,1149.11 L1932.67,1149.11 L1934.68,1149.11 L1936.68,1149.11 L1938.69,1149.11 L1940.69,1149.11 L1942.70,1149.11 L1944.70,1149.11 L1946.71,1149.11 L1948.71,1149.11 L1950.72,1149.11 L1952.72,1149.11 L1954.73,1149.11 L1956.73,1149.11 L1958.74,1149.11 L1960.74,1149.11 L1962.74,1149.11 L1964.75,1149.11 L1966.75,1149.11 L1968.76,1149.11 L1970.76,1149.11 L1972.77,1149.11 L1974.77,1149.11 L1976.78,1149.11 L1978.78,1149.11 L1980.79,1149.11 L1982.79,1149.11 L1984.80,1149.11 L1986.80,1149.11 L1988.81,1149.11 L1990.81,1149.11 L1992.82,1149.11 L1994.82,1149.11 L1996.83,1149.11 L1998.83,1149.11 L2000.84,1149.11 L2002.84,1149.11 L2004.85,1149.11 L2006.85,1149.11 L2008.85,1149.11 L2010.86,1149.11 L2012.86,1149.11 L2014.87,1149.11 L2016.87,1149.11 L2018.88,1149.11 L2020.88,1149.11 L2022.89,1149.11 L2024.89,1149.11 L2026.90,1149.11 L2028.90,1149.11 L2030.91,1149.11 L2032.91,1149.11 L2034.92,1149.11 L2036.92,1149.11 L2038.93,1149.11 L2040.93,1149.11 L2042.94,1149.11 L2044.94,1149.11 L2046.95,1149.11 L2048.95,1149.11 L2050.96,1149.11 L2052.96,1149.11 L2054.96,1149.11 L2056.97,1149.11 L2058.97,1149.11 L2060.98,1149.11 L2062.98,1149.11 L2064.99,1149.11 L2066.99,1149.11 L2069.00,1149.11 L2071.00,1149.11 L2073.01,1149.11 L2075.01,1149.11 L2077.02,1149.11 L2079.02,1149.11 L2081.03,1149.11 L2083.03,1149.11 L2085.04,1149.11 L2087.04,1149.11 L2089.05,1149.11 L2091.05,1149.11 L2093.06,1149.11 L2095.06,1149.11 L2097.06,1149.11 L2099.07,1149.11 L2101.07,1149.11 L2103.08,1149.11 L2105.08,1149.11 L2107.09,1149.11 L2109.09,1149.11 L2111.10,1149.11 L2113.10,1149.11 L2115.11,1149.11 L2117.11,1149.11 L2119.12,1149.11 L2121.12,1149.11 L2123.13,1149.11 L2125.13,1149.11 L2127.14,1149.11 L2129.14,1149.11 L2131.15,1149.11 L2133.15,1149.11 L2135.16,1149.11 L2137.16,1149.11 L2139.17,1149.11 L2141.17,1149.11 L2143.17,1149.11 L2145.18,1149.11 L2147.18,1149.11 L2149.19,1149.11 L2151.19,1149.11 L2153.20,1149.11 L2155.20,1149.11 L2157.21,1149.11 L2159.21,1149.11 L2161.22,1149.11 L2163.22,1149.11 L2165.23,1149.11 L2167.23,1149.11 L2169.24,1149.11 L2171.24,1149.11 L2173.25,1149.11 L2175.25,1149.11 L2177.26,1149.11 L2179.26,1149.11 L2181.27,1149.11 L2183.27,1149.11 L2185.28,1149.11 L2187.28,1149.11 L2189.28,1149.11 L2191.29,1149.11 L2193.29,1149.11 L2195.30,1149.11 L2197.30,1149.11 L2199.31,1149.11 L2201.31,1149.11 L2203.32,1149.11 L2205.32,1149.11 L2207.33,1149.11 L2209.33,1149.11 L2211.34,1149.11 L2213.34,1149.11 L2215.35,1149.11 L2217.35,1149.11 L2219.36,1149.11 L2221.36,1149.11 L2223.37,1149.11 L2225.37,1149.11 L2227.38,1149.11 L2229.38,1149.11 L2231.39,1149.11 L2233.39,1149.11 L2235.39,1149.11 L2237.40,1149.11 L2239.40,1149.11 L2241.41,1149.11 L2243.41,1149.11 L2245.42,1149.11 L2247.42,1149.11 L2249.43,1149.11 L2251.43,1149.11 L2253.44,1149.11 L2255.44,1149.11 L2257.45,1149.11 L2259.45,1149.11 L2261.46,1149.11 L2263.46,1149.11 L2265.47,1149.11 L2267.47,1149.11 L2269.48,1149.11 L2271.48,1149.11 L2273.49,1149.11 L2275.49,1149.11 L2277.49,1149.11 L2279.50,1149.11 L2281.50,1149.11 L2283.51,1149.11 L2285.51,1149.11 L2287.52,1149.11 L2289.52,1149.11 L2291.53,1149.11 L2293.53,1149.11 L2295.54,1149.11 L2297.54,1149.11 L2299.55,1149.11 L2301.55,1149.11 L2303.56,1149.11 L2305.56,1149.11 L2307.57,1149.11 L2309.57,1149.11 L2311.58,1149.11 L2313.58,1149.11 L2315.59,1149.11 L2317.59,1149.11 L2319.60,1149.11 L2321.60,1149.11" fill="none" stroke="#007F00" stroke-width="5.1" stroke-linejoin="round" stroke-dasharray="15,12"/>
<path d="M1456.30,1144.35 L1456.30,1256.53" fill="none" stroke="#007F00" stroke-width="5.1" stroke-linejoin="round"/>
<text transform="translate(1840.94,1536.70) scale(1.1350,1)" style="font-family:'Liberation Sans', sans-serif;font-size:52.5px" fill="#262626">t [s]</text>
<text transform="translate(1313.60,1314.05) scale(1.1100,1) rotate(-90) scale(0.9700,1)" style="font-family:'Noto Serif CJK SC', serif;font-size:45.4px;font-style:italic;font-weight:200" fill="#262626">τ</text>
<text transform="translate(1342.46,1287.30) scale(1.1100,1) rotate(-90) scale(1.0000,1)" style="font-family:'Liberation Sans', sans-serif;font-size:41.5px" fill="#262626">u</text>
<text transform="translate(1313.60,1247.88) scale(1.1100,1) rotate(-90) scale(1.0000,1)" style="font-family:'Liberation Sans', sans-serif;font-size:53.0px" fill="#262626">[N]</text>
<text transform="translate(1313.60,1182.86) scale(1.1100,1) rotate(-90) scale(1.0000,1)" style="font-family:'Liberation Sans', sans-serif;font-size:53.0px" fill="#262626">,</text>
<text transform="translate(1313.60,1155.85) scale(1.1100,1) rotate(-90) scale(0.9700,1)" style="font-family:'Noto Serif CJK SC', serif;font-size:45.4px;font-style:italic;font-weight:200" fill="#262626">τ</text>
<text transform="translate(1342.46,1131.16) scale(1.1100,1) rotate(-90) scale(1.0000,1)" style="font-family:'Liberation Sans', sans-serif;font-size:41.5px" fill="#262626">r</text>
<text transform="translate(1313.60,1100.78) scale(1.1100,1) rotate(-90) scale(1.0000,1)" style="font-family:'Liberation Sans', sans-serif;font-size:53.0px" fill="#262626">[Nm]</text>
<text transform="translate(1791.40,1646.90) scale(0.9000,1)" style="font-family:'Liberation Serif', serif;font-size:86.0px" fill="#000">(</text>
<text transform="translate(1868.63,1646.90) scale(0.9000,1)" style="font-family:'Liberation Serif', serif;font-size:86.0px" fill="#000">)</text>
<text transform="translate(1818.25,1646.90) scale(1.0432,1)" style="font-family:'Liberation Serif', serif;font-size:84.0px;font-weight:bold" fill="#000">d</text>
<rect x="209.70" y="1728.40" width="909.90" height="510.80" fill="none" stroke="#262626" stroke-width="1.1"/>
<line x1="266.57" y1="2239.20" x2="266.57" y2="2230.20" stroke="#262626" stroke-width="1.0"/>
<line x1="266.57" y1="1728.40" x2="266.57" y2="1737.40" stroke="#262626" stroke-width="1.0"/>
<text transform="translate(251.54,2302.30) scale(1.0940,1)" style="font-family:'Liberation Sans', sans-serif;font-size:49.4px" fill="#262626">0</text>
<line x1="550.91" y1="2239.20" x2="550.91" y2="2230.20" stroke="#262626" stroke-width="1.0"/>
<line x1="550.91" y1="1728.40" x2="550.91" y2="1737.40" stroke="#262626" stroke-width="1.0"/>
<text transform="translate(520.86,2302.30) scale(1.0940,1)" style="font-family:'Liberation Sans', sans-serif;font-size:49.4px" fill="#262626">50</text>
<line x1="835.26" y1="2239.20" x2="835.26" y2="2230.20" stroke="#262626" stroke-width="1.0"/>
<line x1="835.26" y1="1728.40" x2="835.26" y2="1737.40" stroke="#262626" stroke-width="1.0"/>
<text transform="translate(790.17,2302.30) scale(1.0940,1)" style="font-family:'Liberation Sans', sans-serif;font-size:49.4px" fill="#262626">100</text>
<line x1="1119.60" y1="2239.20" x2="1119.60" y2="2230.20" stroke="#262626" stroke-width="1.0"/>
<line x1="1119.60" y1="1728.40" x2="1119.60" y2="1737.40" stroke="#262626" stroke-width="1.0"/>
<text transform="translate(1074.52,2302.30) scale(1.0940,1)" style="font-family:'Liberation Sans', sans-serif;font-size:49.4px" fill="#262626">150</text>
<line x1="209.70" y1="2239.20" x2="218.70" y2="2239.20" stroke="#262626" stroke-width="1.0"/>
<line x1="1119.60" y1="2239.20" x2="1110.60" y2="2239.20" stroke="#262626" stroke-width="1.0"/>
<text transform="translate(134.29,2258.70) scale(1.0940,1)" style="font-family:'Liberation Sans', sans-serif;font-size:49.4px" fill="#262626">15</text>
<line x1="209.70" y1="1983.80" x2="218.70" y2="1983.80" stroke="#262626" stroke-width="1.0"/>
<line x1="1119.60" y1="1983.80" x2="1110.60" y2="1983.80" stroke="#262626" stroke-width="1.0"/>
<text transform="translate(134.29,2003.30) scale(1.0940,1)" style="font-family:'Liberation Sans', sans-serif;font-size:49.4px" fill="#262626">20</text>
<line x1="209.70" y1="1728.40" x2="218.70" y2="1728.40" stroke="#262626" stroke-width="1.0"/>
<line x1="1119.60" y1="1728.40" x2="1110.60" y2="1728.40" stroke="#262626" stroke-width="1.0"/>
<text transform="translate(134.29,1747.90) scale(1.0940,1)" style="font-family:'Liberation Sans', sans-serif;font-size:49.4px" fill="#262626">25</text>
<path d="M243.82,1983.80 L244.96,1986.72 L246.10,1989.64 L247.24,1992.56 L248.39,1995.47 L249.55,1998.39 L250.70,2001.30 L251.87,2004.21 L253.04,2007.11 L254.21,2010.01 L255.39,2012.90 L256.57,2015.79 L257.76,2018.67 L258.95,2021.54 L260.15,2024.41 L261.35,2027.27 L262.56,2030.12 L263.77,2032.95 L264.98,2035.78 L266.20,2038.60 L267.43,2041.41 L268.66,2044.21 L269.89,2046.99 L271.13,2049.76 L272.37,2052.52 L273.62,2055.26 L274.87,2057.99 L276.13,2060.70 L277.39,2063.40 L278.65,2066.08 L279.92,2068.74 L281.20,2071.39 L282.47,2074.02 L283.76,2076.63 L285.04,2079.22 L286.33,2081.79 L287.63,2084.35 L288.93,2086.88 L290.23,2089.39 L291.54,2091.88 L292.85,2094.35 L294.16,2096.79 L295.48,2099.21 L296.81,2101.61 L298.13,2103.98 L299.46,2106.33 L300.80,2108.66 L302.14,2110.95 L303.48,2113.23 L304.83,2115.47 L306.17,2117.69 L307.53,2119.88 L308.88,2122.05 L310.24,2124.18 L311.61,2126.29 L312.98,2128.37 L314.35,2130.42 L315.72,2132.44 L317.10,2134.43 L318.48,2136.38 L319.86,2138.31 L321.25,2140.20 L322.64,2142.07 L324.03,2143.90 L325.42,2145.70 L326.82,2147.46 L328.22,2149.19 L329.63,2150.89 L331.04,2152.55 L332.44,2154.18 L333.86,2155.78 L335.27,2157.34 L336.69,2158.86 L338.11,2160.35 L339.53,2161.80 L340.96,2163.21 L342.38,2164.59 L343.81,2165.94 L345.24,2167.24 L346.68,2168.51 L348.11,2169.74 L349.55,2170.93 L350.99,2172.08 L352.43,2173.20 L353.87,2174.27 L355.32,2175.31 L356.76,2176.31 L358.21,2177.27 L359.66,2178.19 L361.11,2179.07 L362.56,2179.91 L364.01,2180.70 L365.47,2181.46 L366.93,2182.18 L368.38,2182.86 L369.84,2183.50 L371.30,2184.10 L372.76,2184.65 L374.22,2185.17 L375.68,2185.64 L377.15,2186.07 L378.61,2186.47 L380.07,2186.82 L381.54,2187.12 L383.00,2187.39 L384.47,2187.62 L385.93,2187.80 L387.40,2187.94 L388.86,2188.04 L390.33,2188.10 L391.80,2188.12 L393.26,2188.10 L394.73,2188.03 L396.19,2187.92 L397.66,2187.77 L399.13,2187.58 L400.59,2187.35 L402.06,2187.07 L403.52,2186.76 L404.98,2186.40 L406.45,2186.00 L407.91,2185.56 L409.37,2185.08 L410.83,2184.55 L412.29,2183.99 L413.75,2183.39 L415.21,2182.74 L416.67,2182.05 L418.12,2181.33 L419.58,2180.56 L421.03,2179.75 L422.48,2178.91 L423.93,2178.02 L425.38,2177.09 L426.83,2176.13 L428.27,2175.12 L429.72,2174.08 L431.16,2173.00 L432.60,2171.87 L434.04,2170.71 L435.48,2169.51 L436.91,2168.28 L438.34,2167.00 L439.78,2165.69 L441.20,2164.34 L442.63,2162.96 L444.05,2161.54 L445.48,2160.08 L446.89,2158.58 L448.31,2157.05 L449.73,2155.49 L451.14,2153.89 L452.55,2152.25 L453.95,2150.58 L455.36,2148.88 L456.76,2147.14 L458.16,2145.37 L459.55,2143.57 L460.94,2141.73 L462.33,2139.86 L463.72,2137.96 L465.10,2136.03 L466.48,2134.06 L467.86,2132.07 L469.23,2130.05 L470.60,2127.99 L471.97,2125.91 L473.33,2123.80 L474.69,2121.66 L476.04,2119.49 L477.40,2117.29 L478.75,2115.06 L480.09,2112.81 L481.43,2110.54 L482.77,2108.23 L484.10,2105.90 L485.43,2103.55 L486.76,2101.17 L488.08,2098.77 L489.40,2096.34 L490.72,2093.90 L492.03,2091.42 L493.33,2088.93 L494.64,2086.42 L495.93,2083.88 L497.23,2081.33 L498.52,2078.75 L499.80,2076.15 L501.09,2073.54 L502.36,2070.91 L503.64,2068.26 L504.90,2065.59 L506.17,2062.91 L507.43,2060.21 L508.68,2057.49 L509.93,2054.76 L511.18,2052.01 L512.42,2049.25 L513.66,2046.48 L514.89,2043.70 L516.12,2040.90 L517.35,2038.09 L518.57,2035.27 L519.78,2032.44 L520.99,2029.60 L522.20,2026.75 L523.40,2023.89 L524.59,2021.02 L525.78,2018.14 L526.97,2015.26 L528.15,2012.37 L529.33,2009.48 L530.50,2006.58 L531.67,2003.68 L532.83,2000.77 L533.99,1997.86 L535.14,1994.94 L536.29,1992.02 L537.44,1989.11 L538.58,1986.19 L539.71,1983.27 L540.84,1980.35 L541.97,1977.43 L543.09,1974.51 L544.20,1971.59 L545.31,1968.68 L546.42,1965.77 L547.52,1962.86 L548.62,1959.96 L549.71,1957.06 L550.79,1954.17 L551.88,1951.28 L552.95,1948.40 L554.03,1945.53 L555.10,1942.67 L556.16,1939.81 L557.22,1936.96 L558.27,1934.13 L559.32,1931.30 L560.37,1928.48 L561.41,1925.68 L562.44,1922.88 L563.47,1920.10 L564.50,1917.34 L565.52,1914.58 L566.54,1911.84 L567.55,1909.12 L568.56,1906.40 L569.57,1903.71 L570.57,1901.03 L571.56,1898.37 L572.56,1895.73 L573.54,1893.10 L574.53,1890.49 L575.50,1887.91 L576.48,1885.34 L577.45,1882.79 L578.42,1880.26 L579.38,1877.75 L580.34,1875.27 L581.29,1872.81 L582.24,1870.37 L583.19,1867.95 L584.13,1865.56 L585.07,1863.19 L586.00,1860.84 L586.93,1858.52 L587.86,1856.23 L588.78,1853.96 L589.70,1851.72 L590.62,1849.50 L591.53,1847.32 L592.44,1845.16 L593.34,1843.03 L594.24,1840.93 L595.14,1838.85 L596.04,1836.81 L596.93,1834.80 L597.82,1832.81 L598.70,1830.86 L599.58,1828.94 L600.46,1827.05 L601.34,1825.20 L602.21,1823.37 L603.08,1821.58 L603.95,1819.82 L604.81,1818.09 L605.67,1816.40 L606.53,1814.75 L607.39,1813.12 L608.24,1811.54 L609.09,1809.98 L609.94,1808.47 L610.79,1806.98 L611.63,1805.54 L612.47,1804.13 L613.31,1802.76 L614.15,1801.42 L614.98,1800.13 L615.81,1798.87 L616.64,1797.64 L617.47,1796.46 L618.30,1795.31 L619.12,1794.20 L619.95,1793.14 L620.77,1792.10 L621.59,1791.11 L622.40,1790.16 L623.22,1789.25 L624.04,1788.38 L624.85,1787.55 L625.66,1786.75 L626.47,1786.00 L627.28,1785.29 L628.09,1784.62 L628.90,1783.99 L629.71,1783.40 L630.51,1782.85 L631.32,1782.34 L632.12,1781.88 L632.92,1781.45 L633.73,1781.07 L634.53,1780.72 L635.33,1780.42 L636.13,1780.16 L636.93,1779.95 L637.73,1779.77 L638.53,1779.64 L639.33,1779.54 L640.13,1779.49 L640.93,1779.48 L641.73,1779.51 L642.53,1779.59 L643.33,1779.70 L644.13,1779.86 L644.93,1780.06 L645.73,1780.30 L646.53,1780.58 L647.34,1780.91 L648.14,1781.27 L648.94,1781.68 L649.75,1782.13 L650.55,1782.62 L651.35,1783.15 L652.16,1783.72 L652.97,1784.33 L653.78,1784.98 L654.59,1785.68 L655.40,1786.41 L656.21,1787.18 L657.02,1788.00 L657.84,1788.85 L658.65,1789.75 L659.47,1790.68 L660.29,1791.65 L661.11,1792.67 L661.93,1793.72 L662.75,1794.81 L663.58,1795.94 L664.41,1797.10 L665.24,1798.31 L666.07,1799.55 L666.90,1800.83 L667.74,1802.15 L668.57,1803.51 L669.41,1804.90 L670.26,1806.33 L671.10,1807.79 L671.95,1809.29 L672.80,1810.83 L673.65,1812.40 L674.51,1814.01 L675.36,1815.65 L676.22,1817.33 L677.09,1819.04 L677.95,1820.78 L678.82,1822.56 L679.69,1824.37 L680.57,1826.21 L681.44,1828.08 L682.32,1829.99 L683.21,1831.93 L684.09,1833.90 L684.98,1835.90 L685.88,1837.93 L686.78,1839.99 L687.68,1842.08 L688.58,1844.19 L689.49,1846.34 L690.40,1848.51 L691.31,1850.72 L692.23,1852.94 L693.15,1855.20 L694.07,1857.48 L695.00,1859.79 L695.94,1862.12 L696.87,1864.48 L697.81,1866.87 L698.76,1869.27 L699.71,1871.70 L700.66,1874.15 L701.61,1876.63 L702.57,1879.13 L703.54,1881.64 L704.51,1884.18 L705.48,1886.74 L706.46,1889.32 L707.44,1891.92 L708.42,1894.54 L709.41,1897.18 L710.41,1899.83 L711.40,1902.50 L712.41,1905.19 L713.41,1907.89 L714.43,1910.61 L715.44,1913.34 L716.46,1916.09 L717.49,1918.85 L718.52,1921.63 L719.55,1924.42 L720.59,1927.22 L721.63,1930.03 L722.68,1932.85 L723.73,1935.68 L724.79,1938.53 L725.85,1941.38 L726.91,1944.24 L727.99,1947.11 L729.06,1949.98 L730.14,1952.87 L731.23,1955.76 L732.32,1958.65 L733.41,1961.55 L734.51,1964.46 L735.61,1967.37 L736.72,1970.28 L737.83,1973.19 L738.95,1976.11 L740.08,1979.03 L741.20,1981.95 L742.34,1984.87 L743.47,1987.79 L744.61,1990.71 L745.76,1993.62 L746.91,1996.54 L748.07,1999.45 L749.23,2002.36 L750.40,2005.27 L751.57,2008.17 L752.74,2011.07 L753.92,2013.96 L755.11,2016.84 L756.29,2019.72 L757.49,2022.59 L758.69,2025.46 L759.89,2028.31 L761.10,2031.16 L762.31,2033.99 L763.53,2036.82 L764.75,2039.63 L765.98,2042.43 L767.21,2045.23 L768.44,2048.00 L769.68,2050.77 L770.93,2053.52 L772.18,2056.26 L773.43,2058.98 L774.69,2061.69 L775.95,2064.38 L777.22,2067.06 L778.49,2069.71 L779.76,2072.35 L781.04,2074.98 L782.33,2077.58 L783.61,2080.17 L784.91,2082.73 L786.20,2085.28 L787.50,2087.80 L788.81,2090.30 L790.12,2092.78 L791.43,2095.24 L792.75,2097.68 L794.07,2100.09 L795.39,2102.48 L796.72,2104.84 L798.05,2107.18 L799.39,2109.50 L800.73,2111.79 L802.07,2114.05 L803.42,2116.29 L804.77,2118.50 L806.12,2120.68 L807.48,2122.83 L808.84,2124.96 L810.21,2127.06 L811.58,2129.12 L812.95,2131.16 L814.32,2133.17 L815.70,2135.15 L817.08,2137.09 L818.47,2139.01 L819.85,2140.89 L821.25,2142.74 L822.64,2144.56 L824.04,2146.35 L825.44,2148.10 L826.84,2149.82 L828.24,2151.50 L829.65,2153.15 L831.06,2154.77 L832.47,2156.35 L833.89,2157.90 L835.31,2159.41 L836.73,2160.88 L838.15,2162.32 L839.58,2163.72 L841.00,2165.09 L842.43,2166.42 L843.87,2167.71 L845.30,2168.96 L846.74,2170.18 L848.17,2171.35 L849.61,2172.49 L851.06,2173.59 L852.50,2174.66 L853.94,2175.68 L855.39,2176.66 L856.84,2177.61 L858.29,2178.51 L859.74,2179.38 L861.19,2180.20 L862.65,2180.99 L864.10,2181.73 L865.56,2182.44 L867.02,2183.10 L868.47,2183.72 L869.93,2184.30 L871.39,2184.85 L872.86,2185.35 L874.32,2185.80 L875.78,2186.22 L877.24,2186.60 L878.71,2186.93 L880.17,2187.23 L881.64,2187.48 L883.10,2187.69 L884.57,2187.86 L886.03,2187.99 L887.50,2188.07 L888.97,2188.11 L890.43,2188.12 L891.90,2188.08 L893.36,2187.99 L894.83,2187.87 L896.30,2187.71 L897.76,2187.50 L899.23,2187.25 L900.69,2186.96 L902.16,2186.63 L903.62,2186.26 L905.08,2185.84 L906.54,2185.39 L908.01,2184.89 L909.47,2184.35 L910.93,2183.77 L912.38,2183.15 L913.84,2182.49 L915.30,2181.79 L916.75,2181.05 L918.21,2180.27 L919.66,2179.45 L921.11,2178.59 L922.56,2177.69 L924.01,2176.75 L925.46,2175.77 L926.90,2174.75 L928.35,2173.69 L929.79,2172.59 L931.23,2171.45 L932.67,2170.28 L934.10,2169.07 L935.54,2167.82 L936.97,2166.53 L938.40,2165.20 L939.83,2163.84 L941.25,2162.44 L942.67,2161.01 L944.09,2159.54 L945.51,2158.03 L946.93,2156.48 L948.34,2154.91 L949.75,2153.29 L951.16,2151.65 L952.57,2149.96 L953.97,2148.25 L955.37,2146.50 L956.77,2144.71 L958.16,2142.90 L959.55,2141.05 L960.94,2139.17 L962.32,2137.26 L963.71,2135.31 L965.08,2133.34 L966.46,2131.33 L967.83,2129.30 L969.20,2127.23 L970.56,2125.14 L971.93,2123.02 L973.28,2120.87 L974.64,2118.69 L975.99,2116.48 L977.34,2114.24 L978.68,2111.98 L980.02,2109.70 L981.36,2107.38 L982.69,2105.05 L984.02,2102.68 L985.35,2100.30 L986.67,2097.89 L987.98,2095.45 L989.30,2092.99 L990.61,2090.52 L991.91,2088.01 L993.21,2085.49 L994.51,2082.95 L995.80,2080.39 L997.09,2077.80 L998.37,2075.20 L999.65,2072.58 L1000.93,2069.94 L1002.20,2067.28 L1003.47,2064.61 L1004.73,2061.92 L1005.99,2059.21 L1007.24,2056.49 L1008.49,2053.76 L1009.74,2051.01 L1010.98,2048.24 L1012.21,2045.46 L1013.44,2042.67 L1014.67,2039.87 L1015.89,2037.06 L1017.11,2034.23 L1018.32,2031.40 L1019.53,2028.55 L1020.73,2025.70 L1021.93,2022.84 L1023.13,2019.97 L1024.32,2017.09 L1025.50,2014.21 L1026.68,2011.32 L1027.86,2008.42 L1029.03,2005.52 L1030.19,2002.61 L1031.36,1999.70 L1032.51,1996.79 L1033.66,1993.87 L1034.81,1990.96 L1035.95,1988.04 L1037.09,1985.12 L1038.22,1982.20 L1039.35,1979.28 L1040.48,1976.36 L1041.59,1973.44 L1042.71,1970.53 L1043.82,1967.61 L1044.92,1964.71 L1046.02,1961.80 L1047.11,1958.90 L1048.20,1956.00 L1049.29,1953.11 L1050.37,1950.23 L1051.45,1947.35 L1052.52,1944.48 L1053.58,1941.62 L1054.65,1938.77 L1055.70,1935.93 L1056.76,1933.09 L1057.80,1930.27 L1058.85,1927.46 L1059.89,1924.65 L1060.92,1921.87 L1061.95,1919.09 L1062.98,1916.33 L1064.00,1913.58 L1065.01,1910.84 L1066.02,1908.12 L1067.03,1905.42 L1068.03,1902.73 L1069.03,1900.06 L1070.03,1897.40 L1071.02,1894.76 L1072.00,1892.15 L1072.98,1889.55 L1073.96,1886.96 L1074.93,1884.40 L1075.90,1881.86 L1076.87,1879.34 L1077.83,1876.84 L1078.78,1874.37" fill="none" stroke="#0072BD" stroke-width="5.1" stroke-linejoin="round"/>
<path d="M248.10,2086.60 L249.82,2086.80 L251.53,2087.06 L253.21,2087.38 L254.87,2087.75 L256.48,2088.17 L258.05,2088.61 L259.58,2089.14 L261.08,2089.78 L262.56,2090.52 L264.02,2091.34 L265.45,2092.23 L266.87,2093.19 L268.28,2094.19 L269.67,2095.23 L271.06,2096.29 L272.43,2097.36 L273.81,2098.43 L275.19,2099.48 L276.57,2100.50 L277.95,2101.48 L279.34,2102.44 L280.73,2103.41 L282.12,2104.39 L283.50,2105.37 L284.88,2106.35 L286.26,2107.35 L287.63,2108.35 L289.00,2109.35 L290.36,2110.37 L291.72,2111.39 L293.06,2112.42 L294.40,2113.46 L295.72,2114.51 L297.04,2115.57 L298.34,2116.64 L299.63,2117.72 L300.91,2118.81 L302.17,2119.92 L303.42,2121.05 L304.65,2122.20 L305.87,2123.37 L307.08,2124.55 L308.28,2125.75 L309.47,2126.95 L310.65,2128.17 L311.83,2129.39 L313.00,2130.62 L314.16,2131.86 L315.33,2133.10 L316.49,2134.35 L317.65,2135.59 L318.81,2136.84 L319.97,2138.08 L321.14,2139.32 L322.30,2140.56 L323.48,2141.78 L324.66,2143.00 L325.84,2144.22 L327.04,2145.41 L328.24,2146.60 L329.46,2147.78 L330.68,2148.93 L331.92,2150.07 L333.18,2151.19 L334.44,2152.30 L335.72,2153.41 L336.99,2154.55 L338.27,2155.70 L339.55,2156.87 L340.84,2158.04 L342.13,2159.22 L343.42,2160.40 L344.72,2161.58 L346.03,2162.76 L347.34,2163.92 L348.66,2165.07 L349.99,2166.20 L351.33,2167.31 L352.68,2168.40 L354.04,2169.45 L355.41,2170.47 L356.79,2171.46 L358.18,2172.40 L359.59,2173.30 L361.01,2174.16 L362.44,2174.95 L363.89,2175.70 L365.36,2176.38 L366.84,2177.00 L368.34,2177.56 L369.87,2178.09 L371.43,2178.62 L373.03,2179.14 L374.65,2179.65 L376.30,2180.13 L377.96,2180.59 L379.64,2181.01 L381.33,2181.40 L383.03,2181.74 L384.73,2182.04 L386.42,2182.28 L388.11,2182.47 L389.79,2182.59 L391.47,2182.67 L393.16,2182.74 L394.86,2182.80 L396.57,2182.86 L398.28,2182.91 L399.98,2182.95 L401.67,2182.98 L403.35,2183.00 L405.00,2183.00 L406.65,2182.93 L408.31,2182.76 L409.97,2182.51 L411.63,2182.18 L413.29,2181.78 L414.95,2181.31 L416.60,2180.78 L418.24,2180.20 L419.88,2179.57 L421.50,2178.90 L423.11,2178.19 L424.71,2177.45 L426.28,2176.69 L427.84,2175.91 L429.38,2175.12 L430.89,2174.32 L432.38,2173.53 L433.84,2172.75 L435.27,2171.98 L436.68,2171.20 L438.07,2170.37 L439.45,2169.49 L440.81,2168.57 L442.16,2167.59 L443.50,2166.58 L444.82,2165.52 L446.13,2164.43 L447.43,2163.31 L448.71,2162.16 L449.98,2160.98 L451.24,2159.78 L452.48,2158.56 L453.71,2157.32 L454.93,2156.07 L456.13,2154.81 L457.32,2153.54 L458.49,2152.27 L459.66,2151.00 L460.81,2149.73 L461.95,2148.47 L463.07,2147.22 L464.18,2145.97 L465.29,2144.72 L466.39,2143.46 L467.48,2142.18 L468.57,2140.90 L469.65,2139.60 L470.73,2138.29 L471.80,2136.96 L472.86,2135.63 L473.91,2134.29 L474.96,2132.93 L475.99,2131.57 L477.02,2130.20 L478.03,2128.82 L479.04,2127.43 L480.03,2126.03 L481.01,2124.63 L481.98,2123.22 L482.94,2121.80 L483.89,2120.38 L484.82,2118.95 L485.74,2117.52 L486.64,2116.08 L487.53,2114.64 L488.40,2113.20 L489.26,2111.75 L490.10,2110.30 L490.93,2108.84 L491.74,2107.38 L492.53,2105.92 L493.30,2104.46 L494.07,2102.98 L494.82,2101.49 L495.56,2099.99 L496.29,2098.49 L497.01,2096.98 L497.72,2095.46 L498.41,2093.93 L499.10,2092.40 L499.78,2090.86 L500.45,2089.31 L501.12,2087.76 L501.77,2086.20 L502.42,2084.64 L503.06,2083.07 L503.70,2081.50 L504.33,2079.92 L504.95,2078.34 L505.57,2076.76 L506.19,2075.17 L506.80,2073.58 L507.41,2071.99 L508.02,2070.40 L508.62,2068.80 L509.23,2067.21 L509.83,2065.61 L510.43,2064.01 L511.03,2062.41 L511.64,2060.82 L512.24,2059.22 L512.84,2057.62 L513.45,2056.03 L514.06,2054.43 L514.67,2052.84 L515.28,2051.25 L515.90,2049.67 L516.52,2048.08 L517.15,2046.50 L517.78,2044.92 L518.42,2043.35 L519.06,2041.78 L519.72,2040.22 L520.37,2038.66 L521.03,2037.10 L521.70,2035.55 L522.37,2033.99 L523.03,2032.43 L523.70,2030.88 L524.37,2029.32 L525.04,2027.77 L525.70,2026.21 L526.36,2024.65 L527.02,2023.10 L527.68,2021.53 L528.33,2019.97 L528.98,2018.41 L529.62,2016.85 L530.27,2015.28 L530.91,2013.72 L531.55,2012.15 L532.19,2010.58 L532.83,2009.02 L533.47,2007.45 L534.11,2005.88 L534.74,2004.31 L535.37,2002.74 L536.01,2001.17 L536.63,1999.60 L537.26,1998.03 L537.89,1996.46 L538.51,1994.88 L539.14,1993.31 L539.76,1991.74 L540.38,1990.16 L541.00,1988.59 L541.62,1987.01 L542.24,1985.44 L542.86,1983.86 L543.47,1982.28 L544.09,1980.71 L544.70,1979.13 L545.31,1977.55 L545.93,1975.97 L546.54,1974.40 L547.15,1972.82 L547.76,1971.24 L548.37,1969.66 L548.97,1968.08 L549.58,1966.50 L550.18,1964.92 L550.79,1963.34 L551.39,1961.76 L552.00,1960.18 L552.60,1958.60 L553.20,1957.01 L553.80,1955.43 L554.41,1953.85 L555.01,1952.27 L555.61,1950.69 L556.21,1949.10 L556.81,1947.52 L557.41,1945.94 L558.01,1944.35 L558.60,1942.77 L559.20,1941.19 L559.80,1939.61 L560.40,1938.02 L561.00,1936.44 L561.60,1934.86 L562.19,1933.27 L562.79,1931.69 L563.39,1930.11 L563.99,1928.52 L564.58,1926.94 L565.18,1925.35 L565.78,1923.77 L566.38,1922.19 L566.98,1920.61 L567.58,1919.02 L568.17,1917.44 L568.77,1915.86 L569.37,1914.27 L569.97,1912.69 L570.57,1911.11 L571.18,1909.53 L571.78,1907.95 L572.38,1906.37 L572.99,1904.78 L573.59,1903.20 L574.20,1901.62 L574.80,1900.04 L575.41,1898.46 L576.02,1896.88 L576.62,1895.30 L577.23,1893.73 L577.85,1892.15 L578.46,1890.57 L579.07,1888.99 L579.69,1887.42 L580.31,1885.84 L580.93,1884.27 L581.55,1882.69 L582.17,1881.12 L582.79,1879.54 L583.42,1877.97 L584.04,1876.40 L584.68,1874.83 L585.31,1873.26 L585.94,1871.69 L586.58,1870.12 L587.22,1868.55 L587.86,1866.99 L588.50,1865.42 L589.15,1863.86 L589.80,1862.30 L590.46,1860.74 L591.11,1859.18 L591.77,1857.62 L592.44,1856.06 L593.10,1854.51 L593.78,1852.95 L594.45,1851.40 L595.13,1849.85 L595.82,1848.30 L596.51,1846.76 L597.20,1845.21 L597.90,1843.67 L598.60,1842.13 L599.31,1840.60 L600.03,1839.06 L600.75,1837.53 L601.48,1836.01 L602.22,1834.48 L602.96,1832.96 L603.71,1831.44 L604.47,1829.93 L605.24,1828.42 L606.02,1826.92 L606.80,1825.42 L607.60,1823.93 L608.40,1822.44 L609.22,1820.96 L610.05,1819.48 L610.90,1818.01 L611.75,1816.56 L612.63,1815.10 L613.51,1813.66 L614.42,1812.23 L615.34,1810.81 L616.28,1809.40 L617.24,1808.01 L618.23,1806.63 L619.23,1805.27 L620.27,1803.93 L621.33,1802.62 L622.43,1801.33 L623.56,1800.06 L624.72,1798.82 L625.92,1797.64 L627.17,1796.50 L628.47,1795.40 L629.82,1794.36 L631.22,1793.43 L632.68,1792.56 L634.21,1791.77 L635.78,1791.17 L637.40,1790.73 L639.07,1790.37 L640.76,1790.22 L642.45,1790.31 L644.14,1790.54 L645.79,1790.84 L647.39,1791.35 L648.95,1792.08 L650.45,1792.88 L651.88,1793.76 L653.26,1794.76 L654.60,1795.82 L655.87,1796.92 L657.10,1798.08 L658.29,1799.30 L659.44,1800.55 L660.56,1801.81 L661.64,1803.11 L662.69,1804.44 L663.72,1805.79 L664.72,1807.16 L665.69,1808.54 L666.65,1809.94 L667.58,1811.35 L668.49,1812.78 L669.39,1814.22 L670.27,1815.66 L671.14,1817.11 L671.99,1818.57 L672.83,1820.05 L673.65,1821.53 L674.47,1823.01 L675.27,1824.50 L676.06,1825.99 L676.85,1827.49 L677.62,1829.00 L678.38,1830.51 L679.14,1832.03 L679.89,1833.54 L680.63,1835.07 L681.36,1836.59 L682.09,1838.12 L682.81,1839.65 L683.52,1841.19 L684.23,1842.72 L684.93,1844.26 L685.63,1845.81 L686.32,1847.35 L687.01,1848.90 L687.69,1850.44 L688.37,1852.00 L689.04,1853.55 L689.71,1855.10 L690.38,1856.66 L691.04,1858.22 L691.70,1859.77 L692.36,1861.33 L693.01,1862.90 L693.66,1864.46 L694.31,1866.02 L694.95,1867.59 L695.59,1869.16 L696.23,1870.72 L696.86,1872.29 L697.50,1873.86 L698.13,1875.43 L698.76,1877.00 L699.38,1878.57 L700.01,1880.15 L700.63,1881.72 L701.25,1883.30 L701.87,1884.87 L702.49,1886.45 L703.11,1888.02 L703.72,1889.60 L704.34,1891.18 L704.95,1892.75 L705.56,1894.33 L706.17,1895.91 L706.78,1897.49 L707.39,1899.07 L707.99,1900.65 L708.60,1902.23 L709.21,1903.81 L709.81,1905.39 L710.41,1906.97 L711.01,1908.55 L711.62,1910.14 L712.22,1911.72 L712.82,1913.30 L713.42,1914.88 L714.02,1916.46 L714.62,1918.05 L715.22,1919.63 L715.82,1921.21 L716.41,1922.80 L717.01,1924.38 L717.61,1925.96 L718.21,1927.55 L718.81,1929.13 L719.40,1930.71 L720.00,1932.30 L720.60,1933.88 L721.20,1935.46 L721.80,1937.05 L722.39,1938.63 L722.99,1940.21 L723.59,1941.80 L724.19,1943.38 L724.79,1944.96 L725.38,1946.55 L725.98,1948.13 L726.58,1949.71 L727.18,1951.29 L727.79,1952.87 L728.39,1954.46 L728.99,1956.04 L729.59,1957.62 L730.19,1959.20 L730.80,1960.78 L731.40,1962.36 L732.00,1963.95 L732.61,1965.53 L733.22,1967.11 L733.82,1968.69 L734.43,1970.27 L735.04,1971.84 L735.65,1973.42 L736.26,1975.00 L736.87,1976.58 L737.48,1978.16 L738.09,1979.74 L738.71,1981.31 L739.32,1982.89 L739.94,1984.47 L740.56,1986.04 L741.18,1987.62 L741.80,1989.19 L742.42,1990.77 L743.04,1992.34 L743.66,1993.91 L744.29,1995.49 L744.91,1997.06 L745.54,1998.63 L746.17,2000.20 L746.80,2001.77 L747.43,2003.34 L748.06,2004.91 L748.70,2006.48 L749.34,2008.05 L749.97,2009.62 L750.61,2011.18 L751.25,2012.75 L751.90,2014.32 L752.54,2015.88 L753.19,2017.45 L753.84,2019.01 L754.49,2020.57 L755.14,2022.13 L755.79,2023.69 L756.45,2025.26 L757.10,2026.81 L757.76,2028.37 L758.42,2029.93 L759.09,2031.49 L759.75,2033.04 L760.42,2034.60 L761.09,2036.15 L761.77,2037.71 L762.44,2039.26 L763.12,2040.81 L763.80,2042.36 L764.48,2043.91 L765.16,2045.46 L765.85,2047.00 L766.54,2048.55 L767.23,2050.09 L767.93,2051.64 L768.62,2053.18 L769.32,2054.72 L770.03,2056.26 L770.73,2057.80 L771.44,2059.33 L772.15,2060.87 L772.87,2062.40 L773.58,2063.94 L774.30,2065.47 L775.03,2067.00 L775.76,2068.53 L776.49,2070.05 L777.22,2071.58 L777.96,2073.10 L778.70,2074.63 L779.44,2076.15 L780.19,2077.66 L780.94,2079.18 L781.69,2080.70 L782.45,2082.21 L783.21,2083.72 L783.98,2085.23 L784.75,2086.74 L785.52,2088.24 L786.30,2089.75 L787.08,2091.25 L787.87,2092.75 L788.66,2094.24 L789.45,2095.74 L790.25,2097.23 L791.06,2098.72 L791.87,2100.20 L792.68,2101.69 L793.50,2103.17 L794.32,2104.65 L795.15,2106.12 L795.98,2107.60 L796.82,2109.07 L797.67,2110.54 L798.52,2112.00 L799.37,2113.46 L800.23,2114.91 L801.10,2116.37 L801.97,2117.82 L802.85,2119.27 L803.73,2120.71 L804.62,2122.15 L805.52,2123.59 L806.42,2125.02 L807.34,2126.44 L808.25,2127.86 L809.18,2129.28 L810.11,2130.70 L811.05,2132.10 L811.99,2133.51 L812.95,2134.91 L813.91,2136.30 L814.88,2137.69 L815.86,2139.07 L816.84,2140.44 L817.84,2141.81 L818.84,2143.18 L819.85,2144.53 L820.87,2145.89 L821.90,2147.23 L822.94,2148.56 L823.99,2149.89 L825.05,2151.21 L826.12,2152.52 L827.20,2153.82 L828.30,2155.12 L829.40,2156.40 L830.51,2157.68 L831.64,2158.94 L832.78,2160.19 L833.93,2161.43 L835.09,2162.66 L836.26,2163.89 L837.45,2165.09 L838.65,2166.29 L839.87,2167.47 L841.10,2168.62 L842.34,2169.77 L843.60,2170.90 L844.87,2172.02 L846.16,2173.13 L847.47,2174.21 L848.79,2175.26 L850.12,2176.29 L851.48,2177.31 L852.85,2178.31 L854.24,2179.29 L855.64,2180.24 L857.06,2181.16 L858.50,2182.04 L859.96,2182.90 L861.43,2183.74 L862.93,2184.55 L864.44,2185.32 L865.96,2186.05 L867.51,2186.72 L869.07,2187.38 L870.65,2188.01 L872.24,2188.60 L873.85,2189.13 L875.47,2189.60 L877.11,2190.02 L878.76,2190.43 L880.42,2190.81 L882.09,2191.12 L883.77,2191.33 L885.45,2191.42 L887.13,2191.48 L888.83,2191.54 L890.53,2191.58 L892.22,2191.60 L893.91,2191.60 L895.59,2191.49 L897.28,2191.28 L898.96,2190.99 L900.63,2190.67 L902.28,2190.34 L903.92,2189.96 L905.56,2189.51 L907.18,2189.00 L908.79,2188.44 L910.38,2187.86 L911.95,2187.25 L913.51,2186.59 L915.05,2185.88 L916.57,2185.13 L918.08,2184.35 L919.57,2183.55 L921.04,2182.72 L922.49,2181.85 L923.93,2180.95 L925.34,2180.01 L926.75,2179.06 L928.13,2178.08 L929.49,2177.09 L930.84,2176.07 L932.18,2175.02 L933.49,2173.96 L934.79,2172.87 L936.08,2171.76 L937.35,2170.65 L938.60,2169.52 L939.84,2168.37 L941.07,2167.20 L942.28,2166.01 L943.48,2164.81 L944.67,2163.60 L945.84,2162.39 L947.00,2161.16 L948.15,2159.91 L949.28,2158.65 L950.40,2157.39 L951.52,2156.11 L952.62,2154.82 L953.70,2153.52 L954.78,2152.22 L955.85,2150.91 L956.91,2149.59 L957.96,2148.26 L958.99,2146.92 L960.02,2145.57 L961.04,2144.22 L962.05,2142.87 L963.05,2141.50 L964.05,2140.13 L965.03,2138.76 L966.01,2137.37 L966.97,2135.98 L967.93,2134.59 L968.89,2133.19 L969.83,2131.78 L970.77,2130.37 L971.70,2128.96 L972.62,2127.54 L973.54,2126.12 L974.44,2124.69 L975.35,2123.26 L976.24,2121.82 L977.13,2120.38 L978.01,2118.94 L978.89,2117.49 L979.76,2116.04 L980.63,2114.58 L981.49,2113.13 L982.34,2111.66 L983.19,2110.20 L984.03,2108.73 L984.87,2107.26 L985.70,2105.79 L986.53,2104.31 L987.35,2102.83 L988.17,2101.35 L988.98,2099.87 L989.79,2098.38 L990.59,2096.89 L991.39,2095.39 L992.18,2093.90 L992.97,2092.40 L993.76,2090.90 L994.54,2089.40 L995.32,2087.90 L996.09,2086.39 L996.86,2084.89 L997.62,2083.38 L998.39,2081.86 L999.14,2080.35 L999.90,2078.83 L1000.65,2077.32 L1001.39,2075.80 L1002.14,2074.28 L1002.88,2072.76 L1003.61,2071.23 L1004.34,2069.71 L1005.07,2068.18 L1005.80,2066.65 L1006.52,2065.12 L1007.24,2063.59 L1007.96,2062.05 L1008.67,2060.52 L1009.38,2058.98 L1010.09,2057.45 L1010.80,2055.91 L1011.50,2054.37 L1012.20,2052.83 L1012.89,2051.28 L1013.59,2049.74 L1014.28,2048.20 L1014.97,2046.65 L1015.65,2045.10 L1016.34,2043.55 L1017.02,2042.01 L1017.70,2040.46 L1018.38,2038.90 L1019.05,2037.35 L1019.72,2035.80 L1020.39,2034.24 L1021.06,2032.69 L1021.72,2031.13 L1022.39,2029.58 L1023.05,2028.02 L1023.71,2026.46 L1024.36,2024.90 L1025.02,2023.34 L1025.67,2021.78 L1026.33,2020.22 L1026.98,2018.65 L1027.62,2017.09 L1028.27,2015.52 L1028.91,2013.96 L1029.55,2012.39 L1030.19,2010.83 L1030.83,2009.26 L1031.47,2007.69 L1032.11,2006.12 L1032.74,2004.55 L1033.38,2002.99 L1034.01,2001.41 L1034.64,1999.84 L1035.26,1998.27 L1035.89,1996.70 L1036.52,1995.13 L1037.14,1993.55 L1037.76,1991.98 L1038.39,1990.41 L1039.01,1988.83 L1039.63,1987.26 L1040.25,1985.68 L1040.86,1984.11 L1041.48,1982.53 L1042.09,1980.95 L1042.71,1979.38 L1043.32,1977.80 L1043.93,1976.22 L1044.54,1974.64 L1045.15,1973.06 L1045.76,1971.48 L1046.37,1969.91 L1046.98,1968.33 L1047.58,1966.75 L1048.19,1965.17 L1048.80,1963.58 L1049.40,1962.00 L1050.00,1960.42 L1050.61,1958.84 L1051.21,1957.26 L1051.81,1955.68 L1052.41,1954.10 L1053.01,1952.51 L1053.62,1950.93 L1054.21,1949.35 L1054.81,1947.77 L1055.41,1946.18 L1056.01,1944.60 L1056.61,1943.02 L1057.21,1941.43 L1057.81,1939.85 L1058.41,1938.27 L1059.00,1936.69 L1059.60,1935.10 L1060.20,1933.52 L1060.80,1931.93 L1061.39,1930.35 L1061.99,1928.77 L1062.59,1927.18 L1063.19,1925.60 L1063.79,1924.02 L1064.38,1922.43 L1064.98,1920.85 L1065.58,1919.27 L1066.18,1917.69 L1066.78,1916.10 L1067.38,1914.52 L1067.98,1912.94 L1068.58,1911.36 L1069.18,1909.77 L1069.78,1908.19 L1070.39,1906.61 L1070.99,1905.03 L1071.60,1903.45 L1072.20,1901.87 L1072.81,1900.29 L1073.42,1898.71 L1074.02,1897.13 L1074.63,1895.55 L1075.24,1893.97 L1075.85,1892.39 L1076.46,1890.82" fill="none" stroke="#007F00" stroke-width="5.1" stroke-linejoin="round" stroke-dasharray="15,12"/>
<text transform="translate(600.10,2371.50) scale(1.1350,1)" style="font-family:'Liberation Sans', sans-serif;font-size:52.5px" fill="#262626">x [m]</text>
<text transform="translate(110.60,2039.53) scale(1.1100,1) rotate(-90) scale(1.0000,1)" style="font-family:'Liberation Sans', sans-serif;font-size:53.0px" fill="#262626">y</text>
<text transform="translate(110.60,1998.98) scale(1.1100,1) rotate(-90) scale(1.0000,1)" style="font-family:'Liberation Sans', sans-serif;font-size:53.0px" fill="#262626">[m]</text>
<text transform="translate(594.70,2481.70) scale(0.9000,1)" style="font-family:'Liberation Serif', serif;font-size:86.0px" fill="#000">(</text>
<text transform="translate(662.73,2481.70) scale(0.9000,1)" style="font-family:'Liberation Serif', serif;font-size:86.0px" fill="#000">)</text>
<text transform="translate(620.20,2481.70) scale(1.0795,1)" style="font-family:'Liberation Serif', serif;font-size:84.0px;font-weight:bold" fill="#000">e</text>
<rect x="1425.50" y="1728.40" width="896.10" height="510.80" fill="none" stroke="#262626" stroke-width="1.1"/>
<line x1="1425.50" y1="2239.20" x2="1425.50" y2="2230.20" stroke="#262626" stroke-width="1.0"/>
<line x1="1425.50" y1="1728.40" x2="1425.50" y2="1737.40" stroke="#262626" stroke-width="1.0"/>
<text transform="translate(1410.47,2302.30) scale(1.0940,1)" style="font-family:'Liberation Sans', sans-serif;font-size:49.4px" fill="#262626">0</text>
<line x1="1649.53" y1="2239.20" x2="1649.53" y2="2230.20" stroke="#262626" stroke-width="1.0"/>
<line x1="1649.53" y1="1728.40" x2="1649.53" y2="1737.40" stroke="#262626" stroke-width="1.0"/>
<text transform="translate(1619.47,2302.30) scale(1.0940,1)" style="font-family:'Liberation Sans', sans-serif;font-size:49.4px" fill="#262626">50</text>
<line x1="1873.55" y1="2239.20" x2="1873.55" y2="2230.20" stroke="#262626" stroke-width="1.0"/>
<line x1="1873.55" y1="1728.40" x2="1873.55" y2="1737.40" stroke="#262626" stroke-width="1.0"/>
<text transform="translate(1828.47,2302.30) scale(1.0940,1)" style="font-family:'Liberation Sans', sans-serif;font-size:49.4px" fill="#262626">100</text>
<line x1="2097.57" y1="2239.20" x2="2097.57" y2="2230.20" stroke="#262626" stroke-width="1.0"/>
<line x1="2097.57" y1="1728.40" x2="2097.57" y2="1737.40" stroke="#262626" stroke-width="1.0"/>
<text transform="translate(2052.49,2302.30) scale(1.0940,1)" style="font-family:'Liberation Sans', sans-serif;font-size:49.4px" fill="#262626">150</text>
<line x1="2321.60" y1="2239.20" x2="2321.60" y2="2230.20" stroke="#262626" stroke-width="1.0"/>
<line x1="2321.60" y1="1728.40" x2="2321.60" y2="1737.40" stroke="#262626" stroke-width="1.0"/>
<text transform="translate(2276.52,2302.30) scale(1.0940,1)" style="font-family:'Liberation Sans', sans-serif;font-size:49.4px" fill="#262626">200</text>
<line x1="1425.50" y1="2239.20" x2="1434.50" y2="2239.20" stroke="#262626" stroke-width="1.0"/>
<line x1="2321.60" y1="2239.20" x2="2312.60" y2="2239.20" stroke="#262626" stroke-width="1.0"/>
<text transform="translate(1362.15,2258.70) scale(1.0940,1)" style="font-family:'Liberation Sans', sans-serif;font-size:49.4px" fill="#262626">-2</text>
<line x1="1425.50" y1="2111.50" x2="1434.50" y2="2111.50" stroke="#262626" stroke-width="1.0"/>
<line x1="2321.60" y1="2111.50" x2="2312.60" y2="2111.50" stroke="#262626" stroke-width="1.0"/>
<text transform="translate(1362.15,2131.00) scale(1.0940,1)" style="font-family:'Liberation Sans', sans-serif;font-size:49.4px" fill="#262626">-1</text>
<line x1="1425.50" y1="1983.80" x2="1434.50" y2="1983.80" stroke="#262626" stroke-width="1.0"/>
<line x1="2321.60" y1="1983.80" x2="2312.60" y2="1983.80" stroke="#262626" stroke-width="1.0"/>
<text transform="translate(1380.14,2003.30) scale(1.0940,1)" style="font-family:'Liberation Sans', sans-serif;font-size:49.4px" fill="#262626">0</text>
<line x1="1425.50" y1="1856.10" x2="1434.50" y2="1856.10" stroke="#262626" stroke-width="1.0"/>
<line x1="2321.60" y1="1856.10" x2="2312.60" y2="1856.10" stroke="#262626" stroke-width="1.0"/>
<text transform="translate(1380.14,1875.60) scale(1.0940,1)" style="font-family:'Liberation Sans', sans-serif;font-size:49.4px" fill="#262626">1</text>
<line x1="1425.50" y1="1728.40" x2="1434.50" y2="1728.40" stroke="#262626" stroke-width="1.0"/>
<line x1="2321.60" y1="1728.40" x2="2312.60" y2="1728.40" stroke="#262626" stroke-width="1.0"/>
<text transform="translate(1380.14,1747.90) scale(1.0940,1)" style="font-family:'Liberation Sans', sans-serif;font-size:49.4px" fill="#262626">2</text>
<path d="M1425.50,1853.93 L1426.41,1855.73 L1427.30,1857.53 L1428.18,1859.35 L1429.03,1861.17 L1429.85,1863.00 L1430.64,1864.84 L1431.38,1866.70 L1432.08,1868.56 L1432.75,1870.44 L1433.38,1872.34 L1433.99,1874.24 L1434.58,1876.16 L1435.15,1878.08 L1435.71,1880.01 L1436.26,1881.95 L1436.80,1883.89 L1437.34,1885.83 L1437.87,1887.77 L1438.42,1889.70 L1438.97,1891.64 L1439.53,1893.57 L1440.10,1895.50 L1440.70,1897.41 L1441.30,1899.33 L1441.90,1901.24 L1442.50,1903.16 L1443.10,1905.08 L1443.70,1907.00 L1444.31,1908.91 L1444.92,1910.83 L1445.54,1912.74 L1446.18,1914.64 L1446.82,1916.54 L1447.48,1918.44 L1448.15,1920.33 L1448.84,1922.21 L1449.54,1924.08 L1450.27,1925.94 L1451.01,1927.80 L1451.77,1929.66 L1452.54,1931.51 L1453.34,1933.36 L1454.14,1935.20 L1454.96,1937.04 L1455.79,1938.87 L1456.64,1940.70 L1457.49,1942.52 L1458.36,1944.33 L1459.24,1946.13 L1460.13,1947.93 L1461.02,1949.72 L1461.93,1951.51 L1462.85,1953.29 L1463.79,1955.07 L1464.74,1956.84 L1465.70,1958.61 L1466.69,1960.37 L1467.69,1962.12 L1468.71,1963.85 L1469.74,1965.57 L1470.80,1967.28 L1471.88,1968.96 L1472.98,1970.62 L1474.10,1972.28 L1475.25,1973.93 L1476.42,1975.58 L1477.62,1977.21 L1478.86,1978.82 L1480.12,1980.40 L1481.41,1981.95 L1482.73,1983.44 L1484.08,1984.89 L1485.48,1986.29 L1486.91,1987.70 L1488.39,1989.11 L1489.91,1990.49 L1491.47,1991.84 L1493.06,1993.12 L1494.69,1994.34 L1496.35,1995.46 L1498.03,1996.47 L1499.75,1997.37 L1501.51,1998.24 L1503.34,1999.12 L1505.21,1999.99 L1507.12,2000.80 L1509.05,2001.54 L1511.01,2002.17 L1512.98,2002.66 L1514.94,2002.97 L1516.90,2003.08 L1518.86,2003.06 L1520.84,2003.00 L1522.84,2002.91 L1524.85,2002.78 L1526.87,2002.63 L1528.89,2002.45 L1530.91,2002.26 L1532.92,2002.05 L1534.93,2001.84 L1536.92,2001.62 L1538.89,2001.38 L1540.86,2001.08 L1542.82,2000.71 L1544.77,2000.29 L1546.72,1999.83 L1548.66,1999.33 L1550.60,1998.80 L1552.54,1998.25 L1554.48,1997.68 L1556.42,1997.10 L1558.35,1996.53 L1560.29,1995.96 L1562.23,1995.41 L1564.18,1994.88 L1566.12,1994.38 L1568.08,1993.91 L1570.03,1993.44 L1571.98,1992.96 L1573.93,1992.48 L1575.88,1992.00 L1577.84,1991.52 L1579.79,1991.04 L1581.74,1990.57 L1583.70,1990.11 L1585.66,1989.66 L1587.62,1989.23 L1589.58,1988.81 L1591.54,1988.42 L1593.51,1988.05 L1595.48,1987.70 L1597.46,1987.37 L1599.43,1987.06 L1601.41,1986.75 L1603.40,1986.44 L1605.38,1986.15 L1607.37,1985.86 L1609.36,1985.58 L1611.36,1985.31 L1613.35,1985.05 L1615.35,1984.81 L1617.34,1984.58 L1619.34,1984.37 L1621.34,1984.18 L1623.34,1984.01 L1625.34,1983.86 L1627.33,1983.73 L1629.33,1983.60 L1631.34,1983.47 L1633.34,1983.34 L1635.34,1983.22 L1637.35,1983.11 L1639.35,1983.00 L1641.36,1982.90 L1643.37,1982.81 L1645.37,1982.72 L1647.38,1982.65 L1649.39,1982.60 L1651.39,1982.56 L1653.40,1982.53 L1655.41,1982.52 L1657.41,1982.52 L1659.42,1982.52 L1661.42,1982.52 L1663.43,1982.52 L1665.44,1982.52 L1667.44,1982.52 L1669.45,1982.52 L1671.45,1982.52 L1673.46,1982.52 L1675.47,1982.52 L1677.47,1982.52 L1679.48,1982.52 L1681.49,1982.52 L1683.49,1982.52 L1685.50,1982.52 L1687.51,1982.52 L1689.51,1982.52 L1691.52,1982.52 L1693.53,1982.52 L1695.54,1982.52 L1697.54,1982.52 L1699.55,1982.52 L1701.56,1982.52 L1703.56,1982.52 L1705.57,1982.52 L1707.58,1982.52 L1709.58,1982.52 L1711.59,1982.52 L1713.60,1982.52 L1715.61,1982.52 L1717.61,1982.52 L1719.62,1982.52 L1721.63,1982.52 L1723.63,1982.52 L1725.64,1982.52 L1727.65,1982.52 L1729.66,1982.52 L1731.66,1982.52 L1733.67,1982.52 L1735.68,1982.52 L1737.68,1982.52 L1739.69,1982.52 L1741.70,1982.52 L1743.70,1982.51 L1745.71,1982.49 L1747.72,1982.48 L1749.72,1982.45 L1751.73,1982.43 L1753.74,1982.40 L1755.74,1982.36 L1757.75,1982.33 L1759.75,1982.29 L1761.76,1982.25 L1763.77,1982.21 L1765.77,1982.17 L1767.78,1982.13 L1769.79,1982.08 L1771.79,1982.04 L1773.80,1982.00 L1775.81,1981.96 L1777.81,1981.92 L1779.82,1981.88 L1781.83,1981.83 L1783.83,1981.78 L1785.84,1981.72 L1787.84,1981.66 L1789.85,1981.60 L1791.86,1981.53 L1793.86,1981.47 L1795.87,1981.41 L1797.87,1981.36 L1799.88,1981.32 L1801.89,1981.28 L1803.89,1981.26 L1805.90,1981.25 L1807.91,1981.25 L1809.91,1981.27 L1811.92,1981.29 L1813.92,1981.33 L1815.93,1981.37 L1817.94,1981.42 L1819.94,1981.48 L1821.95,1981.54 L1823.96,1981.60 L1825.96,1981.67 L1827.97,1981.73 L1829.97,1981.79 L1831.98,1981.85 L1833.99,1981.91 L1835.99,1981.96 L1838.00,1982.03 L1840.00,1982.09 L1842.01,1982.17 L1844.01,1982.24 L1846.02,1982.31 L1848.03,1982.39 L1850.03,1982.47 L1852.04,1982.54 L1854.04,1982.62 L1856.05,1982.69 L1858.05,1982.77 L1860.06,1982.83 L1862.06,1982.90 L1864.07,1982.96 L1866.08,1983.01 L1868.08,1983.06 L1870.09,1983.11 L1872.09,1983.14 L1874.10,1983.17 L1876.11,1983.19 L1878.11,1983.22 L1880.12,1983.24 L1882.13,1983.27 L1884.13,1983.29 L1886.14,1983.31 L1888.14,1983.34 L1890.15,1983.36 L1892.16,1983.38 L1894.16,1983.40 L1896.17,1983.42 L1898.18,1983.44 L1900.18,1983.46 L1902.19,1983.48 L1904.20,1983.50 L1906.20,1983.52 L1908.21,1983.54 L1910.22,1983.56 L1912.22,1983.57 L1914.23,1983.59 L1916.24,1983.61 L1918.24,1983.62 L1920.25,1983.64 L1922.26,1983.65 L1924.27,1983.66 L1926.27,1983.68 L1928.28,1983.69 L1930.29,1983.70 L1932.29,1983.71 L1934.30,1983.72 L1936.31,1983.73 L1938.31,1983.74 L1940.32,1983.75 L1942.33,1983.76 L1944.33,1983.77 L1946.34,1983.77 L1948.35,1983.78 L1950.35,1983.78 L1952.36,1983.79 L1954.37,1983.79 L1956.38,1983.80 L1958.38,1983.80 L1960.39,1983.80 L1962.40,1983.80 L1964.40,1983.80 L1966.41,1983.80 L1968.42,1983.80 L1970.42,1983.79 L1972.43,1983.79 L1974.44,1983.79 L1976.44,1983.78 L1978.45,1983.78 L1980.46,1983.77 L1982.46,1983.76 L1984.47,1983.76 L1986.48,1983.75 L1988.48,1983.74 L1990.49,1983.73 L1992.50,1983.72 L1994.50,1983.71 L1996.51,1983.70 L1998.52,1983.69 L2000.52,1983.68 L2002.53,1983.67 L2004.54,1983.66 L2006.54,1983.64 L2008.55,1983.63 L2010.56,1983.62 L2012.56,1983.60 L2014.57,1983.59 L2016.58,1983.58 L2018.58,1983.56 L2020.59,1983.55 L2022.60,1983.54 L2024.60,1983.52 L2026.61,1983.51 L2028.62,1983.49 L2030.62,1983.48 L2032.63,1983.46 L2034.64,1983.45 L2036.64,1983.44 L2038.65,1983.42 L2040.66,1983.41 L2042.66,1983.39 L2044.67,1983.38 L2046.68,1983.37 L2048.68,1983.35 L2050.69,1983.34 L2052.70,1983.33 L2054.70,1983.31 L2056.71,1983.30 L2058.72,1983.29 L2060.72,1983.28 L2062.73,1983.27 L2064.74,1983.26 L2066.74,1983.25 L2068.75,1983.24 L2070.76,1983.23 L2072.77,1983.22 L2074.77,1983.21 L2076.78,1983.20 L2078.79,1983.20 L2080.79,1983.19 L2082.80,1983.18 L2084.81,1983.18 L2086.81,1983.17 L2088.82,1983.17 L2090.83,1983.17 L2092.83,1983.16 L2094.84,1983.16 L2096.85,1983.16 L2098.85,1983.16 L2100.86,1983.16 L2102.87,1983.16 L2104.87,1983.16 L2106.88,1983.16 L2108.89,1983.16 L2110.89,1983.16 L2112.90,1983.16 L2114.91,1983.16 L2116.91,1983.16 L2118.92,1983.16 L2120.93,1983.16 L2122.93,1983.16 L2124.94,1983.16 L2126.95,1983.16 L2128.95,1983.16 L2130.96,1983.16 L2132.97,1983.16 L2134.97,1983.16 L2136.98,1983.16 L2138.99,1983.16 L2140.99,1983.16 L2143.00,1983.16 L2145.01,1983.16 L2147.01,1983.16 L2149.02,1983.16 L2151.03,1983.16 L2153.03,1983.16 L2155.04,1983.16 L2157.05,1983.16 L2159.06,1983.16 L2161.06,1983.16 L2163.07,1983.16 L2165.08,1983.16 L2167.08,1983.16 L2169.09,1983.16 L2171.10,1983.16 L2173.10,1983.16 L2175.11,1983.16 L2177.12,1983.16 L2179.12,1983.16 L2181.13,1983.16 L2183.14,1983.16 L2185.14,1983.16 L2187.15,1983.16 L2189.16,1983.16 L2191.16,1983.16 L2193.17,1983.16 L2195.18,1983.16 L2197.18,1983.17 L2199.19,1983.17 L2201.20,1983.17 L2203.20,1983.17 L2205.21,1983.18 L2207.22,1983.18 L2209.22,1983.18 L2211.23,1983.19 L2213.24,1983.19 L2215.24,1983.20 L2217.25,1983.20 L2219.26,1983.21 L2221.26,1983.21 L2223.27,1983.22 L2225.28,1983.23 L2227.28,1983.23 L2229.29,1983.24 L2231.30,1983.25 L2233.30,1983.26 L2235.31,1983.26 L2237.32,1983.27 L2239.32,1983.28 L2241.33,1983.29 L2243.34,1983.30 L2245.34,1983.31 L2247.35,1983.32 L2249.36,1983.33 L2251.36,1983.34 L2253.37,1983.35 L2255.38,1983.36 L2257.39,1983.37 L2259.39,1983.38 L2261.40,1983.39 L2263.41,1983.40 L2265.41,1983.41 L2267.42,1983.43 L2269.43,1983.44 L2271.43,1983.45 L2273.44,1983.46 L2275.45,1983.47 L2277.45,1983.49 L2279.46,1983.50 L2281.47,1983.51 L2283.47,1983.53 L2285.48,1983.54 L2287.49,1983.55 L2289.49,1983.57 L2291.50,1983.58 L2293.51,1983.59 L2295.51,1983.61 L2297.52,1983.62 L2299.53,1983.64 L2301.53,1983.65 L2303.54,1983.67 L2305.55,1983.68 L2307.55,1983.69 L2309.56,1983.71 L2311.57,1983.72 L2313.57,1983.74 L2315.58,1983.75 L2317.59,1983.77 L2319.59,1983.78 L2321.60,1983.80" fill="none" stroke="#0072BD" stroke-width="5.1" stroke-linejoin="round"/>
<path d="M1425.50,2212.00 L1425.73,2210.01 L1425.96,2208.02 L1426.19,2206.02 L1426.42,2204.03 L1426.64,2202.04 L1426.87,2200.05 L1427.10,2198.06 L1427.32,2196.06 L1427.54,2194.07 L1427.77,2192.08 L1427.99,2190.09 L1428.21,2188.10 L1428.43,2186.10 L1428.65,2184.11 L1428.87,2182.12 L1429.08,2180.12 L1429.29,2178.13 L1429.48,2176.13 L1429.67,2174.13 L1429.86,2172.13 L1430.04,2170.12 L1430.23,2168.12 L1430.41,2166.12 L1430.59,2164.12 L1430.78,2162.12 L1430.97,2160.12 L1431.16,2158.12 L1431.37,2156.12 L1431.58,2154.13 L1431.79,2152.14 L1432.02,2150.15 L1432.27,2148.16 L1432.52,2146.18 L1432.79,2144.21 L1433.08,2142.23 L1433.38,2140.27 L1433.73,2138.30 L1434.11,2136.35 L1434.53,2134.39 L1434.98,2132.44 L1435.45,2130.49 L1435.94,2128.54 L1436.46,2126.60 L1436.99,2124.66 L1437.53,2122.72 L1438.09,2120.78 L1438.64,2118.85 L1439.20,2116.91 L1439.76,2114.98 L1440.31,2113.05 L1440.85,2111.12 L1441.40,2109.20 L1441.95,2107.27 L1442.51,2105.34 L1443.09,2103.42 L1443.67,2101.50 L1444.26,2099.58 L1444.86,2097.66 L1445.48,2095.76 L1446.10,2093.85 L1446.75,2091.95 L1447.40,2090.06 L1448.07,2088.18 L1448.78,2086.30 L1449.53,2084.45 L1450.32,2082.60 L1451.13,2080.76 L1451.95,2078.92 L1452.76,2077.08 L1453.54,2075.23 L1454.29,2073.38 L1454.99,2071.51 L1455.64,2069.62 L1456.24,2067.72 L1456.83,2065.80 L1457.39,2063.88 L1457.93,2061.95 L1458.46,2060.02 L1458.98,2058.08 L1459.49,2056.13 L1459.99,2054.19 L1460.50,2052.25 L1461.02,2050.30 L1461.54,2048.37 L1462.08,2046.43 L1462.64,2044.51 L1463.20,2042.58 L1463.77,2040.66 L1464.34,2038.74 L1464.91,2036.81 L1465.49,2034.89 L1466.07,2032.97 L1466.66,2031.05 L1467.25,2029.14 L1467.85,2027.23 L1468.46,2025.32 L1469.09,2023.41 L1469.72,2021.51 L1470.36,2019.62 L1471.01,2017.72 L1471.67,2015.83 L1472.34,2013.93 L1473.02,2012.04 L1473.71,2010.16 L1474.40,2008.27 L1475.11,2006.39 L1475.84,2004.52 L1476.57,2002.66 L1477.32,2000.80 L1478.08,1998.95 L1478.86,1997.11 L1479.64,1995.26 L1480.43,1993.39 L1481.22,1991.50 L1482.02,1989.62 L1482.83,1987.73 L1483.66,1985.86 L1484.52,1984.00 L1485.40,1982.18 L1486.31,1980.38 L1487.26,1978.63 L1488.25,1976.93 L1489.29,1975.29 L1490.37,1973.71 L1491.53,1972.16 L1492.76,1970.58 L1494.07,1969.00 L1495.45,1967.43 L1496.90,1965.88 L1498.40,1964.39 L1499.94,1962.96 L1501.53,1961.62 L1503.15,1960.38 L1504.80,1959.26 L1506.47,1958.28 L1508.15,1957.47 L1509.87,1956.76 L1511.67,1956.05 L1513.53,1955.37 L1515.45,1954.71 L1517.41,1954.08 L1519.41,1953.50 L1521.43,1952.98 L1523.46,1952.53 L1525.49,1952.16 L1527.51,1951.88 L1529.51,1951.69 L1531.48,1951.62 L1533.42,1951.67 L1535.36,1951.85 L1537.31,1952.15 L1539.26,1952.55 L1541.21,1953.03 L1543.16,1953.58 L1545.10,1954.20 L1547.04,1954.86 L1548.98,1955.56 L1550.91,1956.27 L1552.83,1956.99 L1554.74,1957.70 L1556.64,1958.38 L1558.53,1959.04 L1560.40,1959.72 L1562.25,1960.45 L1564.10,1961.22 L1565.93,1962.03 L1567.76,1962.87 L1569.58,1963.73 L1571.40,1964.60 L1573.21,1965.47 L1575.03,1966.34 L1576.85,1967.20 L1578.68,1968.04 L1580.51,1968.85 L1582.36,1969.62 L1584.22,1970.35 L1586.09,1971.05 L1587.98,1971.73 L1589.86,1972.41 L1591.76,1973.08 L1593.66,1973.75 L1595.56,1974.40 L1597.47,1975.04 L1599.39,1975.66 L1601.31,1976.26 L1603.23,1976.83 L1605.16,1977.38 L1607.09,1977.90 L1609.03,1978.39 L1610.97,1978.84 L1612.92,1979.27 L1614.87,1979.68 L1616.83,1980.09 L1618.80,1980.48 L1620.77,1980.86 L1622.75,1981.23 L1624.72,1981.58 L1626.71,1981.92 L1628.69,1982.24 L1630.68,1982.55 L1632.67,1982.84 L1634.66,1983.11 L1636.65,1983.36 L1638.64,1983.59 L1640.63,1983.81 L1642.62,1984.01 L1644.61,1984.20 L1646.61,1984.39 L1648.60,1984.58 L1650.60,1984.75 L1652.60,1984.92 L1654.60,1985.08 L1656.60,1985.23 L1658.61,1985.38 L1660.61,1985.51 L1662.61,1985.63 L1664.61,1985.74 L1666.62,1985.83 L1668.62,1985.92 L1670.62,1985.99 L1672.62,1986.05 L1674.63,1986.11 L1676.63,1986.17 L1678.63,1986.22 L1680.64,1986.27 L1682.64,1986.32 L1684.65,1986.37 L1686.65,1986.41 L1688.65,1986.45 L1690.66,1986.49 L1692.66,1986.53 L1694.67,1986.56 L1696.67,1986.60 L1698.68,1986.63 L1700.69,1986.66 L1702.69,1986.69 L1704.70,1986.72 L1706.70,1986.75 L1708.71,1986.78 L1710.71,1986.81 L1712.72,1986.84 L1714.72,1986.87 L1716.72,1986.90 L1718.73,1986.93 L1720.73,1986.96 L1722.74,1986.99 L1724.74,1987.02 L1726.75,1987.05 L1728.75,1987.08 L1730.76,1987.11 L1732.76,1987.14 L1734.77,1987.17 L1736.77,1987.19 L1738.78,1987.22 L1740.78,1987.25 L1742.79,1987.28 L1744.79,1987.30 L1746.80,1987.33 L1748.80,1987.35 L1750.80,1987.37 L1752.81,1987.39 L1754.81,1987.41 L1756.82,1987.43 L1758.82,1987.45 L1760.83,1987.46 L1762.83,1987.47 L1764.84,1987.48 L1766.84,1987.49 L1768.85,1987.50 L1770.85,1987.50 L1772.86,1987.50 L1774.86,1987.50 L1776.87,1987.50 L1778.87,1987.50 L1780.88,1987.50 L1782.88,1987.49 L1784.89,1987.49 L1786.89,1987.48 L1788.90,1987.48 L1790.90,1987.47 L1792.91,1987.46 L1794.92,1987.45 L1796.92,1987.44 L1798.93,1987.43 L1800.93,1987.42 L1802.94,1987.41 L1804.94,1987.40 L1806.95,1987.38 L1808.96,1987.37 L1810.96,1987.35 L1812.97,1987.34 L1814.97,1987.32 L1816.98,1987.30 L1818.99,1987.28 L1820.99,1987.26 L1823.00,1987.24 L1825.00,1987.22 L1827.01,1987.20 L1829.02,1987.18 L1831.02,1987.15 L1833.03,1987.13 L1835.03,1987.11 L1837.04,1987.08 L1839.04,1987.05 L1841.05,1987.03 L1843.05,1987.00 L1845.06,1986.97 L1847.06,1986.94 L1849.07,1986.91 L1851.07,1986.88 L1853.07,1986.85 L1855.08,1986.82 L1857.08,1986.78 L1859.09,1986.75 L1861.09,1986.72 L1863.09,1986.68 L1865.09,1986.65 L1867.10,1986.61 L1869.10,1986.57 L1871.10,1986.54 L1873.10,1986.50 L1875.11,1986.46 L1877.11,1986.42 L1879.11,1986.38 L1881.11,1986.34 L1883.11,1986.28 L1885.11,1986.20 L1887.11,1986.11 L1889.11,1986.01 L1891.11,1985.89 L1893.11,1985.76 L1895.10,1985.61 L1897.10,1985.46 L1899.10,1985.29 L1901.10,1985.12 L1903.09,1984.94 L1905.09,1984.75 L1907.09,1984.55 L1909.08,1984.35 L1911.08,1984.15 L1913.08,1983.94 L1915.07,1983.73 L1917.07,1983.52 L1919.07,1983.30 L1921.06,1983.09 L1923.06,1982.88 L1925.06,1982.67 L1927.05,1982.47 L1929.05,1982.27 L1931.05,1982.08 L1933.05,1981.89 L1935.04,1981.71 L1937.04,1981.54 L1939.04,1981.38 L1941.04,1981.23 L1943.04,1981.07 L1945.04,1980.92 L1947.04,1980.75 L1949.04,1980.59 L1951.04,1980.41 L1953.04,1980.24 L1955.04,1980.07 L1957.04,1979.89 L1959.04,1979.71 L1961.04,1979.54 L1963.04,1979.37 L1965.04,1979.19 L1967.04,1979.02 L1969.04,1978.86 L1971.04,1978.70 L1973.04,1978.55 L1975.04,1978.40 L1977.04,1978.26 L1979.04,1978.12 L1981.04,1978.00 L1983.04,1977.89 L1985.04,1977.78 L1987.05,1977.69 L1989.05,1977.61 L1991.05,1977.54 L1993.05,1977.49 L1995.05,1977.45 L1997.05,1977.42 L1999.05,1977.42 L2001.06,1977.42 L2003.06,1977.43 L2005.06,1977.46 L2007.06,1977.49 L2009.07,1977.52 L2011.07,1977.57 L2013.07,1977.62 L2015.08,1977.68 L2017.08,1977.75 L2019.08,1977.82 L2021.09,1977.89 L2023.09,1977.98 L2025.09,1978.06 L2027.10,1978.15 L2029.10,1978.25 L2031.10,1978.34 L2033.11,1978.44 L2035.11,1978.55 L2037.12,1978.65 L2039.12,1978.76 L2041.12,1978.87 L2043.13,1978.98 L2045.13,1979.09 L2047.13,1979.20 L2049.14,1979.31 L2051.14,1979.42 L2053.14,1979.52 L2055.15,1979.63 L2057.15,1979.74 L2059.15,1979.84 L2061.15,1979.94 L2063.16,1980.04 L2065.16,1980.15 L2067.16,1980.26 L2069.16,1980.38 L2071.16,1980.50 L2073.16,1980.63 L2075.16,1980.76 L2077.16,1980.90 L2079.16,1981.04 L2081.17,1981.18 L2083.17,1981.33 L2085.17,1981.48 L2087.17,1981.63 L2089.17,1981.78 L2091.17,1981.94 L2093.17,1982.09 L2095.17,1982.25 L2097.17,1982.40 L2099.17,1982.56 L2101.17,1982.71 L2103.17,1982.87 L2105.17,1983.02 L2107.17,1983.17 L2109.17,1983.32 L2111.17,1983.46 L2113.17,1983.60 L2115.17,1983.74 L2117.17,1983.88 L2119.17,1984.01 L2121.17,1984.13 L2123.17,1984.25 L2125.17,1984.37 L2127.17,1984.48 L2129.17,1984.58 L2131.18,1984.68 L2133.18,1984.77 L2135.18,1984.85 L2137.18,1984.92 L2139.18,1984.99 L2141.19,1985.05 L2143.19,1985.10 L2145.19,1985.14 L2147.19,1985.19 L2149.20,1985.23 L2151.20,1985.27 L2153.20,1985.31 L2155.21,1985.35 L2157.21,1985.38 L2159.21,1985.42 L2161.22,1985.45 L2163.22,1985.49 L2165.23,1985.52 L2167.23,1985.55 L2169.24,1985.58 L2171.24,1985.61 L2173.25,1985.64 L2175.25,1985.67 L2177.25,1985.69 L2179.26,1985.72 L2181.26,1985.75 L2183.27,1985.77 L2185.27,1985.80 L2187.28,1985.82 L2189.28,1985.84 L2191.29,1985.87 L2193.30,1985.89 L2195.30,1985.91 L2197.31,1985.94 L2199.31,1985.96 L2201.32,1985.98 L2203.32,1986.00 L2205.33,1986.03 L2207.33,1986.05 L2209.34,1986.07 L2211.34,1986.09 L2213.35,1986.12 L2215.35,1986.14 L2217.36,1986.16 L2219.36,1986.19 L2221.37,1986.21 L2223.37,1986.24 L2225.38,1986.26 L2227.38,1986.29 L2229.39,1986.32 L2231.39,1986.35 L2233.40,1986.37 L2235.40,1986.40 L2237.41,1986.43 L2239.41,1986.46 L2241.42,1986.49 L2243.42,1986.52 L2245.42,1986.55 L2247.43,1986.57 L2249.43,1986.60 L2251.44,1986.63 L2253.44,1986.66 L2255.45,1986.69 L2257.45,1986.72 L2259.46,1986.75 L2261.46,1986.77 L2263.47,1986.80 L2265.47,1986.83 L2267.48,1986.86 L2269.48,1986.89 L2271.48,1986.92 L2273.49,1986.95 L2275.49,1986.97 L2277.50,1987.00 L2279.50,1987.03 L2281.51,1987.06 L2283.51,1987.09 L2285.52,1987.12 L2287.52,1987.15 L2289.53,1987.17 L2291.53,1987.20 L2293.54,1987.23 L2295.54,1987.26 L2297.54,1987.29 L2299.55,1987.32 L2301.55,1987.35 L2303.56,1987.37 L2305.56,1987.40 L2307.57,1987.43 L2309.57,1987.46 L2311.58,1987.49 L2313.58,1987.52 L2315.59,1987.55 L2317.59,1987.57 L2319.60,1987.60 L2321.60,1987.63" fill="none" stroke="#007F00" stroke-width="5.1" stroke-linejoin="round" stroke-dasharray="15,12"/>
<text transform="translate(1825.54,2371.50) scale(1.1350,1)" style="font-family:'Liberation Sans', sans-serif;font-size:52.5px" fill="#262626">t [s]</text>
<text transform="translate(1313.50,2126.85) scale(1.1100,1) rotate(-90) scale(1.1600,1)" style="font-family:'Liberation Serif', serif;font-size:57.7px" fill="#262626">Δ</text>
<text transform="translate(1313.50,2089.25) scale(1.1100,1) rotate(-90) scale(1.0000,1)" style="font-family:'Liberation Serif', serif;font-size:54px;font-style:italic" fill="#262626" stroke="#fff" stroke-width="1.10">ξ</text>
<text transform="translate(1342.36,2059.56) scale(1.1100,1) rotate(-90) scale(1.0000,1)" style="font-family:'Liberation Sans', sans-serif;font-size:41.5px" fill="#262626">1</text>
<text transform="translate(1313.50,2044.56) scale(1.1100,1) rotate(-90) scale(1.0000,1)" style="font-family:'Liberation Sans', sans-serif;font-size:53.0px" fill="#262626">,</text>
<text transform="translate(1313.50,2013.75) scale(1.1100,1) rotate(-90) scale(1.1600,1)" style="font-family:'Liberation Serif', serif;font-size:57.7px" fill="#262626">Δ</text>
<text transform="translate(1313.50,1968.65) scale(1.1100,1) rotate(-90) scale(1.0000,1)" style="font-family:'Liberation Serif', serif;font-size:54px;font-style:italic" fill="#262626" stroke="#fff" stroke-width="1.10">ξ</text>
<text transform="translate(1342.36,1946.59) scale(1.1100,1) rotate(-90) scale(1.0000,1)" style="font-family:'Liberation Sans', sans-serif;font-size:41.5px" fill="#262626">2</text>
<text transform="translate(1313.50,1906.58) scale(1.1100,1) rotate(-90) scale(1.0000,1)" style="font-family:'Liberation Sans', sans-serif;font-size:53.0px" fill="#262626">[m]</text>
<text transform="translate(1800.60,2481.70) scale(0.9000,1)" style="font-family:'Liberation Serif', serif;font-size:86.0px" fill="#000">(</text>
<text transform="translate(1859.83,2481.70) scale(0.9000,1)" style="font-family:'Liberation Serif', serif;font-size:86.0px" fill="#000">)</text>
<text transform="translate(1829.26,2481.70) scale(1.0363,1)" style="font-family:'Liberation Serif', serif;font-size:84.0px;font-weight:bold" fill="#000">f</text>
<rect x="269.50" y="2562.60" width="850.10" height="510.60" fill="none" stroke="#262626" stroke-width="1.1"/>
<line x1="269.50" y1="3073.20" x2="269.50" y2="3064.20" stroke="#262626" stroke-width="1.0"/>
<line x1="269.50" y1="2562.60" x2="269.50" y2="2571.60" stroke="#262626" stroke-width="1.0"/>
<text transform="translate(254.47,3136.30) scale(1.0940,1)" style="font-family:'Liberation Sans', sans-serif;font-size:49.4px" fill="#262626">0</text>
<line x1="482.02" y1="3073.20" x2="482.02" y2="3064.20" stroke="#262626" stroke-width="1.0"/>
<line x1="482.02" y1="2562.60" x2="482.02" y2="2571.60" stroke="#262626" stroke-width="1.0"/>
<text transform="translate(451.97,3136.30) scale(1.0940,1)" style="font-family:'Liberation Sans', sans-serif;font-size:49.4px" fill="#262626">50</text>
<line x1="694.55" y1="3073.20" x2="694.55" y2="3064.20" stroke="#262626" stroke-width="1.0"/>
<line x1="694.55" y1="2562.60" x2="694.55" y2="2571.60" stroke="#262626" stroke-width="1.0"/>
<text transform="translate(649.47,3136.30) scale(1.0940,1)" style="font-family:'Liberation Sans', sans-serif;font-size:49.4px" fill="#262626">100</text>
<line x1="907.07" y1="3073.20" x2="907.07" y2="3064.20" stroke="#262626" stroke-width="1.0"/>
<line x1="907.07" y1="2562.60" x2="907.07" y2="2571.60" stroke="#262626" stroke-width="1.0"/>
<text transform="translate(861.99,3136.30) scale(1.0940,1)" style="font-family:'Liberation Sans', sans-serif;font-size:49.4px" fill="#262626">150</text>
<line x1="1119.60" y1="3073.20" x2="1119.60" y2="3064.20" stroke="#262626" stroke-width="1.0"/>
<line x1="1119.60" y1="2562.60" x2="1119.60" y2="2571.60" stroke="#262626" stroke-width="1.0"/>
<text transform="translate(1074.52,3136.30) scale(1.0940,1)" style="font-family:'Liberation Sans', sans-serif;font-size:49.4px" fill="#262626">200</text>
<line x1="269.50" y1="3073.20" x2="278.50" y2="3073.20" stroke="#262626" stroke-width="1.0"/>
<line x1="1119.60" y1="3073.20" x2="1110.60" y2="3073.20" stroke="#262626" stroke-width="1.0"/>
<text transform="translate(161.08,3092.70) scale(1.0940,1)" style="font-family:'Liberation Sans', sans-serif;font-size:49.4px" fill="#262626">-0.5</text>
<line x1="269.50" y1="2903.00" x2="278.50" y2="2903.00" stroke="#262626" stroke-width="1.0"/>
<line x1="1119.60" y1="2903.00" x2="1110.60" y2="2903.00" stroke="#262626" stroke-width="1.0"/>
<text transform="translate(224.14,2922.50) scale(1.0940,1)" style="font-family:'Liberation Sans', sans-serif;font-size:49.4px" fill="#262626">0</text>
<line x1="269.50" y1="2732.80" x2="278.50" y2="2732.80" stroke="#262626" stroke-width="1.0"/>
<line x1="1119.60" y1="2732.80" x2="1110.60" y2="2732.80" stroke="#262626" stroke-width="1.0"/>
<text transform="translate(179.07,2752.30) scale(1.0940,1)" style="font-family:'Liberation Sans', sans-serif;font-size:49.4px" fill="#262626">0.5</text>
<line x1="269.50" y1="2562.60" x2="278.50" y2="2562.60" stroke="#262626" stroke-width="1.0"/>
<line x1="1119.60" y1="2562.60" x2="1110.60" y2="2562.60" stroke="#262626" stroke-width="1.0"/>
<text transform="translate(224.14,2582.10) scale(1.0940,1)" style="font-family:'Liberation Sans', sans-serif;font-size:49.4px" fill="#262626">1</text>
<path d="M269.50,2887.68 L269.59,3040.86 L270.78,2943.85 L271.60,2946.90 L272.50,2949.07 L273.46,2950.33 L274.49,2950.63 L275.62,2949.66 L276.83,2947.79 L278.08,2945.68 L279.29,2943.93 L280.45,2942.22 L281.61,2940.50 L282.84,2938.90 L284.18,2937.54 L285.72,2936.46 L287.47,2935.53 L289.34,2934.70 L291.25,2933.89 L293.11,2933.05 L294.92,2932.17 L296.73,2931.30 L298.54,2930.44 L300.35,2929.57 L302.14,2928.67 L303.91,2927.75 L305.66,2926.77 L307.38,2925.75 L309.08,2924.69 L310.77,2923.60 L312.44,2922.49 L314.12,2921.38 L315.80,2920.28 L317.48,2919.19 L319.19,2918.13 L320.91,2917.11 L322.65,2916.13 L324.41,2915.18 L326.19,2914.23 L327.97,2913.31 L329.76,2912.40 L331.56,2911.51 L333.38,2910.65 L335.20,2909.81 L337.02,2909.00 L338.86,2908.19 L340.70,2907.37 L342.56,2906.53 L344.42,2905.72 L346.29,2904.95 L348.18,2904.25 L350.08,2903.65 L351.99,2903.16 L353.93,2902.80 L355.88,2902.49 L357.86,2902.22 L359.85,2901.98 L361.86,2901.75 L363.87,2901.55 L365.88,2901.36 L367.89,2901.17 L369.89,2900.99 L371.88,2900.80 L373.88,2900.60 L375.88,2900.39 L377.88,2900.18 L379.87,2899.98 L381.87,2899.79 L383.87,2899.63 L385.87,2899.48 L387.87,2899.37 L389.88,2899.29 L391.88,2899.26 L393.88,2899.26 L395.88,2899.28 L397.88,2899.32 L399.89,2899.38 L401.89,2899.44 L403.90,2899.51 L405.90,2899.59 L407.91,2899.67 L409.91,2899.76 L411.92,2899.84 L413.92,2899.92 L415.92,2899.99 L417.93,2900.07 L419.93,2900.16 L421.93,2900.25 L423.93,2900.35 L425.94,2900.44 L427.94,2900.54 L429.94,2900.64 L431.95,2900.74 L433.95,2900.84 L435.95,2900.93 L437.95,2901.02 L439.96,2901.12 L441.96,2901.22 L443.96,2901.32 L445.96,2901.43 L447.97,2901.53 L449.97,2901.62 L451.97,2901.72 L453.98,2901.80 L455.98,2901.89 L457.98,2901.96 L459.99,2902.02 L461.99,2902.09 L463.99,2902.15 L466.00,2902.22 L468.00,2902.28 L470.00,2902.34 L472.01,2902.41 L474.01,2902.47 L476.02,2902.53 L478.02,2902.59 L480.03,2902.64 L482.03,2902.69 L484.04,2902.74 L486.04,2902.79 L488.05,2902.83 L490.05,2902.87 L492.05,2902.91 L494.06,2902.94 L496.06,2902.96 L498.07,2902.98 L500.07,2902.99 L502.08,2903.00 L504.08,2903.00 L506.09,2903.00 L508.09,2903.00 L510.10,2903.00 L512.10,2903.00 L514.11,2903.00 L516.11,2903.00 L518.12,2903.00 L520.12,2903.00 L522.12,2903.00 L524.13,2903.00 L526.13,2903.00 L528.14,2903.00 L530.14,2903.00 L532.15,2903.00 L534.15,2903.00 L536.16,2903.00 L538.16,2903.00 L540.17,2903.00 L542.17,2903.00 L544.18,2903.00 L546.18,2903.00 L548.18,2903.00 L550.19,2903.00 L552.19,2903.00 L554.20,2903.00 L556.20,2903.00 L558.21,2903.00 L560.21,2903.00 L562.22,2903.00 L564.22,2903.00 L566.23,2903.00 L568.23,2903.00 L570.24,2903.00 L572.24,2903.00 L574.24,2903.00 L576.25,2903.00 L578.25,2903.00 L580.26,2903.00 L582.26,2903.00 L584.27,2903.00 L586.27,2903.00 L588.28,2903.00 L590.28,2903.00 L592.29,2903.00 L594.29,2903.00 L596.30,2903.00 L598.30,2903.00 L600.31,2903.00 L602.31,2903.00 L604.31,2903.00 L606.32,2903.00 L608.32,2903.00 L610.33,2903.00 L612.33,2903.00 L614.34,2903.00 L616.34,2903.00 L618.35,2903.00 L620.35,2903.00 L622.36,2903.00 L624.36,2903.00 L626.37,2903.00 L628.37,2903.00 L630.38,2903.00 L632.38,2903.00 L634.39,2903.00 L636.39,2903.00 L638.39,2903.00 L640.40,2903.00 L642.40,2903.00 L644.41,2903.00 L646.41,2903.00 L648.42,2903.00 L650.42,2903.00 L652.43,2903.00 L654.43,2903.00 L656.44,2903.00 L658.44,2903.00 L660.45,2903.00 L662.45,2903.00 L664.46,2903.00 L666.46,2903.00 L668.47,2903.00 L670.47,2903.00 L672.47,2903.00 L674.48,2903.00 L676.48,2903.00 L678.49,2903.00 L680.49,2903.00 L682.50,2903.00 L684.50,2903.00 L686.51,2903.00 L688.51,2903.00 L690.52,2903.00 L692.52,2903.00 L694.53,2903.00 L696.53,2903.00 L698.54,2903.00 L700.54,2903.00 L702.55,2903.00 L704.55,2903.00 L706.56,2903.00 L708.56,2903.00 L710.57,2903.00 L712.57,2903.00 L714.57,2903.00 L716.58,2903.00 L718.58,2903.00 L720.59,2903.00 L722.59,2903.00 L724.60,2903.00 L726.60,2903.00 L728.61,2903.00 L730.61,2903.00 L732.62,2903.00 L734.62,2903.00 L736.63,2903.00 L738.63,2903.00 L740.64,2903.00 L742.64,2903.00 L744.65,2903.00 L746.65,2903.00 L748.66,2903.00 L750.66,2903.00 L752.67,2903.00 L754.67,2903.00 L756.68,2903.00 L758.68,2903.00 L760.69,2903.00 L762.69,2903.00 L764.70,2903.00 L766.70,2903.00 L768.70,2903.00 L770.71,2903.00 L772.71,2903.00 L774.72,2903.00 L776.72,2903.00 L778.73,2903.00 L780.73,2903.00 L782.74,2903.00 L784.74,2903.00 L786.75,2903.00 L788.75,2903.00 L790.76,2903.00 L792.76,2903.00 L794.77,2903.00 L796.77,2903.00 L798.78,2903.00 L800.78,2903.00 L802.79,2903.00 L804.79,2903.00 L806.80,2903.00 L808.80,2903.00 L810.81,2903.00 L812.81,2903.00 L814.82,2903.00 L816.82,2903.00 L818.83,2903.00 L820.83,2903.00 L822.84,2903.00 L824.84,2903.00 L826.85,2903.00 L828.85,2903.00 L830.86,2903.00 L832.86,2903.00 L834.87,2903.00 L836.87,2903.00 L838.88,2903.00 L840.88,2903.00 L842.89,2903.00 L844.89,2903.00 L846.90,2903.00 L848.90,2903.00 L850.91,2903.00 L852.91,2903.00 L854.92,2903.00 L856.92,2903.00 L858.93,2903.00 L860.93,2903.00 L862.94,2903.00 L864.94,2903.00 L866.95,2903.00 L868.95,2903.00 L870.96,2903.00 L872.96,2903.00 L874.97,2903.00 L876.97,2903.00 L878.98,2903.00 L880.98,2903.00 L882.99,2903.00 L884.99,2903.00 L887.00,2903.00 L889.00,2903.00 L891.01,2903.00 L893.01,2903.00 L895.02,2903.00 L897.02,2903.00 L899.03,2903.00 L901.03,2903.00 L903.04,2903.00 L905.04,2903.00 L907.05,2903.00 L909.05,2903.00 L911.06,2903.00 L913.06,2903.00 L915.07,2903.00 L917.07,2903.00 L919.08,2903.00 L921.08,2903.00 L923.09,2903.00 L925.09,2903.00 L927.10,2903.00 L929.10,2903.00 L931.11,2903.00 L933.11,2903.00 L935.12,2903.00 L937.12,2903.00 L939.13,2903.00 L941.13,2903.00 L943.14,2903.00 L945.14,2903.00 L947.15,2903.00 L949.15,2903.00 L951.16,2903.00 L953.16,2903.00 L955.17,2903.00 L957.17,2903.00 L959.18,2903.00 L961.18,2903.00 L963.19,2903.00 L965.19,2903.00 L967.20,2903.00 L969.20,2903.00 L971.21,2903.00 L973.21,2903.00 L975.22,2903.00 L977.22,2903.00 L979.23,2903.00 L981.23,2903.00 L983.24,2903.00 L985.25,2903.00 L987.25,2903.00 L989.26,2903.00 L991.26,2903.00 L993.27,2903.00 L995.27,2903.00 L997.28,2903.00 L999.28,2903.00 L1001.29,2903.00 L1003.29,2903.00 L1005.30,2903.00 L1007.30,2903.00 L1009.31,2903.00 L1011.31,2903.00 L1013.32,2903.00 L1015.32,2903.00 L1017.33,2903.00 L1019.33,2903.00 L1021.34,2903.00 L1023.34,2903.00 L1025.35,2903.00 L1027.35,2903.00 L1029.36,2903.00 L1031.36,2903.00 L1033.37,2903.00 L1035.38,2903.00 L1037.38,2903.00 L1039.39,2903.00 L1041.39,2903.00 L1043.40,2903.00 L1045.40,2903.00 L1047.41,2903.00 L1049.41,2903.00 L1051.42,2903.00 L1053.42,2903.00 L1055.43,2903.00 L1057.43,2903.00 L1059.44,2903.00 L1061.44,2903.00 L1063.45,2903.00 L1065.45,2903.00 L1067.46,2903.00 L1069.47,2903.00 L1071.47,2903.00 L1073.48,2903.00 L1075.48,2903.00 L1077.49,2903.00 L1079.49,2903.00 L1081.50,2903.00 L1083.50,2903.00 L1085.51,2903.00 L1087.51,2903.00 L1089.52,2903.00 L1091.52,2903.00 L1093.53,2903.00 L1095.54,2903.00 L1097.54,2903.00 L1099.55,2903.00 L1101.55,2903.00 L1103.56,2903.00 L1105.56,2903.00 L1107.57,2903.00 L1109.57,2903.00 L1111.58,2903.00 L1113.58,2903.00 L1115.59,2903.00 L1117.59,2903.00 L1119.60,2903.00" fill="none" stroke="#0072BD" stroke-width="5.1" stroke-linejoin="round"/>
<path d="M269.50,2937.04 L269.71,2776.03 L269.73,2778.05 L269.76,2780.06 L269.82,2782.08 L269.90,2784.09 L270.00,2786.10 L270.12,2788.10 L270.24,2790.11 L270.38,2792.11 L270.52,2794.11 L270.67,2796.10 L270.83,2798.09 L271.02,2800.08 L271.27,2802.07 L271.56,2804.05 L271.88,2806.03 L272.24,2808.01 L272.62,2809.99 L273.03,2811.96 L273.44,2813.93 L273.87,2815.91 L274.30,2817.88 L274.72,2819.85 L275.14,2821.81 L275.54,2823.78 L275.93,2825.76 L276.31,2827.74 L276.70,2829.73 L277.08,2831.71 L277.48,2833.70 L277.89,2835.68 L278.31,2837.66 L278.75,2839.62 L279.22,2841.57 L279.72,2843.51 L280.24,2845.42 L280.81,2847.32 L281.41,2849.26 L282.05,2851.44 L282.74,2853.76 L283.48,2856.16 L284.27,2858.53 L285.12,2860.80 L286.04,2862.88 L287.02,2864.69 L288.08,2866.13 L289.21,2867.12 L290.43,2867.58 L291.84,2867.49 L293.64,2867.09 L295.71,2866.55 L297.90,2866.01 L300.06,2865.64 L302.09,2865.57 L304.13,2865.71 L306.20,2865.99 L308.25,2866.39 L310.23,2866.85 L312.08,2867.36 L313.77,2867.94 L315.36,2868.79 L316.86,2869.90 L318.29,2871.23 L319.67,2872.72 L321.01,2874.34 L322.33,2876.04 L323.65,2877.78 L324.99,2879.50 L326.35,2881.16 L327.75,2882.72 L329.22,2884.13 L330.77,2885.34 L332.38,2886.43 L334.04,2887.48 L335.75,2888.50 L337.49,2889.49 L339.26,2890.45 L341.07,2891.38 L342.89,2892.28 L344.74,2893.15 L346.59,2894.00 L348.46,2894.83 L350.32,2895.64 L352.19,2896.42 L354.05,2897.19 L355.90,2897.95 L357.75,2898.74 L359.62,2899.55 L361.49,2900.37 L363.37,2901.19 L365.27,2902.00 L367.16,2902.77 L369.07,2903.51 L370.99,2904.20 L372.91,2904.81 L374.84,2905.35 L376.77,2905.80 L378.71,2906.14 L380.66,2906.36 L382.62,2906.48 L384.59,2906.59 L386.57,2906.70 L388.55,2906.79 L390.55,2906.89 L392.56,2906.97 L394.57,2907.05 L396.59,2907.12 L398.61,2907.19 L400.63,2907.24 L402.66,2907.29 L404.68,2907.34 L406.71,2907.37 L408.73,2907.40 L410.75,2907.41 L412.76,2907.42 L414.77,2907.42 L416.78,2907.41 L418.79,2907.40 L420.80,2907.37 L422.81,2907.33 L424.82,2907.28 L426.83,2907.23 L428.83,2907.17 L430.84,2907.10 L432.85,2907.03 L434.86,2906.95 L436.87,2906.87 L438.87,2906.78 L440.88,2906.69 L442.89,2906.60 L444.89,2906.51 L446.90,2906.42 L448.90,2906.31 L450.90,2906.16 L452.90,2905.97 L454.90,2905.76 L456.90,2905.52 L458.90,2905.27 L460.90,2905.00 L462.89,2904.73 L464.89,2904.46 L466.89,2904.19 L468.88,2903.94 L470.88,2903.71 L472.88,2903.50 L474.88,2903.32 L476.88,2903.17 L478.88,2903.07 L480.88,2903.01 L482.88,2903.00 L484.88,2903.00 L486.89,2903.00 L488.89,2903.00 L490.89,2903.00 L492.89,2903.00 L494.90,2903.00 L496.90,2903.00 L498.90,2903.00 L500.90,2903.00 L502.91,2903.00 L504.91,2903.00 L506.91,2903.00 L508.91,2903.00 L510.92,2903.00 L512.92,2903.00 L514.92,2903.00 L516.92,2903.00 L518.93,2903.00 L520.93,2903.00 L522.93,2903.00 L524.94,2903.00 L526.94,2903.00 L528.94,2903.00 L530.95,2903.00 L532.95,2903.00 L534.95,2903.00 L536.95,2903.00 L538.96,2903.00 L540.96,2903.00 L542.96,2903.00 L544.97,2903.00 L546.97,2903.00 L548.97,2903.00 L550.98,2903.00 L552.98,2903.00 L554.98,2903.00 L556.99,2903.00 L558.99,2903.00 L560.99,2903.00 L563.00,2903.00 L565.00,2903.00 L567.00,2903.00 L569.01,2903.00 L571.01,2903.00 L573.01,2903.00 L575.02,2903.00 L577.02,2903.00 L579.02,2903.00 L581.03,2903.00 L583.03,2903.00 L585.03,2903.00 L587.04,2903.00 L589.04,2903.00 L591.05,2903.00 L593.05,2903.00 L595.05,2903.00 L597.06,2903.00 L599.06,2903.00 L601.06,2903.00 L603.07,2903.00 L605.07,2903.00 L607.08,2903.00 L609.08,2903.00 L611.09,2903.00 L613.09,2903.00 L615.09,2903.00 L617.10,2903.00 L619.10,2903.00 L621.11,2903.00 L623.11,2903.00 L625.11,2903.00 L627.12,2903.00 L629.12,2903.00 L631.13,2903.00 L633.13,2903.00 L635.14,2903.00 L637.14,2903.00 L639.15,2903.00 L641.15,2903.00 L643.15,2903.00 L645.16,2903.00 L647.16,2903.00 L649.17,2903.00 L651.17,2903.00 L653.18,2903.00 L655.18,2903.00 L657.19,2903.00 L659.19,2903.00 L661.20,2903.00 L663.20,2903.00 L665.21,2903.00 L667.21,2903.00 L669.22,2903.00 L671.22,2903.00 L673.23,2903.00 L675.23,2903.00 L677.24,2903.00 L679.24,2903.00 L681.25,2903.00 L683.25,2903.00 L685.26,2903.00 L687.27,2903.00 L689.27,2903.00 L691.28,2903.00 L693.28,2903.00 L695.29,2903.00 L697.29,2903.00 L699.30,2903.00 L701.30,2903.00 L703.31,2903.00 L705.32,2903.00 L707.32,2903.00 L709.33,2903.00 L711.33,2903.00 L713.34,2903.00 L715.35,2903.00 L717.35,2903.00 L719.36,2903.00 L721.36,2903.00 L723.37,2903.00 L725.38,2903.00 L727.38,2903.00 L729.39,2903.00 L731.39,2903.00 L733.40,2903.00 L735.41,2903.00 L737.41,2903.00 L739.42,2903.00 L741.43,2903.00 L743.43,2903.00 L745.44,2903.00 L747.45,2903.00 L749.45,2903.00 L751.46,2903.00 L753.47,2903.00 L755.47,2903.00 L757.48,2903.00 L759.49,2903.00 L761.49,2903.00 L763.50,2903.00 L765.51,2903.00 L767.52,2903.00 L769.52,2903.00 L771.53,2903.00 L773.54,2903.00 L775.54,2903.00 L777.55,2903.00 L779.56,2903.00 L781.57,2903.00 L783.57,2903.00 L785.58,2903.00 L787.59,2903.00 L789.60,2903.00 L791.60,2903.00 L793.61,2903.00 L795.62,2903.00 L797.63,2903.00 L799.63,2903.00 L801.64,2903.00 L803.65,2903.00 L805.66,2903.00 L807.67,2903.00 L809.67,2903.00 L811.68,2903.00 L813.69,2903.00 L815.70,2903.00 L817.71,2903.00 L819.72,2903.00 L821.72,2903.00 L823.73,2903.00 L825.74,2903.00 L827.75,2903.00 L829.76,2903.00 L831.77,2903.00 L833.78,2903.00 L835.78,2903.00 L837.79,2903.00 L839.80,2903.00 L841.81,2903.00 L843.82,2903.00 L845.83,2903.00 L847.84,2903.00 L849.85,2903.00 L851.86,2903.00 L853.86,2903.00 L855.87,2903.00 L857.88,2903.00 L859.89,2903.00 L861.90,2903.00 L863.91,2903.00 L865.92,2903.00 L867.93,2903.00 L869.94,2903.00 L871.95,2903.00 L873.96,2903.00 L875.97,2903.00 L877.98,2903.00 L879.99,2903.00 L882.00,2903.00 L884.01,2903.00 L886.02,2903.00 L888.03,2903.00 L890.04,2903.00 L892.05,2903.00 L894.06,2903.00 L896.07,2903.00 L898.08,2903.00 L900.09,2903.00 L902.10,2903.00 L904.11,2903.00 L906.12,2903.00 L908.13,2903.00 L910.14,2903.00 L912.15,2903.00 L914.16,2903.00 L916.18,2903.00 L918.19,2903.00 L920.20,2903.00 L922.21,2903.00 L924.22,2903.00 L926.23,2903.00 L928.24,2903.00 L930.25,2903.00 L932.26,2903.00 L934.28,2903.00 L936.29,2903.00 L938.30,2903.00 L940.31,2903.00 L942.32,2903.00 L944.33,2903.00 L946.35,2903.00 L948.36,2903.00 L950.37,2903.00 L952.38,2903.00 L954.39,2903.00 L956.41,2903.00 L958.42,2903.00 L960.43,2903.00 L962.44,2903.00 L964.45,2903.00 L966.47,2903.00 L968.48,2903.00 L970.49,2903.00 L972.50,2903.00 L974.52,2903.00 L976.53,2903.00 L978.54,2903.00 L980.56,2903.00 L982.57,2903.00 L984.58,2903.00 L986.59,2903.00 L988.61,2903.00 L990.62,2903.00 L992.63,2903.00 L994.65,2903.00 L996.66,2903.00 L998.67,2903.00 L1000.69,2903.00 L1002.70,2903.00 L1004.71,2903.00 L1006.73,2903.00 L1008.74,2903.00 L1010.75,2903.00 L1012.77,2903.00 L1014.78,2903.00 L1016.80,2903.00 L1018.81,2903.00 L1020.82,2903.00 L1022.84,2903.00 L1024.85,2903.00 L1026.87,2903.00 L1028.88,2903.00 L1030.90,2903.00 L1032.91,2903.00 L1034.93,2903.00 L1036.94,2903.00 L1038.95,2903.00 L1040.97,2903.00 L1042.98,2903.00 L1045.00,2903.00 L1047.01,2903.00 L1049.03,2903.00 L1051.04,2903.00 L1053.06,2903.00 L1055.07,2903.00 L1057.09,2903.00 L1059.11,2903.00 L1061.12,2903.00 L1063.14,2903.00 L1065.15,2903.00 L1067.17,2903.00 L1069.18,2903.00 L1071.20,2903.00 L1073.21,2903.00 L1075.23,2903.00 L1077.25,2903.00 L1079.26,2903.00 L1081.28,2903.00 L1083.30,2903.00 L1085.31,2903.00 L1087.33,2903.00 L1089.34,2903.00 L1091.36,2903.00 L1093.38,2903.00 L1095.39,2903.00 L1097.41,2903.00 L1099.43,2903.00 L1101.44,2903.00 L1103.46,2903.00 L1105.48,2903.00 L1107.50,2903.00 L1109.51,2903.00 L1111.53,2903.00 L1113.55,2903.00 L1115.56,2903.00 L1117.58,2903.00 L1119.60,2903.00" fill="none" stroke="#007F00" stroke-width="5.1" stroke-linejoin="round" stroke-dasharray="15,12"/>
<text transform="translate(646.54,3205.50) scale(1.1350,1)" style="font-family:'Liberation Sans', sans-serif;font-size:52.5px" fill="#262626">t [s]</text>
<text transform="translate(110.80,2989.00) scale(1.1100,1) rotate(-90) scale(1.1600,1)" style="font-family:'Liberation Serif', serif;font-size:57.7px" fill="#262626">Δ</text>
<text transform="translate(110.80,2950.30) scale(1.1100,1) rotate(-90) scale(1.0000,1)" style="font-family:'Liberation Serif', serif;font-size:54px;font-style:italic" fill="#262626" stroke="#fff" stroke-width="1.10">ξ</text>
<text transform="translate(139.66,2918.03) scale(1.1100,1) rotate(-90) scale(1.0000,1)" style="font-family:'Liberation Sans', sans-serif;font-size:41.5px" fill="#262626">3</text>
<text transform="translate(110.80,2898.29) scale(1.1100,1) rotate(-90) scale(1.0000,1)" style="font-family:'Liberation Sans', sans-serif;font-size:53.0px" fill="#262626">.</text>
<text transform="translate(110.80,2865.30) scale(1.1100,1) rotate(-90) scale(1.1600,1)" style="font-family:'Liberation Serif', serif;font-size:57.7px" fill="#262626">Δ</text>
<text transform="translate(110.80,2824.10) scale(1.1100,1) rotate(-90) scale(1.0000,1)" style="font-family:'Liberation Serif', serif;font-size:54px;font-style:italic" fill="#262626" stroke="#fff" stroke-width="1.10">ξ</text>
<text transform="translate(139.66,2797.00) scale(1.1100,1) rotate(-90) scale(1.0000,1)" style="font-family:'Liberation Sans', sans-serif;font-size:41.5px" fill="#262626">4</text>
<text transform="translate(110.80,2759.33) scale(1.1100,1) rotate(-90) scale(1.0000,1)" style="font-family:'Liberation Sans', sans-serif;font-size:53.0px" fill="#262626">[m/s]</text>
<text transform="translate(591.70,3315.70) scale(0.9000,1)" style="font-family:'Liberation Serif', serif;font-size:86.0px" fill="#000">(</text>
<text transform="translate(664.73,3315.70) scale(0.9000,1)" style="font-family:'Liberation Serif', serif;font-size:86.0px" fill="#000">)</text>
<text transform="translate(617.71,3315.70) scale(1.0779,1)" style="font-family:'Liberation Serif', serif;font-size:84.0px;font-weight:bold" fill="#000">g</text>
<rect x="1456.60" y="2562.60" width="865.00" height="510.60" fill="none" stroke="#262626" stroke-width="1.1"/>
<line x1="1456.60" y1="3073.20" x2="1456.60" y2="3064.20" stroke="#262626" stroke-width="1.0"/>
<line x1="1456.60" y1="2562.60" x2="1456.60" y2="2571.60" stroke="#262626" stroke-width="1.0"/>
<text transform="translate(1441.57,3136.30) scale(1.0940,1)" style="font-family:'Liberation Sans', sans-serif;font-size:49.4px" fill="#262626">0</text>
<line x1="1672.85" y1="3073.20" x2="1672.85" y2="3064.20" stroke="#262626" stroke-width="1.0"/>
<line x1="1672.85" y1="2562.60" x2="1672.85" y2="2571.60" stroke="#262626" stroke-width="1.0"/>
<text transform="translate(1642.79,3136.30) scale(1.0940,1)" style="font-family:'Liberation Sans', sans-serif;font-size:49.4px" fill="#262626">50</text>
<line x1="1889.10" y1="3073.20" x2="1889.10" y2="3064.20" stroke="#262626" stroke-width="1.0"/>
<line x1="1889.10" y1="2562.60" x2="1889.10" y2="2571.60" stroke="#262626" stroke-width="1.0"/>
<text transform="translate(1844.02,3136.30) scale(1.0940,1)" style="font-family:'Liberation Sans', sans-serif;font-size:49.4px" fill="#262626">100</text>
<line x1="2105.35" y1="3073.20" x2="2105.35" y2="3064.20" stroke="#262626" stroke-width="1.0"/>
<line x1="2105.35" y1="2562.60" x2="2105.35" y2="2571.60" stroke="#262626" stroke-width="1.0"/>
<text transform="translate(2060.27,3136.30) scale(1.0940,1)" style="font-family:'Liberation Sans', sans-serif;font-size:49.4px" fill="#262626">150</text>
<line x1="2321.60" y1="3073.20" x2="2321.60" y2="3064.20" stroke="#262626" stroke-width="1.0"/>
<line x1="2321.60" y1="2562.60" x2="2321.60" y2="2571.60" stroke="#262626" stroke-width="1.0"/>
<text transform="translate(2276.52,3136.30) scale(1.0940,1)" style="font-family:'Liberation Sans', sans-serif;font-size:49.4px" fill="#262626">200</text>
<line x1="1456.60" y1="3073.20" x2="1465.60" y2="3073.20" stroke="#262626" stroke-width="1.0"/>
<line x1="2321.60" y1="3073.20" x2="2312.60" y2="3073.20" stroke="#262626" stroke-width="1.0"/>
<text transform="translate(1363.19,3092.70) scale(1.0940,1)" style="font-family:'Liberation Sans', sans-serif;font-size:49.4px" fill="#262626">-10</text>
<line x1="1456.60" y1="2971.08" x2="1465.60" y2="2971.08" stroke="#262626" stroke-width="1.0"/>
<line x1="2321.60" y1="2971.08" x2="2312.60" y2="2971.08" stroke="#262626" stroke-width="1.0"/>
<text transform="translate(1393.25,2990.58) scale(1.0940,1)" style="font-family:'Liberation Sans', sans-serif;font-size:49.4px" fill="#262626">-5</text>
<line x1="1456.60" y1="2868.96" x2="1465.60" y2="2868.96" stroke="#262626" stroke-width="1.0"/>
<line x1="2321.60" y1="2868.96" x2="2312.60" y2="2868.96" stroke="#262626" stroke-width="1.0"/>
<text transform="translate(1411.24,2888.46) scale(1.0940,1)" style="font-family:'Liberation Sans', sans-serif;font-size:49.4px" fill="#262626">0</text>
<line x1="1456.60" y1="2766.84" x2="1465.60" y2="2766.84" stroke="#262626" stroke-width="1.0"/>
<line x1="2321.60" y1="2766.84" x2="2312.60" y2="2766.84" stroke="#262626" stroke-width="1.0"/>
<text transform="translate(1411.24,2786.34) scale(1.0940,1)" style="font-family:'Liberation Sans', sans-serif;font-size:49.4px" fill="#262626">5</text>
<line x1="1456.60" y1="2664.72" x2="1465.60" y2="2664.72" stroke="#262626" stroke-width="1.0"/>
<line x1="2321.60" y1="2664.72" x2="2312.60" y2="2664.72" stroke="#262626" stroke-width="1.0"/>
<text transform="translate(1381.19,2684.22) scale(1.0940,1)" style="font-family:'Liberation Sans', sans-serif;font-size:49.4px" fill="#262626">10</text>
<line x1="1456.60" y1="2562.60" x2="1465.60" y2="2562.60" stroke="#262626" stroke-width="1.0"/>
<line x1="2321.60" y1="2562.60" x2="2312.60" y2="2562.60" stroke="#262626" stroke-width="1.0"/>
<text transform="translate(1381.19,2582.10) scale(1.0940,1)" style="font-family:'Liberation Sans', sans-serif;font-size:49.4px" fill="#262626">15</text>
<path d="M1456.60,2864.88 L1456.73,2599.98 L1457.90,2862.83 L1457.90,2862.83 L1460.92,2864.88 L1564.72,2864.88 L1586.35,2863.85 L1824.22,2863.85 L1845.85,2864.88 L2321.60,2864.88" fill="none" stroke="#0072BD" stroke-width="5.1" stroke-linejoin="round"/>
<path d="M1456.60,2603.45 L1456.69,2999.67 L1456.77,2868.96 L1457.58,2871.20 L1458.69,2872.97 L1460.02,2874.05 L1461.79,2874.62 L1463.93,2875.00 L1465.86,2875.01 L1467.56,2874.11 L1469.20,2872.68 L1470.89,2871.39 L1472.70,2870.71 L1474.61,2870.21 L1476.58,2869.76 L1478.60,2869.40 L1480.62,2869.13 L1482.62,2868.96 L1484.62,2868.83 L1486.62,2868.72 L1488.62,2868.63 L1490.63,2868.54 L1492.64,2868.47 L1494.65,2868.41 L1496.66,2868.37 L1498.67,2868.35 L1500.68,2868.35 L1502.69,2868.36 L1504.69,2868.38 L1506.70,2868.42 L1508.70,2868.46 L1510.71,2868.51 L1512.72,2868.56 L1514.72,2868.63 L1516.73,2868.69 L1518.74,2868.76 L1520.74,2868.83 L1522.75,2868.90 L1524.76,2868.97 L1526.76,2869.04 L1528.77,2869.11 L1530.78,2869.17 L1532.78,2869.22 L1534.79,2869.27 L1536.80,2869.31 L1538.80,2869.34 L1540.81,2869.36 L1542.82,2869.37 L1544.82,2869.37 L1546.83,2869.37 L1548.84,2869.37 L1550.84,2869.37 L1552.85,2869.37 L1554.86,2869.37 L1556.87,2869.37 L1558.87,2869.37 L1560.88,2869.37 L1562.89,2869.37 L1564.89,2869.37 L1566.90,2869.37 L1568.91,2869.37 L1570.91,2869.37 L1572.92,2869.37 L1574.93,2869.37 L1576.93,2869.37 L1578.94,2869.37 L1580.95,2869.37 L1582.95,2869.37 L1584.96,2869.37 L1586.97,2869.37 L1588.97,2869.37 L1590.98,2869.37 L1592.99,2869.37 L1595.00,2869.37 L1597.00,2869.37 L1599.01,2869.37 L1601.02,2869.37 L1603.02,2869.37 L1605.03,2869.37 L1607.04,2869.37 L1609.04,2869.37 L1611.05,2869.37 L1613.06,2869.37 L1615.06,2869.37 L1617.07,2869.37 L1619.08,2869.37 L1621.08,2869.37 L1623.09,2869.37 L1625.10,2869.37 L1627.10,2869.37 L1629.11,2869.37 L1631.12,2869.37 L1633.13,2869.37 L1635.13,2869.37 L1637.14,2869.37 L1639.15,2869.37 L1641.15,2869.37 L1643.16,2869.37 L1645.17,2869.37 L1647.17,2869.37 L1649.18,2869.37 L1651.19,2869.37 L1653.19,2869.37 L1655.20,2869.37 L1657.21,2869.37 L1659.21,2869.37 L1661.22,2869.37 L1663.23,2869.37 L1665.24,2869.37 L1667.24,2869.37 L1669.25,2869.37 L1671.26,2869.37 L1673.26,2869.37 L1675.27,2869.37 L1677.28,2869.37 L1679.28,2869.37 L1681.29,2869.37 L1683.30,2869.37 L1685.30,2869.37 L1687.31,2869.37 L1689.32,2869.37 L1691.32,2869.37 L1693.33,2869.37 L1695.34,2869.37 L1697.35,2869.37 L1699.35,2869.37 L1701.36,2869.37 L1703.37,2869.37 L1705.37,2869.37 L1707.38,2869.37 L1709.39,2869.37 L1711.39,2869.37 L1713.40,2869.37 L1715.41,2869.37 L1717.41,2869.37 L1719.42,2869.37 L1721.43,2869.37 L1723.44,2869.37 L1725.44,2869.37 L1727.45,2869.37 L1729.46,2869.37 L1731.46,2869.37 L1733.47,2869.37 L1735.48,2869.37 L1737.48,2869.37 L1739.49,2869.37 L1741.50,2869.37 L1743.50,2869.37 L1745.51,2869.37 L1747.52,2869.37 L1749.53,2869.37 L1751.53,2869.37 L1753.54,2869.37 L1755.55,2869.37 L1757.55,2869.37 L1759.56,2869.37 L1761.57,2869.37 L1763.57,2869.37 L1765.58,2869.37 L1767.59,2869.37 L1769.60,2869.37 L1771.60,2869.37 L1773.61,2869.37 L1775.62,2869.37 L1777.62,2869.37 L1779.63,2869.37 L1781.64,2869.37 L1783.64,2869.37 L1785.65,2869.37 L1787.66,2869.37 L1789.66,2869.37 L1791.67,2869.37 L1793.68,2869.37 L1795.69,2869.37 L1797.69,2869.37 L1799.70,2869.37 L1801.71,2869.37 L1803.71,2869.37 L1805.72,2869.37 L1807.73,2869.37 L1809.73,2869.37 L1811.74,2869.37 L1813.75,2869.37 L1815.76,2869.37 L1817.76,2869.37 L1819.77,2869.37 L1821.78,2869.37 L1823.78,2869.37 L1825.79,2869.37 L1827.80,2869.37 L1829.80,2869.37 L1831.81,2869.37 L1833.82,2869.37 L1835.83,2869.37 L1837.83,2869.37 L1839.84,2869.37 L1841.85,2869.37 L1843.85,2869.37 L1845.86,2869.37 L1847.87,2869.37 L1849.88,2869.37 L1851.88,2869.37 L1853.89,2869.37 L1855.90,2869.37 L1857.90,2869.37 L1859.91,2869.37 L1861.92,2869.37 L1863.92,2869.37 L1865.93,2869.37 L1867.94,2869.37 L1869.95,2869.37 L1871.95,2869.37 L1873.96,2869.37 L1875.97,2869.37 L1877.97,2869.37 L1879.98,2869.37 L1881.99,2869.37 L1884.00,2869.37 L1886.00,2869.37 L1888.01,2869.37 L1890.02,2869.37 L1892.02,2869.37 L1894.03,2869.37 L1896.04,2869.37 L1898.04,2869.37 L1900.05,2869.37 L1902.06,2869.37 L1904.07,2869.37 L1906.07,2869.37 L1908.08,2869.37 L1910.09,2869.37 L1912.09,2869.37 L1914.10,2869.37 L1916.11,2869.37 L1918.12,2869.37 L1920.12,2869.37 L1922.13,2869.37 L1924.14,2869.37 L1926.14,2869.37 L1928.15,2869.37 L1930.16,2869.37 L1932.17,2869.37 L1934.17,2869.37 L1936.18,2869.37 L1938.19,2869.37 L1940.19,2869.37 L1942.20,2869.37 L1944.21,2869.37 L1946.22,2869.37 L1948.22,2869.37 L1950.23,2869.37 L1952.24,2869.37 L1954.24,2869.37 L1956.25,2869.37 L1958.26,2869.37 L1960.27,2869.37 L1962.27,2869.37 L1964.28,2869.37 L1966.29,2869.37 L1968.29,2869.37 L1970.30,2869.37 L1972.31,2869.37 L1974.32,2869.37 L1976.32,2869.37 L1978.33,2869.37 L1980.34,2869.37 L1982.34,2869.37 L1984.35,2869.37 L1986.36,2869.37 L1988.37,2869.37 L1990.37,2869.37 L1992.38,2869.37 L1994.39,2869.37 L1996.39,2869.37 L1998.40,2869.37 L2000.41,2869.37 L2002.42,2869.37 L2004.42,2869.37 L2006.43,2869.37 L2008.44,2869.37 L2010.45,2869.37 L2012.45,2869.37 L2014.46,2869.37 L2016.47,2869.37 L2018.47,2869.37 L2020.48,2869.37 L2022.49,2869.37 L2024.50,2869.37 L2026.50,2869.37 L2028.51,2869.37 L2030.52,2869.37 L2032.53,2869.37 L2034.53,2869.37 L2036.54,2869.37 L2038.55,2869.37 L2040.55,2869.37 L2042.56,2869.37 L2044.57,2869.37 L2046.58,2869.37 L2048.58,2869.37 L2050.59,2869.37 L2052.60,2869.37 L2054.60,2869.37 L2056.61,2869.37 L2058.62,2869.37 L2060.63,2869.37 L2062.63,2869.37 L2064.64,2869.37 L2066.65,2869.37 L2068.66,2869.37 L2070.66,2869.37 L2072.67,2869.37 L2074.68,2869.37 L2076.69,2869.37 L2078.69,2869.37 L2080.70,2869.37 L2082.71,2869.37 L2084.71,2869.37 L2086.72,2869.37 L2088.73,2869.37 L2090.74,2869.37 L2092.74,2869.37 L2094.75,2869.37 L2096.76,2869.37 L2098.77,2869.37 L2100.77,2869.37 L2102.78,2869.37 L2104.79,2869.37 L2106.80,2869.37 L2108.80,2869.37 L2110.81,2869.37 L2112.82,2869.37 L2114.82,2869.37 L2116.83,2869.37 L2118.84,2869.37 L2120.85,2869.37 L2122.85,2869.37 L2124.86,2869.37 L2126.87,2869.37 L2128.88,2869.37 L2130.88,2869.37 L2132.89,2869.37 L2134.90,2869.37 L2136.91,2869.37 L2138.91,2869.37 L2140.92,2869.37 L2142.93,2869.37 L2144.94,2869.37 L2146.94,2869.37 L2148.95,2869.37 L2150.96,2869.37 L2152.97,2869.37 L2154.97,2869.37 L2156.98,2869.37 L2158.99,2869.37 L2160.99,2869.37 L2163.00,2869.37 L2165.01,2869.37 L2167.02,2869.37 L2169.02,2869.37 L2171.03,2869.37 L2173.04,2869.37 L2175.05,2869.37 L2177.05,2869.37 L2179.06,2869.37 L2181.07,2869.37 L2183.08,2869.37 L2185.08,2869.37 L2187.09,2869.37 L2189.10,2869.37 L2191.11,2869.37 L2193.11,2869.37 L2195.12,2869.37 L2197.13,2869.37 L2199.14,2869.37 L2201.14,2869.37 L2203.15,2869.37 L2205.16,2869.37 L2207.17,2869.37 L2209.17,2869.37 L2211.18,2869.37 L2213.19,2869.37 L2215.20,2869.37 L2217.20,2869.37 L2219.21,2869.37 L2221.22,2869.37 L2223.23,2869.37 L2225.23,2869.37 L2227.24,2869.37 L2229.25,2869.37 L2231.26,2869.37 L2233.26,2869.37 L2235.27,2869.37 L2237.28,2869.37 L2239.29,2869.37 L2241.29,2869.37 L2243.30,2869.37 L2245.31,2869.37 L2247.32,2869.37 L2249.33,2869.37 L2251.33,2869.37 L2253.34,2869.37 L2255.35,2869.37 L2257.36,2869.37 L2259.36,2869.37 L2261.37,2869.37 L2263.38,2869.37 L2265.39,2869.37 L2267.39,2869.37 L2269.40,2869.37 L2271.41,2869.37 L2273.42,2869.37 L2275.42,2869.37 L2277.43,2869.37 L2279.44,2869.37 L2281.45,2869.37 L2283.45,2869.37 L2285.46,2869.37 L2287.47,2869.37 L2289.48,2869.37 L2291.48,2869.37 L2293.49,2869.37 L2295.50,2869.37 L2297.51,2869.37 L2299.52,2869.37 L2301.52,2869.37 L2303.53,2869.37 L2305.54,2869.37 L2307.55,2869.37 L2309.55,2869.37 L2311.56,2869.37 L2313.57,2869.37 L2315.58,2869.37 L2317.58,2869.37 L2319.59,2869.37 L2321.60,2869.37" fill="none" stroke="#007F00" stroke-width="5.1" stroke-linejoin="round" stroke-dasharray="15,12"/>
<text transform="translate(1841.09,3205.50) scale(1.1350,1)" style="font-family:'Liberation Sans', sans-serif;font-size:52.5px" fill="#262626">t [s]</text>
<text transform="translate(1313.60,2982.50) scale(1.1100,1) rotate(-90) scale(0.9700,1)" style="font-family:'Noto Serif CJK SC', serif;font-size:45.4px;font-style:italic;font-weight:200" fill="#262626">τ</text>
<text transform="translate(1342.46,2955.75) scale(1.1100,1) rotate(-90) scale(1.0000,1)" style="font-family:'Liberation Sans', sans-serif;font-size:41.5px" fill="#262626">u</text>
<text transform="translate(1313.60,2916.33) scale(1.1100,1) rotate(-90) scale(1.0000,1)" style="font-family:'Liberation Sans', sans-serif;font-size:53.0px" fill="#262626">[N]</text>
<text transform="translate(1313.60,2851.31) scale(1.1100,1) rotate(-90) scale(1.0000,1)" style="font-family:'Liberation Sans', sans-serif;font-size:53.0px" fill="#262626">,</text>
<text transform="translate(1313.60,2824.30) scale(1.1100,1) rotate(-90) scale(0.9700,1)" style="font-family:'Noto Serif CJK SC', serif;font-size:45.4px;font-style:italic;font-weight:200" fill="#262626">τ</text>
<text transform="translate(1342.46,2799.61) scale(1.1100,1) rotate(-90) scale(1.0000,1)" style="font-family:'Liberation Sans', sans-serif;font-size:41.5px" fill="#262626">r</text>
<text transform="translate(1313.60,2769.23) scale(1.1100,1) rotate(-90) scale(1.0000,1)" style="font-family:'Liberation Sans', sans-serif;font-size:53.0px" fill="#262626">[Nm]</text>
<text transform="translate(1791.70,3315.70) scale(0.9000,1)" style="font-family:'Liberation Serif', serif;font-size:86.0px" fill="#000">(</text>
<text transform="translate(1868.63,3315.70) scale(0.9000,1)" style="font-family:'Liberation Serif', serif;font-size:86.0px" fill="#000">)</text>
<text transform="translate(1817.84,3315.70) scale(1.0818,1)" style="font-family:'Liberation Serif', serif;font-size:84.0px;font-weight:bold" fill="#000">h</text>
<rect x="875.30" y="367.40" width="142.30" height="135.90" fill="#fff" stroke="#262626" stroke-width="1.1"/>
<path d="M888.60,407.40 L957.60,407.40" fill="none" stroke="#0072BD" stroke-width="4.9" stroke-linejoin="round"/>
<text transform="translate(961.80,414.90) scale(1.1100,1)" style="font-family:'Liberation Sans', sans-serif;font-size:42px" fill="#000">p</text>
<text transform="translate(990.38,435.90) scale(1.1100,1)" style="font-family:'Liberation Sans', sans-serif;font-size:30.5px" fill="#000">d</text>
<path d="M888.60,471.40 L957.60,471.40" fill="none" stroke="#007F00" stroke-width="4.9" stroke-linejoin="round" stroke-dasharray="15,12"/>
<text transform="translate(961.80,490.30) scale(1.1100,1)" style="font-family:'Liberation Sans', sans-serif;font-size:42px" fill="#000">p</text>
<rect x="2062.30" y="141.20" width="178.30" height="153.20" fill="#fff" stroke="#262626" stroke-width="1.1"/>
<path d="M2075.60,181.30 L2144.60,181.30" fill="none" stroke="#0072BD" stroke-width="4.9" stroke-linejoin="round"/>
<text transform="translate(2150.27,188.90) scale(1.3764,1)" style="font-family:'Liberation Serif', serif;font-size:44.5px" fill="#000">Δ</text>
<text transform="translate(2190.54,188.90) scale(1.2210,1)" style="font-family:'Liberation Serif', serif;font-size:42.2px;font-style:italic" fill="#000" stroke="#fff" stroke-width="0.55">ξ</text>
<text transform="translate(2212.62,210.10) scale(1.1100,1)" style="font-family:'Liberation Sans', sans-serif;font-size:30.5px" fill="#000">1</text>
<path d="M2075.60,254.00 L2144.60,254.00" fill="none" stroke="#007F00" stroke-width="4.9" stroke-linejoin="round" stroke-dasharray="15,12"/>
<text transform="translate(2150.27,260.40) scale(1.3764,1)" style="font-family:'Liberation Serif', serif;font-size:44.5px" fill="#000">Δ</text>
<text transform="translate(2190.54,260.40) scale(1.2210,1)" style="font-family:'Liberation Serif', serif;font-size:42.2px;font-style:italic" fill="#000" stroke="#fff" stroke-width="0.55">ξ</text>
<text transform="translate(2213.50,281.60) scale(1.1100,1)" style="font-family:'Liberation Sans', sans-serif;font-size:30.5px" fill="#000">2</text>
<rect x="803.30" y="1140.20" width="179.40" height="152.10" fill="#fff" stroke="#262626" stroke-width="1.1"/>
<path d="M816.60,1180.30 L885.60,1180.30" fill="none" stroke="#0072BD" stroke-width="4.9" stroke-linejoin="round"/>
<text transform="translate(891.27,1187.30) scale(1.3764,1)" style="font-family:'Liberation Serif', serif;font-size:44.5px" fill="#000">Δ</text>
<text transform="translate(931.54,1187.30) scale(1.2210,1)" style="font-family:'Liberation Serif', serif;font-size:42.2px;font-style:italic" fill="#000" stroke="#fff" stroke-width="0.55">ξ</text>
<text transform="translate(954.91,1208.50) scale(1.1100,1)" style="font-family:'Liberation Sans', sans-serif;font-size:30.5px" fill="#000">3</text>
<path d="M816.60,1253.00 L885.60,1253.00" fill="none" stroke="#007F00" stroke-width="4.9" stroke-linejoin="round" stroke-dasharray="15,12"/>
<text transform="translate(891.27,1259.70) scale(1.3764,1)" style="font-family:'Liberation Serif', serif;font-size:44.5px" fill="#000">Δ</text>
<text transform="translate(931.54,1259.70) scale(1.2210,1)" style="font-family:'Liberation Serif', serif;font-size:42.2px;font-style:italic" fill="#000" stroke="#fff" stroke-width="0.55">ξ</text>
<text transform="translate(955.42,1280.90) scale(1.1100,1)" style="font-family:'Liberation Sans', sans-serif;font-size:30.5px" fill="#000">4</text>
<rect x="2124.30" y="929.30" width="138.50" height="153.20" fill="#fff" stroke="#262626" stroke-width="1.1"/>
<path d="M2137.60,969.40 L2206.60,969.40" fill="none" stroke="#0072BD" stroke-width="4.9" stroke-linejoin="round"/>
<text transform="translate(2208.73,977.50) scale(1.3875,1)" style="font-family:'Noto Serif CJK SC', serif;font-size:34.5px;font-style:italic" fill="#000">τ</text>
<text transform="translate(2235.40,998.00) scale(1.1100,1)" style="font-family:'Liberation Sans', sans-serif;font-size:30.5px" fill="#000">u</text>
<path d="M2137.60,1042.10 L2206.60,1042.10" fill="none" stroke="#007F00" stroke-width="4.9" stroke-linejoin="round" stroke-dasharray="15,12"/>
<text transform="translate(2208.73,1048.10) scale(1.3875,1)" style="font-family:'Noto Serif CJK SC', serif;font-size:34.5px;font-style:italic" fill="#000">τ</text>
<text transform="translate(2235.35,1068.60) scale(1.1100,1)" style="font-family:'Liberation Sans', sans-serif;font-size:30.5px" fill="#000">r</text>
<rect x="871.50" y="1792.40" width="143.00" height="136.00" fill="#fff" stroke="#262626" stroke-width="1.1"/>
<path d="M884.80,1832.40 L953.80,1832.40" fill="none" stroke="#0072BD" stroke-width="4.9" stroke-linejoin="round"/>
<text transform="translate(958.00,1839.90) scale(1.1100,1)" style="font-family:'Liberation Sans', sans-serif;font-size:42px" fill="#000">p</text>
<text transform="translate(986.58,1860.90) scale(1.1100,1)" style="font-family:'Liberation Sans', sans-serif;font-size:30.5px" fill="#000">d</text>
<path d="M884.80,1896.40 L953.80,1896.40" fill="none" stroke="#007F00" stroke-width="4.9" stroke-linejoin="round" stroke-dasharray="15,12"/>
<text transform="translate(958.00,1915.30) scale(1.1100,1)" style="font-family:'Liberation Sans', sans-serif;font-size:42px" fill="#000">p</text>
<rect x="2072.30" y="1764.40" width="178.30" height="151.90" fill="#fff" stroke="#262626" stroke-width="1.1"/>
<path d="M2085.60,1804.50 L2154.60,1804.50" fill="none" stroke="#0072BD" stroke-width="4.9" stroke-linejoin="round"/>
<text transform="translate(2160.27,1812.10) scale(1.3764,1)" style="font-family:'Liberation Serif', serif;font-size:44.5px" fill="#000">Δ</text>
<text transform="translate(2200.54,1812.10) scale(1.2210,1)" style="font-family:'Liberation Serif', serif;font-size:42.2px;font-style:italic" fill="#000" stroke="#fff" stroke-width="0.55">ξ</text>
<text transform="translate(2222.62,1833.30) scale(1.1100,1)" style="font-family:'Liberation Sans', sans-serif;font-size:30.5px" fill="#000">1</text>
<path d="M2085.60,1877.20 L2154.60,1877.20" fill="none" stroke="#007F00" stroke-width="4.9" stroke-linejoin="round" stroke-dasharray="15,12"/>
<text transform="translate(2160.27,1883.60) scale(1.3764,1)" style="font-family:'Liberation Serif', serif;font-size:44.5px" fill="#000">Δ</text>
<text transform="translate(2200.54,1883.60) scale(1.2210,1)" style="font-family:'Liberation Serif', serif;font-size:42.2px;font-style:italic" fill="#000" stroke="#fff" stroke-width="0.55">ξ</text>
<text transform="translate(2223.50,1904.80) scale(1.1100,1)" style="font-family:'Liberation Sans', sans-serif;font-size:30.5px" fill="#000">2</text>
<rect x="842.30" y="2616.30" width="179.60" height="152.20" fill="#fff" stroke="#262626" stroke-width="1.1"/>
<path d="M855.60,2656.40 L924.60,2656.40" fill="none" stroke="#0072BD" stroke-width="4.9" stroke-linejoin="round"/>
<text transform="translate(930.27,2663.40) scale(1.3764,1)" style="font-family:'Liberation Serif', serif;font-size:44.5px" fill="#000">Δ</text>
<text transform="translate(970.54,2663.40) scale(1.2210,1)" style="font-family:'Liberation Serif', serif;font-size:42.2px;font-style:italic" fill="#000" stroke="#fff" stroke-width="0.55">ξ</text>
<text transform="translate(993.91,2684.60) scale(1.1100,1)" style="font-family:'Liberation Sans', sans-serif;font-size:30.5px" fill="#000">3</text>
<path d="M855.60,2729.10 L924.60,2729.10" fill="none" stroke="#007F00" stroke-width="4.9" stroke-linejoin="round" stroke-dasharray="15,12"/>
<text transform="translate(930.27,2735.80) scale(1.3764,1)" style="font-family:'Liberation Serif', serif;font-size:44.5px" fill="#000">Δ</text>
<text transform="translate(970.54,2735.80) scale(1.2210,1)" style="font-family:'Liberation Serif', serif;font-size:42.2px;font-style:italic" fill="#000" stroke="#fff" stroke-width="0.55">ξ</text>
<text transform="translate(994.42,2757.00) scale(1.1100,1)" style="font-family:'Liberation Sans', sans-serif;font-size:30.5px" fill="#000">4</text>
<rect x="2068.20" y="2614.30" width="138.40" height="153.20" fill="#fff" stroke="#262626" stroke-width="1.1"/>
<path d="M2081.50,2654.40 L2150.50,2654.40" fill="none" stroke="#0072BD" stroke-width="4.9" stroke-linejoin="round"/>
<text transform="translate(2152.63,2662.50) scale(1.3875,1)" style="font-family:'Noto Serif CJK SC', serif;font-size:34.5px;font-style:italic" fill="#000">τ</text>
<text transform="translate(2179.30,2683.00) scale(1.1100,1)" style="font-family:'Liberation Sans', sans-serif;font-size:30.5px" fill="#000">u</text>
<path d="M2081.50,2727.10 L2150.50,2727.10" fill="none" stroke="#007F00" stroke-width="4.9" stroke-linejoin="round" stroke-dasharray="15,12"/>
<text transform="translate(2152.63,2733.10) scale(1.3875,1)" style="font-family:'Noto Serif CJK SC', serif;font-size:34.5px;font-style:italic" fill="#000">τ</text>
<text transform="translate(2179.25,2753.60) scale(1.1100,1)" style="font-family:'Liberation Sans', sans-serif;font-size:30.5px" fill="#000">r</text>
</svg></body></html>
